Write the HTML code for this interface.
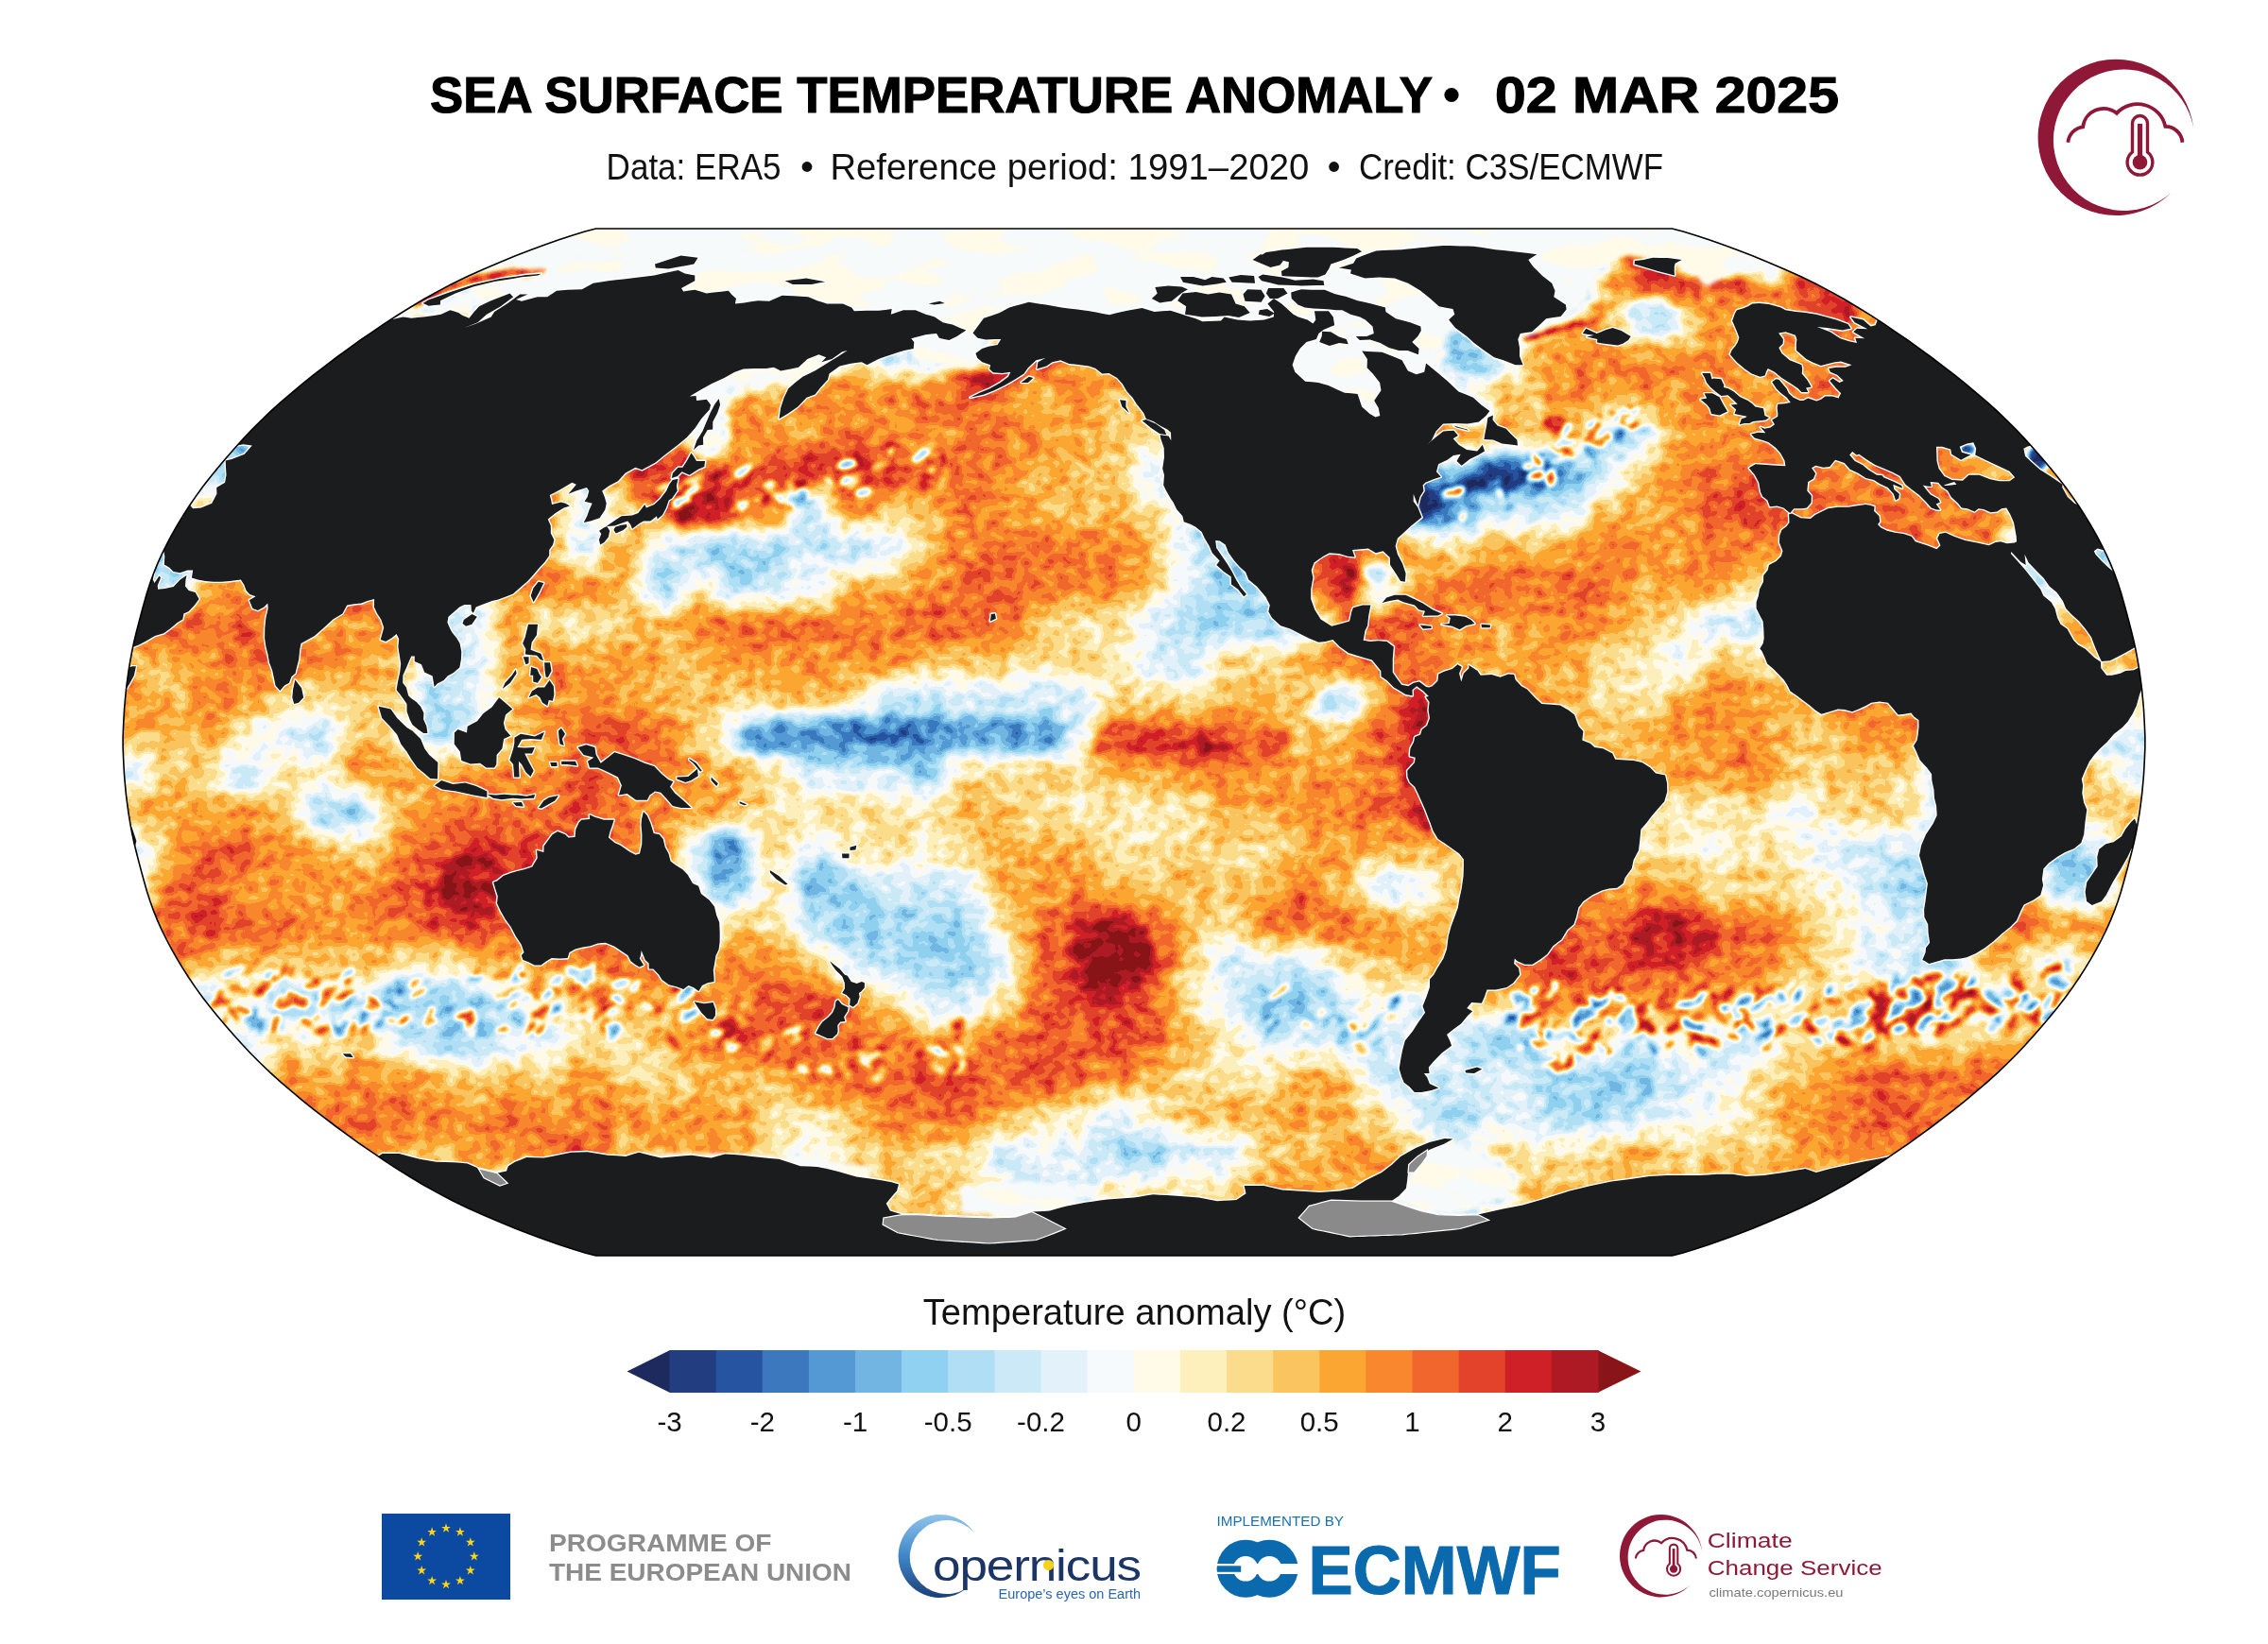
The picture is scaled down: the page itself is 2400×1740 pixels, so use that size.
<!DOCTYPE html>
<html><head><meta charset="utf-8"><title>SST anomaly</title>
<style>
html,body{margin:0;padding:0;background:#fff;}
body{width:2400px;height:1740px;overflow:hidden;position:relative;font-family:"Liberation Sans",sans-serif;}
svg{position:absolute;left:0;top:0;}

</style></head><body>
<svg width="2400" height="1740" viewBox="0 0 2400 1740">
<defs>
<clipPath id="mapclip"><path d="M1769.5,1329.0 L1781.1,1325.9 L1793.9,1322.1 L1807.8,1317.5 L1822.7,1312.3 L1838.3,1306.5 L1854.6,1300.2 L1871.4,1293.3 L1888.4,1286.0 L1905.3,1278.4 L1921.7,1270.5 L1937.1,1262.4 L1951.7,1254.2 L1965.8,1245.8 L1979.5,1237.3 L1992.9,1228.6 L2006.0,1219.7 L2019.0,1210.8 L2031.7,1201.7 L2044.2,1192.5 L2056.5,1183.2 L2068.6,1173.8 L2080.4,1164.3 L2091.9,1154.7 L2103.1,1145.1 L2113.9,1135.3 L2124.2,1125.5 L2134.0,1115.7 L2143.4,1105.8 L2152.4,1095.8 L2161.1,1085.8 L2169.6,1075.7 L2177.9,1065.6 L2185.7,1055.5 L2193.0,1045.4 L2199.9,1035.2 L2206.4,1025.1 L2212.6,1014.9 L2218.4,1004.7 L2223.8,994.5 L2228.8,984.3 L2233.4,974.1 L2237.5,963.9 L2241.2,953.7 L2244.5,943.5 L2247.4,933.3 L2250.2,923.1 L2252.9,912.9 L2255.5,902.7 L2258.0,892.5 L2260.2,882.3 L2262.1,872.1 L2263.8,862.0 L2265.2,851.8 L2266.5,841.6 L2267.5,831.4 L2268.4,821.2 L2269.0,811.0 L2269.5,800.8 L2269.9,790.6 L2269.9,780.4 L2269.5,770.2 L2269.0,760.0 L2268.4,749.8 L2267.5,739.6 L2266.5,729.4 L2265.2,719.2 L2263.8,709.0 L2262.1,698.9 L2260.2,688.7 L2258.0,678.5 L2255.5,668.3 L2252.9,658.1 L2250.2,647.9 L2247.4,637.7 L2244.5,627.5 L2241.2,617.3 L2237.5,607.1 L2233.4,596.9 L2228.8,586.7 L2223.8,576.5 L2218.4,566.3 L2212.6,556.1 L2206.4,545.9 L2199.9,535.8 L2193.0,525.6 L2185.7,515.5 L2177.9,505.4 L2169.6,495.3 L2161.1,485.2 L2152.4,475.2 L2143.4,465.2 L2134.0,455.3 L2124.2,445.5 L2113.9,435.7 L2103.1,425.9 L2091.9,416.3 L2080.4,406.7 L2068.6,397.2 L2056.5,387.8 L2044.2,378.5 L2031.7,369.3 L2019.0,360.2 L2006.0,351.3 L1992.9,342.4 L1979.5,333.7 L1965.8,325.2 L1951.7,316.8 L1937.1,308.6 L1921.7,300.5 L1905.3,292.6 L1888.4,285.0 L1871.4,277.7 L1854.6,270.8 L1838.3,264.5 L1822.7,258.7 L1807.8,253.5 L1793.9,248.9 L1781.1,245.1 L1769.5,242.0 L630.5,242.0 L618.9,245.1 L606.1,248.9 L592.2,253.5 L577.3,258.7 L561.7,264.5 L545.4,270.8 L528.6,277.7 L511.6,285.0 L494.7,292.6 L478.3,300.5 L462.9,308.6 L448.3,316.8 L434.2,325.2 L420.5,333.7 L407.1,342.4 L394.0,351.3 L381.0,360.2 L368.3,369.3 L355.8,378.5 L343.5,387.8 L331.4,397.2 L319.6,406.7 L308.1,416.3 L296.9,425.9 L286.1,435.7 L275.8,445.5 L266.0,455.3 L256.6,465.2 L247.6,475.2 L238.9,485.2 L230.4,495.3 L222.1,505.4 L214.3,515.5 L207.0,525.6 L200.1,535.8 L193.6,545.9 L187.4,556.1 L181.6,566.3 L176.2,576.5 L171.2,586.7 L166.6,596.9 L162.5,607.1 L158.8,617.3 L155.5,627.5 L152.6,637.7 L149.8,647.9 L147.1,658.1 L144.5,668.3 L142.0,678.5 L139.8,688.7 L137.9,698.9 L136.2,709.0 L134.8,719.2 L133.5,729.4 L132.5,739.6 L131.6,749.8 L131.0,760.0 L130.5,770.2 L130.1,780.4 L130.1,790.6 L130.5,800.8 L131.0,811.0 L131.6,821.2 L132.5,831.4 L133.5,841.6 L134.8,851.8 L136.2,862.0 L137.9,872.1 L139.8,882.3 L142.0,892.5 L144.5,902.7 L147.1,912.9 L149.8,923.1 L152.6,933.3 L155.5,943.5 L158.8,953.7 L162.5,963.9 L166.6,974.1 L171.2,984.3 L176.2,994.5 L181.6,1004.7 L187.4,1014.9 L193.6,1025.1 L200.1,1035.2 L207.0,1045.4 L214.3,1055.5 L222.1,1065.6 L230.4,1075.7 L238.9,1085.8 L247.6,1095.8 L256.6,1105.8 L266.0,1115.7 L275.8,1125.5 L286.1,1135.3 L296.9,1145.1 L308.1,1154.7 L319.6,1164.3 L331.4,1173.8 L343.5,1183.2 L355.8,1192.5 L368.3,1201.7 L381.0,1210.8 L394.0,1219.7 L407.1,1228.6 L420.5,1237.3 L434.2,1245.8 L448.3,1254.2 L462.9,1262.4 L478.3,1270.5 L494.7,1278.4 L511.6,1286.0 L528.6,1293.3 L545.4,1300.2 L561.7,1306.5 L577.3,1312.3 L592.2,1317.5 L606.1,1322.1 L618.9,1325.9 L630.5,1329.0Z"/></clipPath>
<filter id="sst" filterUnits="userSpaceOnUse" x="0" y="120" width="2400" height="1340" color-interpolation-filters="sRGB">
<feTurbulence type="fractalNoise" baseFrequency="0.06 0.075" numOctaves="2" seed="7" result="t"/>
<feColorMatrix in="t" type="matrix" values="0 0 0 1 0  0 0 0 1 0  0 0 0 1 0  0 0 0 0 1" result="n"/>
<feTurbulence type="fractalNoise" baseFrequency="0.012 0.016" numOctaves="2" seed="3" result="t2"/>
<feColorMatrix in="t2" type="matrix" values="0 0 0 1 0  0 0 0 1 0  0 0 0 1 0  0 0 0 0 1" result="n2"/>
<feComposite in="SourceGraphic" in2="n" operator="arithmetic" k1="0" k2="1" k3="0.27" k4="-0.1350" result="m1"/>
<feComposite in="m1" in2="n2" operator="arithmetic" k1="0" k2="1" k3="0.1215" k4="-0.0608" result="m"/>
<feComponentTransfer in="m"><feFuncR type="discrete" tableValues="0.110 0.133 0.149 0.231 0.329 0.447 0.565 0.690 0.796 0.890 0.965 1.000 0.996 0.984 0.980 0.984 0.973 0.945 0.886 0.816 0.678 0.541"/><feFuncG type="discrete" tableValues="0.165 0.239 0.329 0.471 0.600 0.710 0.816 0.871 0.914 0.949 0.980 0.984 0.941 0.863 0.769 0.651 0.529 0.400 0.263 0.125 0.102 0.082"/><feFuncB type="discrete" tableValues="0.369 0.502 0.627 0.745 0.831 0.890 0.941 0.961 0.969 0.980 0.988 0.910 0.741 0.549 0.369 0.196 0.180 0.176 0.165 0.153 0.141 0.098"/></feComponentTransfer>
</filter>
<filter id="blurC" filterUnits="userSpaceOnUse" x="0" y="120" width="2400" height="1340" color-interpolation-filters="sRGB"><feGaussianBlur stdDeviation="13"/></filter>
<filter id="blurM" filterUnits="userSpaceOnUse" x="0" y="120" width="2400" height="1340" color-interpolation-filters="sRGB"><feGaussianBlur stdDeviation="6"/></filter>
<filter id="blurS" filterUnits="userSpaceOnUse" x="0" y="120" width="2400" height="1340" color-interpolation-filters="sRGB"><feGaussianBlur stdDeviation="2.6"/></filter>
<filter id="iceblur" filterUnits="userSpaceOnUse" x="0" y="120" width="2400" height="1340" color-interpolation-filters="sRGB"><feGaussianBlur stdDeviation="2.5" result="b"/>
<feTurbulence type="fractalNoise" baseFrequency="0.012 0.035" numOctaves="2" seed="5" result="t"/>
<feColorMatrix in="t" type="matrix" values="0 0 0 0 1  0 0 0 0 0.984  0 0 0 0 0.91  0 0 0 16 -8.3" result="cream"/>
<feComposite in="cream" in2="b" operator="in" result="c2"/>
<feMerge><feMergeNode in="b"/><feMergeNode in="c2"/></feMerge></filter>
</defs>
<g clip-path="url(#mapclip)">
<rect x="100" y="230" width="2200" height="1110" fill="#f6903c"/>
<g filter="url(#sst)">
<g filter="url(#blurC)" shape-rendering="crispEdges">
<rect x="0" y="120" width="241" height="41" fill="rgb(78,78,78)"/>
<rect x="240" y="120" width="161" height="41" fill="rgb(221,221,221)"/>
<rect x="400" y="120" width="161" height="41" fill="rgb(201,201,201)"/>
<rect x="560" y="120" width="1121" height="41" fill="rgb(128,128,128)"/>
<rect x="1680" y="120" width="41" height="41" fill="rgb(170,170,170)"/>
<rect x="1720" y="120" width="41" height="41" fill="rgb(187,187,187)"/>
<rect x="1760" y="120" width="161" height="41" fill="rgb(128,128,128)"/>
<rect x="1920" y="120" width="241" height="41" fill="rgb(221,221,221)"/>
<rect x="2160" y="120" width="241" height="41" fill="rgb(23,23,23)"/>
<rect x="0" y="160" width="241" height="41" fill="rgb(78,78,78)"/>
<rect x="240" y="160" width="161" height="41" fill="rgb(221,221,221)"/>
<rect x="400" y="160" width="161" height="41" fill="rgb(201,201,201)"/>
<rect x="560" y="160" width="1121" height="41" fill="rgb(128,128,128)"/>
<rect x="1680" y="160" width="41" height="41" fill="rgb(170,170,170)"/>
<rect x="1720" y="160" width="41" height="41" fill="rgb(187,187,187)"/>
<rect x="1760" y="160" width="161" height="41" fill="rgb(128,128,128)"/>
<rect x="1920" y="160" width="241" height="41" fill="rgb(221,221,221)"/>
<rect x="2160" y="160" width="241" height="41" fill="rgb(23,23,23)"/>
<rect x="0" y="200" width="241" height="41" fill="rgb(78,78,78)"/>
<rect x="240" y="200" width="161" height="41" fill="rgb(221,221,221)"/>
<rect x="400" y="200" width="161" height="41" fill="rgb(201,201,201)"/>
<rect x="560" y="200" width="1121" height="41" fill="rgb(128,128,128)"/>
<rect x="1680" y="200" width="41" height="41" fill="rgb(170,170,170)"/>
<rect x="1720" y="200" width="41" height="41" fill="rgb(187,187,187)"/>
<rect x="1760" y="200" width="161" height="41" fill="rgb(128,128,128)"/>
<rect x="1920" y="200" width="241" height="41" fill="rgb(221,221,221)"/>
<rect x="2160" y="200" width="241" height="41" fill="rgb(23,23,23)"/>
<rect x="0" y="240" width="241" height="41" fill="rgb(78,78,78)"/>
<rect x="240" y="240" width="161" height="41" fill="rgb(221,221,221)"/>
<rect x="400" y="240" width="161" height="41" fill="rgb(201,201,201)"/>
<rect x="560" y="240" width="1121" height="41" fill="rgb(128,128,128)"/>
<rect x="1680" y="240" width="41" height="41" fill="rgb(170,170,170)"/>
<rect x="1720" y="240" width="41" height="41" fill="rgb(187,187,187)"/>
<rect x="1760" y="240" width="161" height="41" fill="rgb(128,128,128)"/>
<rect x="1920" y="240" width="241" height="41" fill="rgb(221,221,221)"/>
<rect x="2160" y="240" width="241" height="41" fill="rgb(23,23,23)"/>
<rect x="0" y="280" width="281" height="41" fill="rgb(78,78,78)"/>
<rect x="280" y="280" width="161" height="41" fill="rgb(221,221,221)"/>
<rect x="440" y="280" width="41" height="41" fill="rgb(201,201,201)"/>
<rect x="480" y="280" width="41" height="41" fill="rgb(128,128,128)"/>
<rect x="520" y="280" width="41" height="41" fill="rgb(201,201,201)"/>
<rect x="560" y="280" width="1121" height="41" fill="rgb(128,128,128)"/>
<rect x="1680" y="280" width="41" height="41" fill="rgb(170,170,170)"/>
<rect x="1720" y="280" width="41" height="41" fill="rgb(221,221,221)"/>
<rect x="1760" y="280" width="81" height="41" fill="rgb(201,201,201)"/>
<rect x="1840" y="280" width="41" height="41" fill="rgb(187,187,187)"/>
<rect x="1880" y="280" width="41" height="41" fill="rgb(201,201,201)"/>
<rect x="1920" y="280" width="241" height="41" fill="rgb(221,221,221)"/>
<rect x="2160" y="280" width="241" height="41" fill="rgb(23,23,23)"/>
<rect x="0" y="320" width="281" height="41" fill="rgb(78,78,78)"/>
<rect x="280" y="320" width="161" height="41" fill="rgb(221,221,221)"/>
<rect x="440" y="320" width="41" height="41" fill="rgb(201,201,201)"/>
<rect x="480" y="320" width="1161" height="41" fill="rgb(128,128,128)"/>
<rect x="1640" y="320" width="81" height="41" fill="rgb(187,187,187)"/>
<rect x="1720" y="320" width="41" height="41" fill="rgb(104,104,104)"/>
<rect x="1760" y="320" width="41" height="41" fill="rgb(150,150,150)"/>
<rect x="1800" y="320" width="81" height="41" fill="rgb(187,187,187)"/>
<rect x="1880" y="320" width="41" height="41" fill="rgb(201,201,201)"/>
<rect x="1920" y="320" width="41" height="41" fill="rgb(221,221,221)"/>
<rect x="1960" y="320" width="161" height="41" fill="rgb(170,170,170)"/>
<rect x="2120" y="320" width="281" height="41" fill="rgb(23,23,23)"/>
<rect x="0" y="360" width="321" height="41" fill="rgb(78,78,78)"/>
<rect x="320" y="360" width="121" height="41" fill="rgb(221,221,221)"/>
<rect x="440" y="360" width="41" height="41" fill="rgb(201,201,201)"/>
<rect x="480" y="360" width="281" height="41" fill="rgb(128,128,128)"/>
<rect x="760" y="360" width="41" height="41" fill="rgb(187,187,187)"/>
<rect x="800" y="360" width="41" height="41" fill="rgb(170,170,170)"/>
<rect x="840" y="360" width="41" height="41" fill="rgb(128,128,128)"/>
<rect x="880" y="360" width="41" height="41" fill="rgb(170,170,170)"/>
<rect x="920" y="360" width="81" height="41" fill="rgb(104,104,104)"/>
<rect x="1000" y="360" width="41" height="41" fill="rgb(150,150,150)"/>
<rect x="1040" y="360" width="81" height="41" fill="rgb(221,221,221)"/>
<rect x="1120" y="360" width="41" height="41" fill="rgb(187,187,187)"/>
<rect x="1160" y="360" width="81" height="41" fill="rgb(170,170,170)"/>
<rect x="1240" y="360" width="281" height="41" fill="rgb(128,128,128)"/>
<rect x="1520" y="360" width="81" height="41" fill="rgb(78,78,78)"/>
<rect x="1600" y="360" width="41" height="41" fill="rgb(170,170,170)"/>
<rect x="1640" y="360" width="241" height="41" fill="rgb(187,187,187)"/>
<rect x="1880" y="360" width="41" height="41" fill="rgb(170,170,170)"/>
<rect x="1920" y="360" width="81" height="41" fill="rgb(201,201,201)"/>
<rect x="2000" y="360" width="81" height="41" fill="rgb(170,170,170)"/>
<rect x="2080" y="360" width="321" height="41" fill="rgb(23,23,23)"/>
<rect x="0" y="400" width="361" height="41" fill="rgb(78,78,78)"/>
<rect x="360" y="400" width="81" height="41" fill="rgb(221,221,221)"/>
<rect x="440" y="400" width="41" height="41" fill="rgb(201,201,201)"/>
<rect x="480" y="400" width="121" height="41" fill="rgb(128,128,128)"/>
<rect x="600" y="400" width="81" height="41" fill="rgb(201,201,201)"/>
<rect x="680" y="400" width="81" height="41" fill="rgb(128,128,128)"/>
<rect x="760" y="400" width="41" height="41" fill="rgb(187,187,187)"/>
<rect x="800" y="400" width="41" height="41" fill="rgb(170,170,170)"/>
<rect x="840" y="400" width="121" height="41" fill="rgb(187,187,187)"/>
<rect x="960" y="400" width="81" height="41" fill="rgb(201,201,201)"/>
<rect x="1040" y="400" width="41" height="41" fill="rgb(187,187,187)"/>
<rect x="1080" y="400" width="41" height="41" fill="rgb(170,170,170)"/>
<rect x="1120" y="400" width="41" height="41" fill="rgb(187,187,187)"/>
<rect x="1160" y="400" width="81" height="41" fill="rgb(170,170,170)"/>
<rect x="1240" y="400" width="41" height="41" fill="rgb(150,150,150)"/>
<rect x="1280" y="400" width="281" height="41" fill="rgb(128,128,128)"/>
<rect x="1560" y="400" width="41" height="41" fill="rgb(170,170,170)"/>
<rect x="1600" y="400" width="41" height="41" fill="rgb(150,150,150)"/>
<rect x="1640" y="400" width="201" height="41" fill="rgb(187,187,187)"/>
<rect x="1840" y="400" width="41" height="41" fill="rgb(170,170,170)"/>
<rect x="1880" y="400" width="161" height="41" fill="rgb(201,201,201)"/>
<rect x="2040" y="400" width="81" height="41" fill="rgb(187,187,187)"/>
<rect x="2120" y="400" width="281" height="41" fill="rgb(23,23,23)"/>
<rect x="0" y="440" width="401" height="41" fill="rgb(78,78,78)"/>
<rect x="400" y="440" width="41" height="41" fill="rgb(221,221,221)"/>
<rect x="440" y="440" width="41" height="41" fill="rgb(201,201,201)"/>
<rect x="480" y="440" width="121" height="41" fill="rgb(187,187,187)"/>
<rect x="600" y="440" width="81" height="41" fill="rgb(201,201,201)"/>
<rect x="680" y="440" width="41" height="41" fill="rgb(221,221,221)"/>
<rect x="720" y="440" width="41" height="41" fill="rgb(128,128,128)"/>
<rect x="760" y="440" width="121" height="41" fill="rgb(187,187,187)"/>
<rect x="880" y="440" width="41" height="41" fill="rgb(201,201,201)"/>
<rect x="920" y="440" width="81" height="41" fill="rgb(187,187,187)"/>
<rect x="1000" y="440" width="41" height="41" fill="rgb(201,201,201)"/>
<rect x="1040" y="440" width="81" height="41" fill="rgb(187,187,187)"/>
<rect x="1120" y="440" width="81" height="41" fill="rgb(170,170,170)"/>
<rect x="1200" y="440" width="121" height="41" fill="rgb(150,150,150)"/>
<rect x="1320" y="440" width="161" height="41" fill="rgb(128,128,128)"/>
<rect x="1480" y="440" width="121" height="41" fill="rgb(187,187,187)"/>
<rect x="1600" y="440" width="81" height="41" fill="rgb(170,170,170)"/>
<rect x="1680" y="440" width="81" height="41" fill="rgb(104,104,104)"/>
<rect x="1760" y="440" width="161" height="41" fill="rgb(187,187,187)"/>
<rect x="1920" y="440" width="121" height="41" fill="rgb(201,201,201)"/>
<rect x="2040" y="440" width="81" height="41" fill="rgb(187,187,187)"/>
<rect x="2120" y="440" width="41" height="41" fill="rgb(170,170,170)"/>
<rect x="2160" y="440" width="241" height="41" fill="rgb(23,23,23)"/>
<rect x="0" y="480" width="441" height="41" fill="rgb(78,78,78)"/>
<rect x="440" y="480" width="161" height="41" fill="rgb(187,187,187)"/>
<rect x="600" y="480" width="41" height="41" fill="rgb(104,104,104)"/>
<rect x="640" y="480" width="41" height="41" fill="rgb(201,201,201)"/>
<rect x="680" y="480" width="81" height="41" fill="rgb(221,221,221)"/>
<rect x="760" y="480" width="41" height="41" fill="rgb(201,201,201)"/>
<rect x="800" y="480" width="161" height="41" fill="rgb(221,221,221)"/>
<rect x="960" y="480" width="81" height="41" fill="rgb(201,201,201)"/>
<rect x="1040" y="480" width="41" height="41" fill="rgb(187,187,187)"/>
<rect x="1080" y="480" width="121" height="41" fill="rgb(170,170,170)"/>
<rect x="1200" y="480" width="161" height="41" fill="rgb(104,104,104)"/>
<rect x="1360" y="480" width="81" height="41" fill="rgb(128,128,128)"/>
<rect x="1440" y="480" width="81" height="41" fill="rgb(23,23,23)"/>
<rect x="1520" y="480" width="41" height="41" fill="rgb(104,104,104)"/>
<rect x="1560" y="480" width="81" height="41" fill="rgb(23,23,23)"/>
<rect x="1640" y="480" width="41" height="41" fill="rgb(54,54,54)"/>
<rect x="1680" y="480" width="41" height="41" fill="rgb(104,104,104)"/>
<rect x="1720" y="480" width="41" height="41" fill="rgb(170,170,170)"/>
<rect x="1760" y="480" width="41" height="41" fill="rgb(187,187,187)"/>
<rect x="1800" y="480" width="121" height="41" fill="rgb(201,201,201)"/>
<rect x="1920" y="480" width="41" height="41" fill="rgb(187,187,187)"/>
<rect x="1960" y="480" width="81" height="41" fill="rgb(201,201,201)"/>
<rect x="2040" y="480" width="81" height="41" fill="rgb(187,187,187)"/>
<rect x="2120" y="480" width="281" height="41" fill="rgb(170,170,170)"/>
<rect x="0" y="520" width="201" height="41" fill="rgb(78,78,78)"/>
<rect x="200" y="520" width="81" height="41" fill="rgb(170,170,170)"/>
<rect x="280" y="520" width="81" height="41" fill="rgb(78,78,78)"/>
<rect x="360" y="520" width="241" height="41" fill="rgb(187,187,187)"/>
<rect x="600" y="520" width="41" height="41" fill="rgb(104,104,104)"/>
<rect x="640" y="520" width="41" height="41" fill="rgb(150,150,150)"/>
<rect x="680" y="520" width="41" height="41" fill="rgb(201,201,201)"/>
<rect x="720" y="520" width="41" height="41" fill="rgb(242,242,242)"/>
<rect x="760" y="520" width="41" height="41" fill="rgb(221,221,221)"/>
<rect x="800" y="520" width="41" height="41" fill="rgb(201,201,201)"/>
<rect x="840" y="520" width="41" height="41" fill="rgb(78,78,78)"/>
<rect x="880" y="520" width="41" height="41" fill="rgb(201,201,201)"/>
<rect x="920" y="520" width="81" height="41" fill="rgb(170,170,170)"/>
<rect x="1000" y="520" width="81" height="41" fill="rgb(187,187,187)"/>
<rect x="1080" y="520" width="121" height="41" fill="rgb(170,170,170)"/>
<rect x="1200" y="520" width="41" height="41" fill="rgb(150,150,150)"/>
<rect x="1240" y="520" width="121" height="41" fill="rgb(104,104,104)"/>
<rect x="1360" y="520" width="41" height="41" fill="rgb(201,201,201)"/>
<rect x="1400" y="520" width="81" height="41" fill="rgb(187,187,187)"/>
<rect x="1480" y="520" width="41" height="41" fill="rgb(23,23,23)"/>
<rect x="1520" y="520" width="41" height="41" fill="rgb(54,54,54)"/>
<rect x="1560" y="520" width="121" height="41" fill="rgb(104,104,104)"/>
<rect x="1680" y="520" width="81" height="41" fill="rgb(170,170,170)"/>
<rect x="1760" y="520" width="41" height="41" fill="rgb(187,187,187)"/>
<rect x="1800" y="520" width="241" height="41" fill="rgb(201,201,201)"/>
<rect x="2040" y="520" width="161" height="41" fill="rgb(187,187,187)"/>
<rect x="2200" y="520" width="201" height="41" fill="rgb(78,78,78)"/>
<rect x="0" y="560" width="241" height="41" fill="rgb(78,78,78)"/>
<rect x="240" y="560" width="201" height="41" fill="rgb(187,187,187)"/>
<rect x="440" y="560" width="81" height="41" fill="rgb(104,104,104)"/>
<rect x="520" y="560" width="81" height="41" fill="rgb(170,170,170)"/>
<rect x="600" y="560" width="41" height="41" fill="rgb(104,104,104)"/>
<rect x="640" y="560" width="41" height="41" fill="rgb(187,187,187)"/>
<rect x="680" y="560" width="41" height="41" fill="rgb(104,104,104)"/>
<rect x="720" y="560" width="121" height="41" fill="rgb(78,78,78)"/>
<rect x="840" y="560" width="41" height="41" fill="rgb(104,104,104)"/>
<rect x="880" y="560" width="41" height="41" fill="rgb(78,78,78)"/>
<rect x="920" y="560" width="41" height="41" fill="rgb(104,104,104)"/>
<rect x="960" y="560" width="41" height="41" fill="rgb(170,170,170)"/>
<rect x="1000" y="560" width="41" height="41" fill="rgb(187,187,187)"/>
<rect x="1040" y="560" width="121" height="41" fill="rgb(201,201,201)"/>
<rect x="1160" y="560" width="41" height="41" fill="rgb(187,187,187)"/>
<rect x="1200" y="560" width="41" height="41" fill="rgb(170,170,170)"/>
<rect x="1240" y="560" width="121" height="41" fill="rgb(104,104,104)"/>
<rect x="1360" y="560" width="41" height="41" fill="rgb(201,201,201)"/>
<rect x="1400" y="560" width="41" height="41" fill="rgb(221,221,221)"/>
<rect x="1440" y="560" width="41" height="41" fill="rgb(187,187,187)"/>
<rect x="1480" y="560" width="41" height="41" fill="rgb(170,170,170)"/>
<rect x="1520" y="560" width="41" height="41" fill="rgb(150,150,150)"/>
<rect x="1560" y="560" width="81" height="41" fill="rgb(170,170,170)"/>
<rect x="1640" y="560" width="161" height="41" fill="rgb(187,187,187)"/>
<rect x="1800" y="560" width="41" height="41" fill="rgb(201,201,201)"/>
<rect x="1840" y="560" width="81" height="41" fill="rgb(187,187,187)"/>
<rect x="1920" y="560" width="201" height="41" fill="rgb(201,201,201)"/>
<rect x="2120" y="560" width="81" height="41" fill="rgb(104,104,104)"/>
<rect x="2200" y="560" width="201" height="41" fill="rgb(78,78,78)"/>
<rect x="0" y="600" width="201" height="41" fill="rgb(78,78,78)"/>
<rect x="200" y="600" width="41" height="41" fill="rgb(170,170,170)"/>
<rect x="240" y="600" width="201" height="41" fill="rgb(187,187,187)"/>
<rect x="440" y="600" width="81" height="41" fill="rgb(104,104,104)"/>
<rect x="520" y="600" width="41" height="41" fill="rgb(187,187,187)"/>
<rect x="560" y="600" width="41" height="41" fill="rgb(201,201,201)"/>
<rect x="600" y="600" width="41" height="41" fill="rgb(187,187,187)"/>
<rect x="640" y="600" width="41" height="41" fill="rgb(170,170,170)"/>
<rect x="680" y="600" width="41" height="41" fill="rgb(78,78,78)"/>
<rect x="720" y="600" width="41" height="41" fill="rgb(150,150,150)"/>
<rect x="760" y="600" width="41" height="41" fill="rgb(78,78,78)"/>
<rect x="800" y="600" width="81" height="41" fill="rgb(104,104,104)"/>
<rect x="880" y="600" width="81" height="41" fill="rgb(170,170,170)"/>
<rect x="960" y="600" width="41" height="41" fill="rgb(187,187,187)"/>
<rect x="1000" y="600" width="161" height="41" fill="rgb(201,201,201)"/>
<rect x="1160" y="600" width="41" height="41" fill="rgb(187,187,187)"/>
<rect x="1200" y="600" width="41" height="41" fill="rgb(170,170,170)"/>
<rect x="1240" y="600" width="41" height="41" fill="rgb(104,104,104)"/>
<rect x="1280" y="600" width="41" height="41" fill="rgb(78,78,78)"/>
<rect x="1320" y="600" width="41" height="41" fill="rgb(104,104,104)"/>
<rect x="1360" y="600" width="41" height="41" fill="rgb(201,201,201)"/>
<rect x="1400" y="600" width="41" height="41" fill="rgb(221,221,221)"/>
<rect x="1440" y="600" width="41" height="41" fill="rgb(104,104,104)"/>
<rect x="1480" y="600" width="81" height="41" fill="rgb(187,187,187)"/>
<rect x="1560" y="600" width="161" height="41" fill="rgb(201,201,201)"/>
<rect x="1720" y="600" width="41" height="41" fill="rgb(170,170,170)"/>
<rect x="1760" y="600" width="81" height="41" fill="rgb(187,187,187)"/>
<rect x="1840" y="600" width="121" height="41" fill="rgb(150,150,150)"/>
<rect x="1960" y="600" width="161" height="41" fill="rgb(201,201,201)"/>
<rect x="2120" y="600" width="121" height="41" fill="rgb(104,104,104)"/>
<rect x="2240" y="600" width="161" height="41" fill="rgb(78,78,78)"/>
<rect x="0" y="640" width="161" height="41" fill="rgb(170,170,170)"/>
<rect x="160" y="640" width="161" height="41" fill="rgb(201,201,201)"/>
<rect x="320" y="640" width="121" height="41" fill="rgb(187,187,187)"/>
<rect x="440" y="640" width="81" height="41" fill="rgb(104,104,104)"/>
<rect x="520" y="640" width="41" height="41" fill="rgb(187,187,187)"/>
<rect x="560" y="640" width="81" height="41" fill="rgb(150,150,150)"/>
<rect x="640" y="640" width="81" height="41" fill="rgb(170,170,170)"/>
<rect x="720" y="640" width="41" height="41" fill="rgb(187,187,187)"/>
<rect x="760" y="640" width="321" height="41" fill="rgb(201,201,201)"/>
<rect x="1080" y="640" width="41" height="41" fill="rgb(170,170,170)"/>
<rect x="1120" y="640" width="81" height="41" fill="rgb(150,150,150)"/>
<rect x="1200" y="640" width="41" height="41" fill="rgb(104,104,104)"/>
<rect x="1240" y="640" width="161" height="41" fill="rgb(78,78,78)"/>
<rect x="1400" y="640" width="41" height="41" fill="rgb(187,187,187)"/>
<rect x="1440" y="640" width="81" height="41" fill="rgb(201,201,201)"/>
<rect x="1520" y="640" width="201" height="41" fill="rgb(187,187,187)"/>
<rect x="1720" y="640" width="41" height="41" fill="rgb(170,170,170)"/>
<rect x="1760" y="640" width="41" height="41" fill="rgb(150,150,150)"/>
<rect x="1800" y="640" width="161" height="41" fill="rgb(104,104,104)"/>
<rect x="1960" y="640" width="41" height="41" fill="rgb(187,187,187)"/>
<rect x="2000" y="640" width="81" height="41" fill="rgb(201,201,201)"/>
<rect x="2080" y="640" width="81" height="41" fill="rgb(104,104,104)"/>
<rect x="2160" y="640" width="241" height="41" fill="rgb(187,187,187)"/>
<rect x="0" y="680" width="161" height="41" fill="rgb(170,170,170)"/>
<rect x="160" y="680" width="81" height="41" fill="rgb(187,187,187)"/>
<rect x="240" y="680" width="81" height="41" fill="rgb(201,201,201)"/>
<rect x="320" y="680" width="81" height="41" fill="rgb(187,187,187)"/>
<rect x="400" y="680" width="41" height="41" fill="rgb(170,170,170)"/>
<rect x="440" y="680" width="81" height="41" fill="rgb(104,104,104)"/>
<rect x="520" y="680" width="41" height="41" fill="rgb(170,170,170)"/>
<rect x="560" y="680" width="121" height="41" fill="rgb(187,187,187)"/>
<rect x="680" y="680" width="81" height="41" fill="rgb(170,170,170)"/>
<rect x="760" y="680" width="201" height="41" fill="rgb(187,187,187)"/>
<rect x="960" y="680" width="121" height="41" fill="rgb(170,170,170)"/>
<rect x="1080" y="680" width="41" height="41" fill="rgb(150,150,150)"/>
<rect x="1120" y="680" width="41" height="41" fill="rgb(170,170,170)"/>
<rect x="1160" y="680" width="41" height="41" fill="rgb(150,150,150)"/>
<rect x="1200" y="680" width="81" height="41" fill="rgb(104,104,104)"/>
<rect x="1280" y="680" width="41" height="41" fill="rgb(170,170,170)"/>
<rect x="1320" y="680" width="41" height="41" fill="rgb(150,150,150)"/>
<rect x="1360" y="680" width="41" height="41" fill="rgb(187,187,187)"/>
<rect x="1400" y="680" width="121" height="41" fill="rgb(201,201,201)"/>
<rect x="1520" y="680" width="41" height="41" fill="rgb(187,187,187)"/>
<rect x="1560" y="680" width="41" height="41" fill="rgb(170,170,170)"/>
<rect x="1600" y="680" width="81" height="41" fill="rgb(187,187,187)"/>
<rect x="1680" y="680" width="81" height="41" fill="rgb(150,150,150)"/>
<rect x="1760" y="680" width="41" height="41" fill="rgb(104,104,104)"/>
<rect x="1800" y="680" width="41" height="41" fill="rgb(170,170,170)"/>
<rect x="1840" y="680" width="81" height="41" fill="rgb(150,150,150)"/>
<rect x="1920" y="680" width="161" height="41" fill="rgb(187,187,187)"/>
<rect x="2080" y="680" width="41" height="41" fill="rgb(104,104,104)"/>
<rect x="2120" y="680" width="81" height="41" fill="rgb(187,187,187)"/>
<rect x="2200" y="680" width="201" height="41" fill="rgb(170,170,170)"/>
<rect x="0" y="720" width="161" height="41" fill="rgb(187,187,187)"/>
<rect x="160" y="720" width="41" height="41" fill="rgb(170,170,170)"/>
<rect x="200" y="720" width="81" height="41" fill="rgb(187,187,187)"/>
<rect x="280" y="720" width="41" height="41" fill="rgb(170,170,170)"/>
<rect x="320" y="720" width="81" height="41" fill="rgb(150,150,150)"/>
<rect x="400" y="720" width="41" height="41" fill="rgb(170,170,170)"/>
<rect x="440" y="720" width="41" height="41" fill="rgb(78,78,78)"/>
<rect x="480" y="720" width="41" height="41" fill="rgb(104,104,104)"/>
<rect x="520" y="720" width="41" height="41" fill="rgb(170,170,170)"/>
<rect x="560" y="720" width="121" height="41" fill="rgb(187,187,187)"/>
<rect x="680" y="720" width="81" height="41" fill="rgb(170,170,170)"/>
<rect x="760" y="720" width="41" height="41" fill="rgb(150,150,150)"/>
<rect x="800" y="720" width="81" height="41" fill="rgb(170,170,170)"/>
<rect x="880" y="720" width="41" height="41" fill="rgb(150,150,150)"/>
<rect x="920" y="720" width="241" height="41" fill="rgb(104,104,104)"/>
<rect x="1160" y="720" width="121" height="41" fill="rgb(150,150,150)"/>
<rect x="1280" y="720" width="121" height="41" fill="rgb(170,170,170)"/>
<rect x="1400" y="720" width="41" height="41" fill="rgb(104,104,104)"/>
<rect x="1440" y="720" width="41" height="41" fill="rgb(170,170,170)"/>
<rect x="1480" y="720" width="81" height="41" fill="rgb(221,221,221)"/>
<rect x="1560" y="720" width="41" height="41" fill="rgb(170,170,170)"/>
<rect x="1600" y="720" width="41" height="41" fill="rgb(187,187,187)"/>
<rect x="1640" y="720" width="41" height="41" fill="rgb(170,170,170)"/>
<rect x="1680" y="720" width="81" height="41" fill="rgb(150,150,150)"/>
<rect x="1760" y="720" width="41" height="41" fill="rgb(170,170,170)"/>
<rect x="1800" y="720" width="81" height="41" fill="rgb(187,187,187)"/>
<rect x="1880" y="720" width="41" height="41" fill="rgb(170,170,170)"/>
<rect x="1920" y="720" width="241" height="41" fill="rgb(187,187,187)"/>
<rect x="2160" y="720" width="81" height="41" fill="rgb(170,170,170)"/>
<rect x="2240" y="720" width="161" height="41" fill="rgb(150,150,150)"/>
<rect x="0" y="760" width="201" height="41" fill="rgb(170,170,170)"/>
<rect x="200" y="760" width="41" height="41" fill="rgb(187,187,187)"/>
<rect x="240" y="760" width="41" height="41" fill="rgb(150,150,150)"/>
<rect x="280" y="760" width="41" height="41" fill="rgb(104,104,104)"/>
<rect x="320" y="760" width="41" height="41" fill="rgb(78,78,78)"/>
<rect x="360" y="760" width="41" height="41" fill="rgb(170,170,170)"/>
<rect x="400" y="760" width="41" height="41" fill="rgb(150,150,150)"/>
<rect x="440" y="760" width="81" height="41" fill="rgb(104,104,104)"/>
<rect x="520" y="760" width="41" height="41" fill="rgb(170,170,170)"/>
<rect x="560" y="760" width="41" height="41" fill="rgb(187,187,187)"/>
<rect x="600" y="760" width="121" height="41" fill="rgb(201,201,201)"/>
<rect x="720" y="760" width="41" height="41" fill="rgb(170,170,170)"/>
<rect x="760" y="760" width="41" height="41" fill="rgb(104,104,104)"/>
<rect x="800" y="760" width="41" height="41" fill="rgb(78,78,78)"/>
<rect x="840" y="760" width="161" height="41" fill="rgb(54,54,54)"/>
<rect x="1000" y="760" width="121" height="41" fill="rgb(78,78,78)"/>
<rect x="1120" y="760" width="41" height="41" fill="rgb(104,104,104)"/>
<rect x="1160" y="760" width="81" height="41" fill="rgb(201,201,201)"/>
<rect x="1240" y="760" width="81" height="41" fill="rgb(221,221,221)"/>
<rect x="1320" y="760" width="41" height="41" fill="rgb(201,201,201)"/>
<rect x="1360" y="760" width="81" height="41" fill="rgb(170,170,170)"/>
<rect x="1440" y="760" width="41" height="41" fill="rgb(201,201,201)"/>
<rect x="1480" y="760" width="121" height="41" fill="rgb(221,221,221)"/>
<rect x="1600" y="760" width="161" height="41" fill="rgb(170,170,170)"/>
<rect x="1760" y="760" width="121" height="41" fill="rgb(187,187,187)"/>
<rect x="1880" y="760" width="81" height="41" fill="rgb(170,170,170)"/>
<rect x="1960" y="760" width="121" height="41" fill="rgb(187,187,187)"/>
<rect x="2080" y="760" width="41" height="41" fill="rgb(78,78,78)"/>
<rect x="2120" y="760" width="281" height="41" fill="rgb(104,104,104)"/>
<rect x="0" y="800" width="161" height="41" fill="rgb(104,104,104)"/>
<rect x="160" y="800" width="41" height="41" fill="rgb(170,170,170)"/>
<rect x="200" y="800" width="41" height="41" fill="rgb(150,150,150)"/>
<rect x="240" y="800" width="41" height="41" fill="rgb(78,78,78)"/>
<rect x="280" y="800" width="81" height="41" fill="rgb(150,150,150)"/>
<rect x="360" y="800" width="241" height="41" fill="rgb(187,187,187)"/>
<rect x="600" y="800" width="121" height="41" fill="rgb(201,201,201)"/>
<rect x="720" y="800" width="41" height="41" fill="rgb(187,187,187)"/>
<rect x="760" y="800" width="41" height="41" fill="rgb(170,170,170)"/>
<rect x="800" y="800" width="41" height="41" fill="rgb(150,150,150)"/>
<rect x="840" y="800" width="121" height="41" fill="rgb(104,104,104)"/>
<rect x="960" y="800" width="41" height="41" fill="rgb(78,78,78)"/>
<rect x="1000" y="800" width="81" height="41" fill="rgb(150,150,150)"/>
<rect x="1080" y="800" width="121" height="41" fill="rgb(170,170,170)"/>
<rect x="1200" y="800" width="161" height="41" fill="rgb(187,187,187)"/>
<rect x="1360" y="800" width="41" height="41" fill="rgb(170,170,170)"/>
<rect x="1400" y="800" width="41" height="41" fill="rgb(187,187,187)"/>
<rect x="1440" y="800" width="41" height="41" fill="rgb(201,201,201)"/>
<rect x="1480" y="800" width="121" height="41" fill="rgb(221,221,221)"/>
<rect x="1600" y="800" width="161" height="41" fill="rgb(170,170,170)"/>
<rect x="1760" y="800" width="121" height="41" fill="rgb(187,187,187)"/>
<rect x="1880" y="800" width="41" height="41" fill="rgb(150,150,150)"/>
<rect x="1920" y="800" width="81" height="41" fill="rgb(170,170,170)"/>
<rect x="2000" y="800" width="41" height="41" fill="rgb(150,150,150)"/>
<rect x="2040" y="800" width="121" height="41" fill="rgb(78,78,78)"/>
<rect x="2160" y="800" width="81" height="41" fill="rgb(170,170,170)"/>
<rect x="2240" y="800" width="161" height="41" fill="rgb(104,104,104)"/>
<rect x="0" y="840" width="161" height="41" fill="rgb(187,187,187)"/>
<rect x="160" y="840" width="81" height="41" fill="rgb(170,170,170)"/>
<rect x="240" y="840" width="41" height="41" fill="rgb(187,187,187)"/>
<rect x="280" y="840" width="41" height="41" fill="rgb(170,170,170)"/>
<rect x="320" y="840" width="81" height="41" fill="rgb(78,78,78)"/>
<rect x="400" y="840" width="41" height="41" fill="rgb(170,170,170)"/>
<rect x="440" y="840" width="41" height="41" fill="rgb(187,187,187)"/>
<rect x="480" y="840" width="121" height="41" fill="rgb(201,201,201)"/>
<rect x="600" y="840" width="41" height="41" fill="rgb(221,221,221)"/>
<rect x="640" y="840" width="41" height="41" fill="rgb(201,201,201)"/>
<rect x="680" y="840" width="41" height="41" fill="rgb(187,187,187)"/>
<rect x="720" y="840" width="81" height="41" fill="rgb(170,170,170)"/>
<rect x="800" y="840" width="201" height="41" fill="rgb(150,150,150)"/>
<rect x="1000" y="840" width="81" height="41" fill="rgb(170,170,170)"/>
<rect x="1080" y="840" width="201" height="41" fill="rgb(150,150,150)"/>
<rect x="1280" y="840" width="81" height="41" fill="rgb(170,170,170)"/>
<rect x="1360" y="840" width="81" height="41" fill="rgb(187,187,187)"/>
<rect x="1440" y="840" width="121" height="41" fill="rgb(201,201,201)"/>
<rect x="1560" y="840" width="121" height="41" fill="rgb(170,170,170)"/>
<rect x="1680" y="840" width="201" height="41" fill="rgb(150,150,150)"/>
<rect x="1880" y="840" width="41" height="41" fill="rgb(104,104,104)"/>
<rect x="1920" y="840" width="41" height="41" fill="rgb(150,150,150)"/>
<rect x="1960" y="840" width="41" height="41" fill="rgb(170,170,170)"/>
<rect x="2000" y="840" width="41" height="41" fill="rgb(150,150,150)"/>
<rect x="2040" y="840" width="121" height="41" fill="rgb(78,78,78)"/>
<rect x="2160" y="840" width="81" height="41" fill="rgb(150,150,150)"/>
<rect x="2240" y="840" width="161" height="41" fill="rgb(170,170,170)"/>
<rect x="0" y="880" width="161" height="41" fill="rgb(104,104,104)"/>
<rect x="160" y="880" width="41" height="41" fill="rgb(170,170,170)"/>
<rect x="200" y="880" width="81" height="41" fill="rgb(201,201,201)"/>
<rect x="280" y="880" width="41" height="41" fill="rgb(187,187,187)"/>
<rect x="320" y="880" width="41" height="41" fill="rgb(170,170,170)"/>
<rect x="360" y="880" width="41" height="41" fill="rgb(150,150,150)"/>
<rect x="400" y="880" width="41" height="41" fill="rgb(187,187,187)"/>
<rect x="440" y="880" width="41" height="41" fill="rgb(201,201,201)"/>
<rect x="480" y="880" width="81" height="41" fill="rgb(221,221,221)"/>
<rect x="560" y="880" width="161" height="41" fill="rgb(201,201,201)"/>
<rect x="720" y="880" width="41" height="41" fill="rgb(104,104,104)"/>
<rect x="760" y="880" width="41" height="41" fill="rgb(78,78,78)"/>
<rect x="800" y="880" width="41" height="41" fill="rgb(170,170,170)"/>
<rect x="840" y="880" width="41" height="41" fill="rgb(104,104,104)"/>
<rect x="880" y="880" width="41" height="41" fill="rgb(150,150,150)"/>
<rect x="920" y="880" width="41" height="41" fill="rgb(170,170,170)"/>
<rect x="960" y="880" width="81" height="41" fill="rgb(150,150,150)"/>
<rect x="1040" y="880" width="121" height="41" fill="rgb(170,170,170)"/>
<rect x="1160" y="880" width="201" height="41" fill="rgb(150,150,150)"/>
<rect x="1360" y="880" width="41" height="41" fill="rgb(170,170,170)"/>
<rect x="1400" y="880" width="41" height="41" fill="rgb(187,187,187)"/>
<rect x="1440" y="880" width="41" height="41" fill="rgb(170,170,170)"/>
<rect x="1480" y="880" width="41" height="41" fill="rgb(187,187,187)"/>
<rect x="1520" y="880" width="201" height="41" fill="rgb(170,170,170)"/>
<rect x="1720" y="880" width="81" height="41" fill="rgb(150,150,150)"/>
<rect x="1800" y="880" width="41" height="41" fill="rgb(128,128,128)"/>
<rect x="1840" y="880" width="81" height="41" fill="rgb(150,150,150)"/>
<rect x="1920" y="880" width="161" height="41" fill="rgb(104,104,104)"/>
<rect x="2080" y="880" width="121" height="41" fill="rgb(78,78,78)"/>
<rect x="2200" y="880" width="41" height="41" fill="rgb(104,104,104)"/>
<rect x="2240" y="880" width="161" height="41" fill="rgb(201,201,201)"/>
<rect x="0" y="920" width="161" height="41" fill="rgb(104,104,104)"/>
<rect x="160" y="920" width="81" height="41" fill="rgb(201,201,201)"/>
<rect x="240" y="920" width="161" height="41" fill="rgb(187,187,187)"/>
<rect x="400" y="920" width="41" height="41" fill="rgb(201,201,201)"/>
<rect x="440" y="920" width="41" height="41" fill="rgb(221,221,221)"/>
<rect x="480" y="920" width="41" height="41" fill="rgb(242,242,242)"/>
<rect x="520" y="920" width="81" height="41" fill="rgb(221,221,221)"/>
<rect x="600" y="920" width="81" height="41" fill="rgb(201,201,201)"/>
<rect x="680" y="920" width="81" height="41" fill="rgb(104,104,104)"/>
<rect x="760" y="920" width="41" height="41" fill="rgb(78,78,78)"/>
<rect x="800" y="920" width="41" height="41" fill="rgb(150,150,150)"/>
<rect x="840" y="920" width="81" height="41" fill="rgb(78,78,78)"/>
<rect x="920" y="920" width="121" height="41" fill="rgb(104,104,104)"/>
<rect x="1040" y="920" width="41" height="41" fill="rgb(170,170,170)"/>
<rect x="1080" y="920" width="81" height="41" fill="rgb(187,187,187)"/>
<rect x="1160" y="920" width="201" height="41" fill="rgb(170,170,170)"/>
<rect x="1360" y="920" width="41" height="41" fill="rgb(187,187,187)"/>
<rect x="1400" y="920" width="41" height="41" fill="rgb(170,170,170)"/>
<rect x="1440" y="920" width="81" height="41" fill="rgb(104,104,104)"/>
<rect x="1520" y="920" width="81" height="41" fill="rgb(170,170,170)"/>
<rect x="1600" y="920" width="81" height="41" fill="rgb(201,201,201)"/>
<rect x="1680" y="920" width="41" height="41" fill="rgb(170,170,170)"/>
<rect x="1720" y="920" width="41" height="41" fill="rgb(187,187,187)"/>
<rect x="1760" y="920" width="41" height="41" fill="rgb(170,170,170)"/>
<rect x="1800" y="920" width="41" height="41" fill="rgb(150,150,150)"/>
<rect x="1840" y="920" width="41" height="41" fill="rgb(170,170,170)"/>
<rect x="1880" y="920" width="41" height="41" fill="rgb(150,150,150)"/>
<rect x="1920" y="920" width="41" height="41" fill="rgb(128,128,128)"/>
<rect x="1960" y="920" width="41" height="41" fill="rgb(104,104,104)"/>
<rect x="2000" y="920" width="81" height="41" fill="rgb(78,78,78)"/>
<rect x="2080" y="920" width="81" height="41" fill="rgb(201,201,201)"/>
<rect x="2160" y="920" width="81" height="41" fill="rgb(78,78,78)"/>
<rect x="2240" y="920" width="161" height="41" fill="rgb(201,201,201)"/>
<rect x="0" y="960" width="201" height="41" fill="rgb(201,201,201)"/>
<rect x="200" y="960" width="41" height="41" fill="rgb(221,221,221)"/>
<rect x="240" y="960" width="81" height="41" fill="rgb(201,201,201)"/>
<rect x="320" y="960" width="81" height="41" fill="rgb(187,187,187)"/>
<rect x="400" y="960" width="81" height="41" fill="rgb(201,201,201)"/>
<rect x="480" y="960" width="41" height="41" fill="rgb(221,221,221)"/>
<rect x="520" y="960" width="201" height="41" fill="rgb(201,201,201)"/>
<rect x="720" y="960" width="41" height="41" fill="rgb(104,104,104)"/>
<rect x="760" y="960" width="41" height="41" fill="rgb(170,170,170)"/>
<rect x="800" y="960" width="41" height="41" fill="rgb(150,150,150)"/>
<rect x="840" y="960" width="41" height="41" fill="rgb(104,104,104)"/>
<rect x="880" y="960" width="161" height="41" fill="rgb(78,78,78)"/>
<rect x="1040" y="960" width="41" height="41" fill="rgb(150,150,150)"/>
<rect x="1080" y="960" width="41" height="41" fill="rgb(201,201,201)"/>
<rect x="1120" y="960" width="81" height="41" fill="rgb(221,221,221)"/>
<rect x="1200" y="960" width="41" height="41" fill="rgb(201,201,201)"/>
<rect x="1240" y="960" width="41" height="41" fill="rgb(170,170,170)"/>
<rect x="1280" y="960" width="41" height="41" fill="rgb(150,150,150)"/>
<rect x="1320" y="960" width="121" height="41" fill="rgb(201,201,201)"/>
<rect x="1440" y="960" width="41" height="41" fill="rgb(187,187,187)"/>
<rect x="1480" y="960" width="121" height="41" fill="rgb(170,170,170)"/>
<rect x="1600" y="960" width="161" height="41" fill="rgb(201,201,201)"/>
<rect x="1760" y="960" width="41" height="41" fill="rgb(221,221,221)"/>
<rect x="1800" y="960" width="81" height="41" fill="rgb(201,201,201)"/>
<rect x="1880" y="960" width="41" height="41" fill="rgb(187,187,187)"/>
<rect x="1920" y="960" width="41" height="41" fill="rgb(150,150,150)"/>
<rect x="1960" y="960" width="41" height="41" fill="rgb(128,128,128)"/>
<rect x="2000" y="960" width="81" height="41" fill="rgb(104,104,104)"/>
<rect x="2080" y="960" width="41" height="41" fill="rgb(170,170,170)"/>
<rect x="2120" y="960" width="41" height="41" fill="rgb(201,201,201)"/>
<rect x="2160" y="960" width="81" height="41" fill="rgb(187,187,187)"/>
<rect x="2240" y="960" width="161" height="41" fill="rgb(201,201,201)"/>
<rect x="0" y="1000" width="201" height="41" fill="rgb(201,201,201)"/>
<rect x="200" y="1000" width="81" height="41" fill="rgb(170,170,170)"/>
<rect x="280" y="1000" width="41" height="41" fill="rgb(150,150,150)"/>
<rect x="320" y="1000" width="81" height="41" fill="rgb(170,170,170)"/>
<rect x="400" y="1000" width="81" height="41" fill="rgb(150,150,150)"/>
<rect x="480" y="1000" width="41" height="41" fill="rgb(170,170,170)"/>
<rect x="520" y="1000" width="81" height="41" fill="rgb(187,187,187)"/>
<rect x="600" y="1000" width="121" height="41" fill="rgb(201,201,201)"/>
<rect x="720" y="1000" width="41" height="41" fill="rgb(170,170,170)"/>
<rect x="760" y="1000" width="81" height="41" fill="rgb(187,187,187)"/>
<rect x="840" y="1000" width="41" height="41" fill="rgb(170,170,170)"/>
<rect x="880" y="1000" width="41" height="41" fill="rgb(104,104,104)"/>
<rect x="920" y="1000" width="121" height="41" fill="rgb(78,78,78)"/>
<rect x="1040" y="1000" width="41" height="41" fill="rgb(104,104,104)"/>
<rect x="1080" y="1000" width="41" height="41" fill="rgb(201,201,201)"/>
<rect x="1120" y="1000" width="41" height="41" fill="rgb(221,221,221)"/>
<rect x="1160" y="1000" width="41" height="41" fill="rgb(242,242,242)"/>
<rect x="1200" y="1000" width="41" height="41" fill="rgb(221,221,221)"/>
<rect x="1240" y="1000" width="41" height="41" fill="rgb(170,170,170)"/>
<rect x="1280" y="1000" width="121" height="41" fill="rgb(104,104,104)"/>
<rect x="1400" y="1000" width="41" height="41" fill="rgb(150,150,150)"/>
<rect x="1440" y="1000" width="41" height="41" fill="rgb(170,170,170)"/>
<rect x="1480" y="1000" width="121" height="41" fill="rgb(187,187,187)"/>
<rect x="1600" y="1000" width="41" height="41" fill="rgb(201,201,201)"/>
<rect x="1640" y="1000" width="41" height="41" fill="rgb(221,221,221)"/>
<rect x="1680" y="1000" width="41" height="41" fill="rgb(201,201,201)"/>
<rect x="1720" y="1000" width="81" height="41" fill="rgb(221,221,221)"/>
<rect x="1800" y="1000" width="81" height="41" fill="rgb(201,201,201)"/>
<rect x="1880" y="1000" width="41" height="41" fill="rgb(170,170,170)"/>
<rect x="1920" y="1000" width="41" height="41" fill="rgb(150,150,150)"/>
<rect x="1960" y="1000" width="81" height="41" fill="rgb(104,104,104)"/>
<rect x="2040" y="1000" width="41" height="41" fill="rgb(78,78,78)"/>
<rect x="2080" y="1000" width="41" height="41" fill="rgb(170,170,170)"/>
<rect x="2120" y="1000" width="41" height="41" fill="rgb(150,150,150)"/>
<rect x="2160" y="1000" width="41" height="41" fill="rgb(104,104,104)"/>
<rect x="2200" y="1000" width="201" height="41" fill="rgb(170,170,170)"/>
<rect x="0" y="1040" width="241" height="41" fill="rgb(104,104,104)"/>
<rect x="240" y="1040" width="41" height="41" fill="rgb(150,150,150)"/>
<rect x="280" y="1040" width="81" height="41" fill="rgb(78,78,78)"/>
<rect x="360" y="1040" width="41" height="41" fill="rgb(104,104,104)"/>
<rect x="400" y="1040" width="121" height="41" fill="rgb(78,78,78)"/>
<rect x="520" y="1040" width="41" height="41" fill="rgb(104,104,104)"/>
<rect x="560" y="1040" width="81" height="41" fill="rgb(150,150,150)"/>
<rect x="640" y="1040" width="121" height="41" fill="rgb(170,170,170)"/>
<rect x="760" y="1040" width="41" height="41" fill="rgb(187,187,187)"/>
<rect x="800" y="1040" width="41" height="41" fill="rgb(201,201,201)"/>
<rect x="840" y="1040" width="41" height="41" fill="rgb(221,221,221)"/>
<rect x="880" y="1040" width="41" height="41" fill="rgb(201,201,201)"/>
<rect x="920" y="1040" width="41" height="41" fill="rgb(150,150,150)"/>
<rect x="960" y="1040" width="81" height="41" fill="rgb(104,104,104)"/>
<rect x="1040" y="1040" width="41" height="41" fill="rgb(150,150,150)"/>
<rect x="1080" y="1040" width="41" height="41" fill="rgb(201,201,201)"/>
<rect x="1120" y="1040" width="81" height="41" fill="rgb(221,221,221)"/>
<rect x="1200" y="1040" width="41" height="41" fill="rgb(201,201,201)"/>
<rect x="1240" y="1040" width="41" height="41" fill="rgb(150,150,150)"/>
<rect x="1280" y="1040" width="41" height="41" fill="rgb(104,104,104)"/>
<rect x="1320" y="1040" width="81" height="41" fill="rgb(78,78,78)"/>
<rect x="1400" y="1040" width="41" height="41" fill="rgb(104,104,104)"/>
<rect x="1440" y="1040" width="41" height="41" fill="rgb(150,150,150)"/>
<rect x="1480" y="1040" width="81" height="41" fill="rgb(104,104,104)"/>
<rect x="1560" y="1040" width="41" height="41" fill="rgb(170,170,170)"/>
<rect x="1600" y="1040" width="41" height="41" fill="rgb(201,201,201)"/>
<rect x="1640" y="1040" width="81" height="41" fill="rgb(187,187,187)"/>
<rect x="1720" y="1040" width="41" height="41" fill="rgb(170,170,170)"/>
<rect x="1760" y="1040" width="41" height="41" fill="rgb(187,187,187)"/>
<rect x="1800" y="1040" width="81" height="41" fill="rgb(170,170,170)"/>
<rect x="1880" y="1040" width="81" height="41" fill="rgb(150,150,150)"/>
<rect x="1960" y="1040" width="41" height="41" fill="rgb(201,201,201)"/>
<rect x="2000" y="1040" width="41" height="41" fill="rgb(221,221,221)"/>
<rect x="2040" y="1040" width="41" height="41" fill="rgb(150,150,150)"/>
<rect x="2080" y="1040" width="41" height="41" fill="rgb(104,104,104)"/>
<rect x="2120" y="1040" width="41" height="41" fill="rgb(150,150,150)"/>
<rect x="2160" y="1040" width="81" height="41" fill="rgb(201,201,201)"/>
<rect x="2240" y="1040" width="161" height="41" fill="rgb(170,170,170)"/>
<rect x="0" y="1080" width="281" height="41" fill="rgb(104,104,104)"/>
<rect x="280" y="1080" width="81" height="41" fill="rgb(150,150,150)"/>
<rect x="360" y="1080" width="41" height="41" fill="rgb(170,170,170)"/>
<rect x="400" y="1080" width="41" height="41" fill="rgb(104,104,104)"/>
<rect x="440" y="1080" width="81" height="41" fill="rgb(78,78,78)"/>
<rect x="520" y="1080" width="81" height="41" fill="rgb(104,104,104)"/>
<rect x="600" y="1080" width="81" height="41" fill="rgb(150,150,150)"/>
<rect x="680" y="1080" width="41" height="41" fill="rgb(170,170,170)"/>
<rect x="720" y="1080" width="41" height="41" fill="rgb(187,187,187)"/>
<rect x="760" y="1080" width="161" height="41" fill="rgb(201,201,201)"/>
<rect x="920" y="1080" width="41" height="41" fill="rgb(187,187,187)"/>
<rect x="960" y="1080" width="41" height="41" fill="rgb(170,170,170)"/>
<rect x="1000" y="1080" width="41" height="41" fill="rgb(187,187,187)"/>
<rect x="1040" y="1080" width="121" height="41" fill="rgb(201,201,201)"/>
<rect x="1160" y="1080" width="41" height="41" fill="rgb(221,221,221)"/>
<rect x="1200" y="1080" width="41" height="41" fill="rgb(201,201,201)"/>
<rect x="1240" y="1080" width="41" height="41" fill="rgb(170,170,170)"/>
<rect x="1280" y="1080" width="41" height="41" fill="rgb(150,150,150)"/>
<rect x="1320" y="1080" width="241" height="41" fill="rgb(104,104,104)"/>
<rect x="1560" y="1080" width="81" height="41" fill="rgb(78,78,78)"/>
<rect x="1640" y="1080" width="41" height="41" fill="rgb(170,170,170)"/>
<rect x="1680" y="1080" width="41" height="41" fill="rgb(150,150,150)"/>
<rect x="1720" y="1080" width="41" height="41" fill="rgb(104,104,104)"/>
<rect x="1760" y="1080" width="41" height="41" fill="rgb(150,150,150)"/>
<rect x="1800" y="1080" width="81" height="41" fill="rgb(104,104,104)"/>
<rect x="1880" y="1080" width="81" height="41" fill="rgb(150,150,150)"/>
<rect x="1960" y="1080" width="41" height="41" fill="rgb(170,170,170)"/>
<rect x="2000" y="1080" width="81" height="41" fill="rgb(150,150,150)"/>
<rect x="2080" y="1080" width="121" height="41" fill="rgb(170,170,170)"/>
<rect x="2200" y="1080" width="201" height="41" fill="rgb(201,201,201)"/>
<rect x="0" y="1120" width="281" height="41" fill="rgb(104,104,104)"/>
<rect x="280" y="1120" width="41" height="41" fill="rgb(187,187,187)"/>
<rect x="320" y="1120" width="41" height="41" fill="rgb(170,170,170)"/>
<rect x="360" y="1120" width="81" height="41" fill="rgb(187,187,187)"/>
<rect x="440" y="1120" width="41" height="41" fill="rgb(170,170,170)"/>
<rect x="480" y="1120" width="41" height="41" fill="rgb(150,150,150)"/>
<rect x="520" y="1120" width="81" height="41" fill="rgb(170,170,170)"/>
<rect x="600" y="1120" width="41" height="41" fill="rgb(187,187,187)"/>
<rect x="640" y="1120" width="81" height="41" fill="rgb(150,150,150)"/>
<rect x="720" y="1120" width="121" height="41" fill="rgb(170,170,170)"/>
<rect x="840" y="1120" width="161" height="41" fill="rgb(201,201,201)"/>
<rect x="1000" y="1120" width="41" height="41" fill="rgb(221,221,221)"/>
<rect x="1040" y="1120" width="41" height="41" fill="rgb(201,201,201)"/>
<rect x="1080" y="1120" width="41" height="41" fill="rgb(221,221,221)"/>
<rect x="1120" y="1120" width="41" height="41" fill="rgb(201,201,201)"/>
<rect x="1160" y="1120" width="41" height="41" fill="rgb(187,187,187)"/>
<rect x="1200" y="1120" width="41" height="41" fill="rgb(170,170,170)"/>
<rect x="1240" y="1120" width="121" height="41" fill="rgb(150,150,150)"/>
<rect x="1360" y="1120" width="81" height="41" fill="rgb(170,170,170)"/>
<rect x="1440" y="1120" width="201" height="41" fill="rgb(104,104,104)"/>
<rect x="1640" y="1120" width="121" height="41" fill="rgb(78,78,78)"/>
<rect x="1760" y="1120" width="81" height="41" fill="rgb(104,104,104)"/>
<rect x="1840" y="1120" width="41" height="41" fill="rgb(150,150,150)"/>
<rect x="1880" y="1120" width="41" height="41" fill="rgb(170,170,170)"/>
<rect x="1920" y="1120" width="41" height="41" fill="rgb(187,187,187)"/>
<rect x="1960" y="1120" width="201" height="41" fill="rgb(201,201,201)"/>
<rect x="2160" y="1120" width="81" height="41" fill="rgb(170,170,170)"/>
<rect x="2240" y="1120" width="161" height="41" fill="rgb(201,201,201)"/>
<rect x="0" y="1160" width="241" height="41" fill="rgb(104,104,104)"/>
<rect x="240" y="1160" width="81" height="41" fill="rgb(187,187,187)"/>
<rect x="320" y="1160" width="161" height="41" fill="rgb(201,201,201)"/>
<rect x="480" y="1160" width="41" height="41" fill="rgb(187,187,187)"/>
<rect x="520" y="1160" width="41" height="41" fill="rgb(201,201,201)"/>
<rect x="560" y="1160" width="241" height="41" fill="rgb(187,187,187)"/>
<rect x="800" y="1160" width="81" height="41" fill="rgb(150,150,150)"/>
<rect x="880" y="1160" width="41" height="41" fill="rgb(170,170,170)"/>
<rect x="920" y="1160" width="41" height="41" fill="rgb(187,187,187)"/>
<rect x="960" y="1160" width="81" height="41" fill="rgb(201,201,201)"/>
<rect x="1040" y="1160" width="41" height="41" fill="rgb(187,187,187)"/>
<rect x="1080" y="1160" width="81" height="41" fill="rgb(150,150,150)"/>
<rect x="1160" y="1160" width="41" height="41" fill="rgb(104,104,104)"/>
<rect x="1200" y="1160" width="41" height="41" fill="rgb(150,150,150)"/>
<rect x="1240" y="1160" width="121" height="41" fill="rgb(170,170,170)"/>
<rect x="1360" y="1160" width="41" height="41" fill="rgb(187,187,187)"/>
<rect x="1400" y="1160" width="41" height="41" fill="rgb(170,170,170)"/>
<rect x="1440" y="1160" width="41" height="41" fill="rgb(150,150,150)"/>
<rect x="1480" y="1160" width="41" height="41" fill="rgb(104,104,104)"/>
<rect x="1520" y="1160" width="41" height="41" fill="rgb(78,78,78)"/>
<rect x="1560" y="1160" width="81" height="41" fill="rgb(104,104,104)"/>
<rect x="1640" y="1160" width="81" height="41" fill="rgb(78,78,78)"/>
<rect x="1720" y="1160" width="41" height="41" fill="rgb(104,104,104)"/>
<rect x="1760" y="1160" width="81" height="41" fill="rgb(128,128,128)"/>
<rect x="1840" y="1160" width="41" height="41" fill="rgb(150,150,150)"/>
<rect x="1880" y="1160" width="81" height="41" fill="rgb(187,187,187)"/>
<rect x="1960" y="1160" width="241" height="41" fill="rgb(201,201,201)"/>
<rect x="2200" y="1160" width="201" height="41" fill="rgb(170,170,170)"/>
<rect x="0" y="1200" width="201" height="41" fill="rgb(104,104,104)"/>
<rect x="200" y="1200" width="81" height="41" fill="rgb(187,187,187)"/>
<rect x="280" y="1200" width="121" height="41" fill="rgb(201,201,201)"/>
<rect x="400" y="1200" width="41" height="41" fill="rgb(187,187,187)"/>
<rect x="440" y="1200" width="41" height="41" fill="rgb(170,170,170)"/>
<rect x="480" y="1200" width="81" height="41" fill="rgb(187,187,187)"/>
<rect x="560" y="1200" width="81" height="41" fill="rgb(201,201,201)"/>
<rect x="640" y="1200" width="41" height="41" fill="rgb(170,170,170)"/>
<rect x="680" y="1200" width="81" height="41" fill="rgb(187,187,187)"/>
<rect x="760" y="1200" width="41" height="41" fill="rgb(170,170,170)"/>
<rect x="800" y="1200" width="41" height="41" fill="rgb(150,150,150)"/>
<rect x="840" y="1200" width="41" height="41" fill="rgb(128,128,128)"/>
<rect x="880" y="1200" width="41" height="41" fill="rgb(150,150,150)"/>
<rect x="920" y="1200" width="81" height="41" fill="rgb(170,170,170)"/>
<rect x="1000" y="1200" width="41" height="41" fill="rgb(150,150,150)"/>
<rect x="1040" y="1200" width="121" height="41" fill="rgb(104,104,104)"/>
<rect x="1160" y="1200" width="81" height="41" fill="rgb(78,78,78)"/>
<rect x="1240" y="1200" width="81" height="41" fill="rgb(104,104,104)"/>
<rect x="1320" y="1200" width="81" height="41" fill="rgb(170,170,170)"/>
<rect x="1400" y="1200" width="81" height="41" fill="rgb(187,187,187)"/>
<rect x="1480" y="1200" width="41" height="41" fill="rgb(170,170,170)"/>
<rect x="1520" y="1200" width="41" height="41" fill="rgb(128,128,128)"/>
<rect x="1560" y="1200" width="41" height="41" fill="rgb(170,170,170)"/>
<rect x="1600" y="1200" width="121" height="41" fill="rgb(150,150,150)"/>
<rect x="1720" y="1200" width="41" height="41" fill="rgb(170,170,170)"/>
<rect x="1760" y="1200" width="41" height="41" fill="rgb(150,150,150)"/>
<rect x="1800" y="1200" width="81" height="41" fill="rgb(170,170,170)"/>
<rect x="1880" y="1200" width="81" height="41" fill="rgb(187,187,187)"/>
<rect x="1960" y="1200" width="281" height="41" fill="rgb(201,201,201)"/>
<rect x="2240" y="1200" width="161" height="41" fill="rgb(170,170,170)"/>
<rect x="0" y="1240" width="161" height="41" fill="rgb(104,104,104)"/>
<rect x="160" y="1240" width="81" height="41" fill="rgb(187,187,187)"/>
<rect x="240" y="1240" width="161" height="41" fill="rgb(201,201,201)"/>
<rect x="400" y="1240" width="41" height="41" fill="rgb(187,187,187)"/>
<rect x="440" y="1240" width="41" height="41" fill="rgb(170,170,170)"/>
<rect x="480" y="1240" width="41" height="41" fill="rgb(187,187,187)"/>
<rect x="520" y="1240" width="81" height="41" fill="rgb(104,104,104)"/>
<rect x="600" y="1240" width="41" height="41" fill="rgb(201,201,201)"/>
<rect x="640" y="1240" width="41" height="41" fill="rgb(170,170,170)"/>
<rect x="680" y="1240" width="81" height="41" fill="rgb(187,187,187)"/>
<rect x="760" y="1240" width="41" height="41" fill="rgb(170,170,170)"/>
<rect x="800" y="1240" width="41" height="41" fill="rgb(150,150,150)"/>
<rect x="840" y="1240" width="41" height="41" fill="rgb(128,128,128)"/>
<rect x="880" y="1240" width="41" height="41" fill="rgb(150,150,150)"/>
<rect x="920" y="1240" width="81" height="41" fill="rgb(170,170,170)"/>
<rect x="1000" y="1240" width="41" height="41" fill="rgb(150,150,150)"/>
<rect x="1040" y="1240" width="41" height="41" fill="rgb(128,128,128)"/>
<rect x="1080" y="1240" width="81" height="41" fill="rgb(104,104,104)"/>
<rect x="1160" y="1240" width="161" height="41" fill="rgb(150,150,150)"/>
<rect x="1320" y="1240" width="81" height="41" fill="rgb(187,187,187)"/>
<rect x="1400" y="1240" width="81" height="41" fill="rgb(170,170,170)"/>
<rect x="1480" y="1240" width="121" height="41" fill="rgb(128,128,128)"/>
<rect x="1600" y="1240" width="281" height="41" fill="rgb(170,170,170)"/>
<rect x="1880" y="1240" width="81" height="41" fill="rgb(187,187,187)"/>
<rect x="1960" y="1240" width="441" height="41" fill="rgb(201,201,201)"/>
<rect x="0" y="1280" width="201" height="41" fill="rgb(187,187,187)"/>
<rect x="200" y="1280" width="201" height="41" fill="rgb(201,201,201)"/>
<rect x="400" y="1280" width="41" height="41" fill="rgb(187,187,187)"/>
<rect x="440" y="1280" width="41" height="41" fill="rgb(170,170,170)"/>
<rect x="480" y="1280" width="121" height="41" fill="rgb(104,104,104)"/>
<rect x="600" y="1280" width="41" height="41" fill="rgb(201,201,201)"/>
<rect x="640" y="1280" width="41" height="41" fill="rgb(170,170,170)"/>
<rect x="680" y="1280" width="81" height="41" fill="rgb(187,187,187)"/>
<rect x="760" y="1280" width="41" height="41" fill="rgb(170,170,170)"/>
<rect x="800" y="1280" width="41" height="41" fill="rgb(150,150,150)"/>
<rect x="840" y="1280" width="41" height="41" fill="rgb(128,128,128)"/>
<rect x="880" y="1280" width="81" height="41" fill="rgb(150,150,150)"/>
<rect x="960" y="1280" width="41" height="41" fill="rgb(170,170,170)"/>
<rect x="1000" y="1280" width="81" height="41" fill="rgb(150,150,150)"/>
<rect x="1080" y="1280" width="81" height="41" fill="rgb(128,128,128)"/>
<rect x="1160" y="1280" width="161" height="41" fill="rgb(150,150,150)"/>
<rect x="1320" y="1280" width="81" height="41" fill="rgb(187,187,187)"/>
<rect x="1400" y="1280" width="41" height="41" fill="rgb(170,170,170)"/>
<rect x="1440" y="1280" width="81" height="41" fill="rgb(128,128,128)"/>
<rect x="1520" y="1280" width="361" height="41" fill="rgb(170,170,170)"/>
<rect x="1880" y="1280" width="81" height="41" fill="rgb(187,187,187)"/>
<rect x="1960" y="1280" width="441" height="41" fill="rgb(201,201,201)"/>
<rect x="0" y="1320" width="161" height="41" fill="rgb(187,187,187)"/>
<rect x="160" y="1320" width="241" height="41" fill="rgb(201,201,201)"/>
<rect x="400" y="1320" width="41" height="41" fill="rgb(187,187,187)"/>
<rect x="440" y="1320" width="201" height="41" fill="rgb(104,104,104)"/>
<rect x="640" y="1320" width="41" height="41" fill="rgb(170,170,170)"/>
<rect x="680" y="1320" width="81" height="41" fill="rgb(187,187,187)"/>
<rect x="760" y="1320" width="41" height="41" fill="rgb(170,170,170)"/>
<rect x="800" y="1320" width="161" height="41" fill="rgb(150,150,150)"/>
<rect x="960" y="1320" width="41" height="41" fill="rgb(170,170,170)"/>
<rect x="1000" y="1320" width="81" height="41" fill="rgb(150,150,150)"/>
<rect x="1080" y="1320" width="81" height="41" fill="rgb(128,128,128)"/>
<rect x="1160" y="1320" width="161" height="41" fill="rgb(150,150,150)"/>
<rect x="1320" y="1320" width="81" height="41" fill="rgb(187,187,187)"/>
<rect x="1400" y="1320" width="41" height="41" fill="rgb(170,170,170)"/>
<rect x="1440" y="1320" width="81" height="41" fill="rgb(128,128,128)"/>
<rect x="1520" y="1320" width="361" height="41" fill="rgb(170,170,170)"/>
<rect x="1880" y="1320" width="81" height="41" fill="rgb(187,187,187)"/>
<rect x="1960" y="1320" width="441" height="41" fill="rgb(201,201,201)"/>
<rect x="0" y="1360" width="161" height="41" fill="rgb(187,187,187)"/>
<rect x="160" y="1360" width="241" height="41" fill="rgb(201,201,201)"/>
<rect x="400" y="1360" width="41" height="41" fill="rgb(187,187,187)"/>
<rect x="440" y="1360" width="201" height="41" fill="rgb(104,104,104)"/>
<rect x="640" y="1360" width="41" height="41" fill="rgb(170,170,170)"/>
<rect x="680" y="1360" width="81" height="41" fill="rgb(187,187,187)"/>
<rect x="760" y="1360" width="41" height="41" fill="rgb(170,170,170)"/>
<rect x="800" y="1360" width="161" height="41" fill="rgb(150,150,150)"/>
<rect x="960" y="1360" width="41" height="41" fill="rgb(170,170,170)"/>
<rect x="1000" y="1360" width="81" height="41" fill="rgb(150,150,150)"/>
<rect x="1080" y="1360" width="81" height="41" fill="rgb(128,128,128)"/>
<rect x="1160" y="1360" width="161" height="41" fill="rgb(150,150,150)"/>
<rect x="1320" y="1360" width="81" height="41" fill="rgb(187,187,187)"/>
<rect x="1400" y="1360" width="41" height="41" fill="rgb(170,170,170)"/>
<rect x="1440" y="1360" width="81" height="41" fill="rgb(128,128,128)"/>
<rect x="1520" y="1360" width="361" height="41" fill="rgb(170,170,170)"/>
<rect x="1880" y="1360" width="81" height="41" fill="rgb(187,187,187)"/>
<rect x="1960" y="1360" width="441" height="41" fill="rgb(201,201,201)"/>
<rect x="0" y="1400" width="161" height="41" fill="rgb(187,187,187)"/>
<rect x="160" y="1400" width="241" height="41" fill="rgb(201,201,201)"/>
<rect x="400" y="1400" width="41" height="41" fill="rgb(187,187,187)"/>
<rect x="440" y="1400" width="201" height="41" fill="rgb(104,104,104)"/>
<rect x="640" y="1400" width="41" height="41" fill="rgb(170,170,170)"/>
<rect x="680" y="1400" width="81" height="41" fill="rgb(187,187,187)"/>
<rect x="760" y="1400" width="41" height="41" fill="rgb(170,170,170)"/>
<rect x="800" y="1400" width="161" height="41" fill="rgb(150,150,150)"/>
<rect x="960" y="1400" width="41" height="41" fill="rgb(170,170,170)"/>
<rect x="1000" y="1400" width="81" height="41" fill="rgb(150,150,150)"/>
<rect x="1080" y="1400" width="81" height="41" fill="rgb(128,128,128)"/>
<rect x="1160" y="1400" width="161" height="41" fill="rgb(150,150,150)"/>
<rect x="1320" y="1400" width="81" height="41" fill="rgb(187,187,187)"/>
<rect x="1400" y="1400" width="41" height="41" fill="rgb(170,170,170)"/>
<rect x="1440" y="1400" width="81" height="41" fill="rgb(128,128,128)"/>
<rect x="1520" y="1400" width="361" height="41" fill="rgb(170,170,170)"/>
<rect x="1880" y="1400" width="81" height="41" fill="rgb(187,187,187)"/>
<rect x="1960" y="1400" width="441" height="41" fill="rgb(201,201,201)"/>
<rect x="0" y="1440" width="161" height="41" fill="rgb(187,187,187)"/>
<rect x="160" y="1440" width="241" height="41" fill="rgb(201,201,201)"/>
<rect x="400" y="1440" width="41" height="41" fill="rgb(187,187,187)"/>
<rect x="440" y="1440" width="201" height="41" fill="rgb(104,104,104)"/>
<rect x="640" y="1440" width="41" height="41" fill="rgb(170,170,170)"/>
<rect x="680" y="1440" width="81" height="41" fill="rgb(187,187,187)"/>
<rect x="760" y="1440" width="41" height="41" fill="rgb(170,170,170)"/>
<rect x="800" y="1440" width="161" height="41" fill="rgb(150,150,150)"/>
<rect x="960" y="1440" width="41" height="41" fill="rgb(170,170,170)"/>
<rect x="1000" y="1440" width="81" height="41" fill="rgb(150,150,150)"/>
<rect x="1080" y="1440" width="81" height="41" fill="rgb(128,128,128)"/>
<rect x="1160" y="1440" width="161" height="41" fill="rgb(150,150,150)"/>
<rect x="1320" y="1440" width="81" height="41" fill="rgb(187,187,187)"/>
<rect x="1400" y="1440" width="41" height="41" fill="rgb(170,170,170)"/>
<rect x="1440" y="1440" width="81" height="41" fill="rgb(128,128,128)"/>
<rect x="1520" y="1440" width="361" height="41" fill="rgb(170,170,170)"/>
<rect x="1880" y="1440" width="81" height="41" fill="rgb(187,187,187)"/>
<rect x="1960" y="1440" width="441" height="41" fill="rgb(201,201,201)"/>
</g>
<g filter="url(#blurM)">
<polygon points="400,336 455,324 500,308 540,298 572,293 584,286 540,283 500,289 470,299 436,315 425,300 600,232 1800,236 1880,290 1866,286 1845,283 1822,293 1806,302 1794,290 1768,273 1722,268 1700,275 1686,291 1678,316 1662,333 1636,347 1614,357 1600,352 1600,330 1566,336 1545,345 1528,356 1519,372 1522,388 1535,403 1556,418 1572,432 1576,440 1560,442 1530,420 1500,400 1480,395 1300,345 1100,345 1045,352 1040,358 1037,384 1027,389 1000,385 969,378 962,362 930,350 900,340 800,330 700,322 600,314 520,318" fill="none" stroke="rgb(114,114,114)" stroke-width="16" stroke-linejoin="round"/>
<polygon points="1355,350 1480,345 1485,400 1472,448 1432,448 1398,412 1360,398" fill="none" stroke="rgb(114,114,114)" stroke-width="16" stroke-linejoin="round"/>
<polygon points="729,421 745,405 766,395 824,384 860,376 900,368 900,380 838,397 824,400 790,409 768,412 764,422 762,440 764,470 746,480 738,445" fill="none" stroke="rgb(114,114,114)" stroke-width="16" stroke-linejoin="round"/>
<polygon points="1534,1207 1563,1220 1588,1235 1601,1247 1596,1264 1563,1275 1534,1284 1515,1282 1478,1270 1490,1249 1505,1225 1515,1213" fill="none" stroke="rgb(114,114,114)" stroke-width="16" stroke-linejoin="round"/>
<ellipse cx="1750" cy="336" rx="30" ry="17" transform="rotate(10 1750 336)" fill="rgb(99,99,99)"/>
<ellipse cx="1548" cy="372" rx="14" ry="24" transform="rotate(-35 1548 372)" fill="rgb(75,75,75)"/>
<path d="M1505,534 L1527,523 L1551,513 L1576,504 L1600,506 L1624,503 L1637,496" fill="none" stroke="rgb(15,15,15)" stroke-width="19" stroke-linecap="round" stroke-linejoin="round"/>
<ellipse cx="1700" cy="475" rx="30" ry="14" transform="rotate(-20 1700 475)" fill="rgb(93,93,93)"/>
<path d="M800,780 L880,775 L960,778 L1040,776 L1110,780" fill="none" stroke="rgb(57,57,57)" stroke-width="34" stroke-linecap="round" stroke-linejoin="round"/>
<path d="M880,778 L960,780 L1020,778" fill="none" stroke="rgb(43,43,43)" stroke-width="14" stroke-linecap="round" stroke-linejoin="round"/>
<path d="M1170,784 L1240,786 L1300,788 L1350,784" fill="none" stroke="rgb(210,210,210)" stroke-width="26" stroke-linecap="round" stroke-linejoin="round"/>
<path d="M1240,788 L1310,790" fill="none" stroke="rgb(228,228,228)" stroke-width="9" stroke-linecap="round" stroke-linejoin="round"/>
<path d="M1497,728 L1506,745 L1498,770 L1490,800 L1493,830 L1506,868" fill="none" stroke="rgb(226,226,226)" stroke-width="14" stroke-linecap="round" stroke-linejoin="round"/>
<ellipse cx="1037" cy="400" rx="30" ry="10" transform="rotate(8 1037 400)" fill="rgb(238,238,238)"/>
<ellipse cx="1427" cy="612" rx="12" ry="18" transform="rotate(0 1427 612)" fill="rgb(232,232,232)"/>
<ellipse cx="1455" cy="606" rx="12" ry="10" transform="rotate(0 1455 606)" fill="rgb(93,93,93)"/>
<path d="M2018,1082 L2042,1052" fill="none" stroke="rgb(243,243,243)" stroke-width="14" stroke-linecap="round" stroke-linejoin="round"/>
<path d="M1985,1062 L2003,1050" fill="none" stroke="rgb(232,232,232)" stroke-width="10" stroke-linecap="round" stroke-linejoin="round"/>
<path d="M2148,1072 L2182,1056" fill="none" stroke="rgb(232,232,232)" stroke-width="12" stroke-linecap="round" stroke-linejoin="round"/>
<ellipse cx="1942" cy="322" rx="24" ry="12" transform="rotate(20 1942 322)" fill="rgb(228,228,228)"/>
<path d="M1722,272 L1745,290 L1790,300 L1850,300" fill="none" stroke="rgb(224,224,224)" stroke-width="12" stroke-linecap="round" stroke-linejoin="round"/>
<ellipse cx="736" cy="538" rx="26" ry="16" transform="rotate(-10 736 538)" fill="rgb(238,238,238)"/>
<ellipse cx="690" cy="505" rx="22" ry="10" transform="rotate(-35 690 505)" fill="rgb(221,221,221)"/>
<ellipse cx="905" cy="498" rx="16" ry="10" transform="rotate(-10 905 498)" fill="rgb(232,232,232)"/>
<ellipse cx="1178" cy="1012" rx="44" ry="40" transform="rotate(0 1178 1012)" fill="rgb(245,245,245)"/>
<ellipse cx="497" cy="930" rx="28" ry="34" transform="rotate(20 497 930)" fill="rgb(238,238,238)"/>
<ellipse cx="1770" cy="992" rx="50" ry="26" transform="rotate(0 1770 992)" fill="rgb(231,231,231)"/>
<ellipse cx="1415" cy="747" rx="26" ry="14" transform="rotate(0 1415 747)" fill="rgb(99,99,99)"/>
<ellipse cx="1310" cy="625" rx="22" ry="14" transform="rotate(40 1310 625)" fill="rgb(75,75,75)"/>
<ellipse cx="875" cy="1075" rx="16" ry="10" transform="rotate(0 875 1075)" fill="rgb(226,226,226)"/>
<ellipse cx="775" cy="1095" rx="16" ry="10" transform="rotate(0 775 1095)" fill="rgb(224,224,224)"/>
<ellipse cx="770" cy="910" rx="18" ry="34" transform="rotate(0 770 910)" fill="rgb(64,64,64)"/>
<ellipse cx="870" cy="930" rx="22" ry="20" transform="rotate(0 870 930)" fill="rgb(75,75,75)"/>

</g>
<g filter="url(#blurS)">
<ellipse cx="2156" cy="486" rx="10" ry="13" transform="rotate(-25 2156 486)" fill="rgb(23,23,23)"/>
<ellipse cx="2082" cy="476" rx="9" ry="7" transform="rotate(0 2082 476)" fill="rgb(31,31,31)"/>
<ellipse cx="2172" cy="507" rx="12" ry="8" transform="rotate(-30 2172 507)" fill="rgb(156,156,156)"/>
<path d="M1616,358 L1640,351 L1665,344 L1690,341" fill="none" stroke="rgb(228,228,228)" stroke-width="8" stroke-linecap="round" stroke-linejoin="round"/>
<path d="M450,316 L470,305 L500,296 L540,289 L574,286" fill="none" stroke="rgb(212,212,212)" stroke-width="11" stroke-linecap="round" stroke-linejoin="round"/>
<path d="M440,322 L462,310" fill="none" stroke="rgb(226,226,226)" stroke-width="9" stroke-linecap="round" stroke-linejoin="round"/>
<ellipse cx="1646" cy="449" rx="13" ry="9" transform="rotate(0 1646 449)" fill="rgb(232,232,232)"/>
<path d="M1240,789 L1308,791" fill="none" stroke="rgb(231,231,231)" stroke-width="8" stroke-linecap="round" stroke-linejoin="round"/>
<path d="M1500,735 L1507,748 L1500,768" fill="none" stroke="rgb(233,233,233)" stroke-width="8" stroke-linecap="round" stroke-linejoin="round"/>
<path d="M1489,800 L1491,822" fill="none" stroke="rgb(235,235,235)" stroke-width="7" stroke-linecap="round" stroke-linejoin="round"/>
<path d="M1503,858 L1509,875" fill="none" stroke="rgb(233,233,233)" stroke-width="6" stroke-linecap="round" stroke-linejoin="round"/>
<ellipse cx="848" cy="528" rx="13" ry="11" transform="rotate(0 848 528)" fill="rgb(70,70,70)"/>
<ellipse cx="1772.0" cy="1086.1" rx="12.4" ry="4.7" transform="rotate(-37 1772.0 1086.1)" fill="rgb(232,232,232)"/>
<ellipse cx="1670.1" cy="1080.7" rx="10.0" ry="4.6" transform="rotate(-55 1670.1 1080.7)" fill="rgb(46,46,46)"/>
<ellipse cx="1633.0" cy="1098.4" rx="10.5" ry="3.1" transform="rotate(58 1633.0 1098.4)" fill="rgb(220,220,220)"/>
<ellipse cx="1849.1" cy="1086.9" rx="6.3" ry="1.8" transform="rotate(-71 1849.1 1086.9)" fill="rgb(64,64,64)"/>
<ellipse cx="1673.5" cy="1062.6" rx="5.2" ry="2.0" transform="rotate(-20 1673.5 1062.6)" fill="rgb(226,226,226)"/>
<ellipse cx="1797.4" cy="1091.5" rx="9.0" ry="3.8" transform="rotate(-57 1797.4 1091.5)" fill="rgb(35,35,35)"/>
<ellipse cx="1981.6" cy="1103.7" rx="11.7" ry="5.1" transform="rotate(-60 1981.6 1103.7)" fill="rgb(214,214,214)"/>
<ellipse cx="1709.8" cy="1052.8" rx="11.1" ry="4.1" transform="rotate(29 1709.8 1052.8)" fill="rgb(75,75,75)"/>
<ellipse cx="1965.8" cy="1094.7" rx="5.0" ry="1.6" transform="rotate(33 1965.8 1094.7)" fill="rgb(232,232,232)"/>
<ellipse cx="1972.0" cy="1063.6" rx="5.6" ry="2.3" transform="rotate(23 1972.0 1063.6)" fill="rgb(46,46,46)"/>
<ellipse cx="1633.9" cy="1066.0" rx="12.7" ry="5.7" transform="rotate(-59 1633.9 1066.0)" fill="rgb(220,220,220)"/>
<ellipse cx="1640.5" cy="1047.8" rx="11.4" ry="3.6" transform="rotate(-46 1640.5 1047.8)" fill="rgb(64,64,64)"/>
<ellipse cx="1671.3" cy="1095.8" rx="6.0" ry="2.5" transform="rotate(-48 1671.3 1095.8)" fill="rgb(226,226,226)"/>
<ellipse cx="1681.9" cy="1065.0" rx="12.8" ry="5.8" transform="rotate(-17 1681.9 1065.0)" fill="rgb(35,35,35)"/>
<ellipse cx="1680.5" cy="1073.4" rx="11.8" ry="5.0" transform="rotate(-11 1680.5 1073.4)" fill="rgb(214,214,214)"/>
<ellipse cx="1682.1" cy="1064.3" rx="11.2" ry="3.9" transform="rotate(-70 1682.1 1064.3)" fill="rgb(75,75,75)"/>
<ellipse cx="1633.8" cy="1083.0" rx="6.9" ry="2.9" transform="rotate(-46 1633.8 1083.0)" fill="rgb(232,232,232)"/>
<ellipse cx="1964.4" cy="1070.1" rx="9.6" ry="4.5" transform="rotate(-65 1964.4 1070.1)" fill="rgb(46,46,46)"/>
<ellipse cx="1946.9" cy="1094.2" rx="7.0" ry="2.3" transform="rotate(-14 1946.9 1094.2)" fill="rgb(220,220,220)"/>
<ellipse cx="1672.5" cy="1110.8" rx="12.1" ry="5.0" transform="rotate(-68 1672.5 1110.8)" fill="rgb(64,64,64)"/>
<ellipse cx="1612.5" cy="1107.4" rx="6.9" ry="3.0" transform="rotate(-21 1612.5 1107.4)" fill="rgb(226,226,226)"/>
<ellipse cx="1825.9" cy="1066.4" rx="6.4" ry="2.8" transform="rotate(-60 1825.9 1066.4)" fill="rgb(35,35,35)"/>
<ellipse cx="1814.1" cy="1105.2" rx="9.9" ry="3.4" transform="rotate(20 1814.1 1105.2)" fill="rgb(214,214,214)"/>
<ellipse cx="1607.4" cy="1059.8" rx="8.6" ry="2.5" transform="rotate(-51 1607.4 1059.8)" fill="rgb(75,75,75)"/>
<ellipse cx="1816.0" cy="1055.9" rx="7.9" ry="3.8" transform="rotate(43 1816.0 1055.9)" fill="rgb(232,232,232)"/>
<ellipse cx="1863.1" cy="1084.0" rx="6.1" ry="1.8" transform="rotate(-16 1863.1 1084.0)" fill="rgb(46,46,46)"/>
<ellipse cx="1868.3" cy="1109.4" rx="5.2" ry="2.2" transform="rotate(-28 1868.3 1109.4)" fill="rgb(220,220,220)"/>
<ellipse cx="1721.1" cy="1116.0" rx="5.6" ry="2.2" transform="rotate(-16 1721.1 1116.0)" fill="rgb(64,64,64)"/>
<ellipse cx="1881.0" cy="1091.0" rx="11.3" ry="5.5" transform="rotate(-30 1881.0 1091.0)" fill="rgb(226,226,226)"/>
<ellipse cx="1944.2" cy="1098.0" rx="8.3" ry="3.8" transform="rotate(39 1944.2 1098.0)" fill="rgb(35,35,35)"/>
<ellipse cx="1837.1" cy="1071.8" rx="9.7" ry="4.0" transform="rotate(-33 1837.1 1071.8)" fill="rgb(214,214,214)"/>
<ellipse cx="1979.4" cy="1095.9" rx="10.8" ry="4.0" transform="rotate(-37 1979.4 1095.9)" fill="rgb(75,75,75)"/>
<ellipse cx="1767.4" cy="1105.0" rx="5.7" ry="2.5" transform="rotate(-36 1767.4 1105.0)" fill="rgb(232,232,232)"/>
<ellipse cx="1782.8" cy="1063.7" rx="10.6" ry="4.1" transform="rotate(-15 1782.8 1063.7)" fill="rgb(46,46,46)"/>
<ellipse cx="1699.5" cy="1048.7" rx="7.4" ry="3.2" transform="rotate(-64 1699.5 1048.7)" fill="rgb(220,220,220)"/>
<ellipse cx="1945.0" cy="1083.5" rx="8.5" ry="4.1" transform="rotate(-32 1945.0 1083.5)" fill="rgb(64,64,64)"/>
<ellipse cx="1675.7" cy="1075.6" rx="11.4" ry="5.5" transform="rotate(29 1675.7 1075.6)" fill="rgb(226,226,226)"/>
<ellipse cx="1820.9" cy="1068.2" rx="6.1" ry="2.4" transform="rotate(52 1820.9 1068.2)" fill="rgb(35,35,35)"/>
<ellipse cx="1872.2" cy="1108.3" rx="7.2" ry="2.3" transform="rotate(-57 1872.2 1108.3)" fill="rgb(214,214,214)"/>
<ellipse cx="1681.7" cy="1074.9" rx="10.0" ry="3.9" transform="rotate(-20 1681.7 1074.9)" fill="rgb(75,75,75)"/>
<ellipse cx="1972.9" cy="1067.3" rx="5.6" ry="1.6" transform="rotate(12 1972.9 1067.3)" fill="rgb(232,232,232)"/>
<ellipse cx="1869.7" cy="1082.6" rx="7.5" ry="3.4" transform="rotate(-66 1869.7 1082.6)" fill="rgb(46,46,46)"/>
<ellipse cx="1772.9" cy="1049.7" rx="11.6" ry="3.9" transform="rotate(-72 1772.9 1049.7)" fill="rgb(220,220,220)"/>
<ellipse cx="1839.0" cy="1076.0" rx="10.0" ry="4.3" transform="rotate(58 1839.0 1076.0)" fill="rgb(64,64,64)"/>
<ellipse cx="1859.0" cy="1058.0" rx="8.8" ry="2.8" transform="rotate(-44 1859.0 1058.0)" fill="rgb(226,226,226)"/>
<ellipse cx="1870.2" cy="1055.9" rx="7.2" ry="2.6" transform="rotate(-41 1870.2 1055.9)" fill="rgb(35,35,35)"/>
<ellipse cx="1834.6" cy="1097.4" rx="8.1" ry="3.7" transform="rotate(14 1834.6 1097.4)" fill="rgb(214,214,214)"/>
<ellipse cx="1955.5" cy="1087.0" rx="6.0" ry="2.3" transform="rotate(-16 1955.5 1087.0)" fill="rgb(75,75,75)"/>
<ellipse cx="1743.2" cy="1086.7" rx="12.0" ry="5.5" transform="rotate(33 1743.2 1086.7)" fill="rgb(232,232,232)"/>
<ellipse cx="1846.4" cy="1059.1" rx="10.8" ry="5.0" transform="rotate(-28 1846.4 1059.1)" fill="rgb(46,46,46)"/>
<ellipse cx="1679.1" cy="1107.8" rx="12.8" ry="6.4" transform="rotate(-24 1679.1 1107.8)" fill="rgb(220,220,220)"/>
<ellipse cx="1721.7" cy="1109.9" rx="11.8" ry="4.2" transform="rotate(-46 1721.7 1109.9)" fill="rgb(64,64,64)"/>
<ellipse cx="1810.3" cy="1099.7" rx="8.9" ry="2.5" transform="rotate(13 1810.3 1099.7)" fill="rgb(226,226,226)"/>
<ellipse cx="1902.4" cy="1053.5" rx="7.7" ry="3.5" transform="rotate(-65 1902.4 1053.5)" fill="rgb(35,35,35)"/>
<ellipse cx="1796.4" cy="1097.2" rx="11.7" ry="5.1" transform="rotate(35 1796.4 1097.2)" fill="rgb(214,214,214)"/>
<ellipse cx="1958.6" cy="1043.4" rx="6.8" ry="2.7" transform="rotate(-28 1958.6 1043.4)" fill="rgb(75,75,75)"/>
<ellipse cx="1843.0" cy="1081.0" rx="11.7" ry="4.7" transform="rotate(-50 1843.0 1081.0)" fill="rgb(232,232,232)"/>
<ellipse cx="1923.3" cy="1101.6" rx="6.7" ry="3.1" transform="rotate(36 1923.3 1101.6)" fill="rgb(46,46,46)"/>
<ellipse cx="1816.6" cy="1060.6" rx="9.3" ry="3.6" transform="rotate(-73 1816.6 1060.6)" fill="rgb(220,220,220)"/>
<ellipse cx="1968.5" cy="1072.0" rx="8.2" ry="3.7" transform="rotate(-43 1968.5 1072.0)" fill="rgb(64,64,64)"/>
<ellipse cx="1860.9" cy="1048.8" rx="9.3" ry="3.5" transform="rotate(56 1860.9 1048.8)" fill="rgb(226,226,226)"/>
<ellipse cx="1702.2" cy="1080.2" rx="6.0" ry="2.3" transform="rotate(55 1702.2 1080.2)" fill="rgb(35,35,35)"/>
<ellipse cx="1781.1" cy="1069.6" rx="6.5" ry="2.7" transform="rotate(16 1781.1 1069.6)" fill="rgb(214,214,214)"/>
<ellipse cx="1894.3" cy="1043.8" rx="6.6" ry="2.2" transform="rotate(-54 1894.3 1043.8)" fill="rgb(75,75,75)"/>
<ellipse cx="1735.0" cy="1090.1" rx="5.8" ry="2.6" transform="rotate(-42 1735.0 1090.1)" fill="rgb(232,232,232)"/>
<ellipse cx="1696.6" cy="1061.2" rx="9.2" ry="3.5" transform="rotate(-48 1696.6 1061.2)" fill="rgb(46,46,46)"/>
<ellipse cx="1799.9" cy="1058.8" rx="6.6" ry="2.8" transform="rotate(-41 1799.9 1058.8)" fill="rgb(220,220,220)"/>
<ellipse cx="1924.1" cy="1081.8" rx="11.9" ry="3.9" transform="rotate(-22 1924.1 1081.8)" fill="rgb(64,64,64)"/>
<ellipse cx="1942.1" cy="1060.3" rx="7.5" ry="3.6" transform="rotate(-10 1942.1 1060.3)" fill="rgb(226,226,226)"/>
<ellipse cx="1935.5" cy="1048.4" rx="6.9" ry="3.0" transform="rotate(-69 1935.5 1048.4)" fill="rgb(35,35,35)"/>
<ellipse cx="1915.9" cy="1069.5" rx="11.3" ry="3.5" transform="rotate(-30 1915.9 1069.5)" fill="rgb(214,214,214)"/>
<ellipse cx="1608.2" cy="1055.2" rx="10.5" ry="5.0" transform="rotate(16 1608.2 1055.2)" fill="rgb(75,75,75)"/>
<ellipse cx="1792.2" cy="1099.6" rx="9.0" ry="3.9" transform="rotate(-70 1792.2 1099.6)" fill="rgb(232,232,232)"/>
<ellipse cx="1642.5" cy="1046.4" rx="9.4" ry="3.7" transform="rotate(-65 1642.5 1046.4)" fill="rgb(46,46,46)"/>
<ellipse cx="1671.5" cy="1059.8" rx="11.7" ry="5.8" transform="rotate(15 1671.5 1059.8)" fill="rgb(220,220,220)"/>
<ellipse cx="1621.4" cy="1107.3" rx="8.7" ry="3.9" transform="rotate(-45 1621.4 1107.3)" fill="rgb(64,64,64)"/>
<ellipse cx="1795.9" cy="1077.2" rx="9.8" ry="2.8" transform="rotate(-20 1795.9 1077.2)" fill="rgb(226,226,226)"/>
<ellipse cx="1669.1" cy="1076.7" rx="10.9" ry="4.0" transform="rotate(-64 1669.1 1076.7)" fill="rgb(35,35,35)"/>
<ellipse cx="1794.9" cy="1049.0" rx="12.1" ry="5.5" transform="rotate(-19 1794.9 1049.0)" fill="rgb(214,214,214)"/>
<ellipse cx="1838.9" cy="1073.2" rx="9.8" ry="3.8" transform="rotate(50 1838.9 1073.2)" fill="rgb(75,75,75)"/>
<ellipse cx="1696.1" cy="1109.8" rx="11.0" ry="4.9" transform="rotate(30 1696.1 1109.8)" fill="rgb(232,232,232)"/>
<ellipse cx="1942.7" cy="1098.7" rx="10.6" ry="4.7" transform="rotate(30 1942.7 1098.7)" fill="rgb(46,46,46)"/>
<ellipse cx="1872.9" cy="1048.4" rx="7.7" ry="3.0" transform="rotate(-52 1872.9 1048.4)" fill="rgb(220,220,220)"/>
<ellipse cx="1843.3" cy="1087.9" rx="6.9" ry="3.3" transform="rotate(-53 1843.3 1087.9)" fill="rgb(64,64,64)"/>
<ellipse cx="1851.1" cy="1083.7" rx="9.3" ry="3.4" transform="rotate(42 1851.1 1083.7)" fill="rgb(226,226,226)"/>
<ellipse cx="1867.6" cy="1095.8" rx="12.8" ry="3.7" transform="rotate(-27 1867.6 1095.8)" fill="rgb(35,35,35)"/>
<ellipse cx="1697.9" cy="1075.1" rx="5.4" ry="1.7" transform="rotate(-69 1697.9 1075.1)" fill="rgb(214,214,214)"/>
<ellipse cx="1693.3" cy="1109.2" rx="9.4" ry="3.7" transform="rotate(38 1693.3 1109.2)" fill="rgb(75,75,75)"/>
<ellipse cx="1978.8" cy="1079.5" rx="11.5" ry="3.4" transform="rotate(-26 1978.8 1079.5)" fill="rgb(232,232,232)"/>
<ellipse cx="1615.1" cy="1105.4" rx="6.3" ry="2.4" transform="rotate(-43 1615.1 1105.4)" fill="rgb(46,46,46)"/>
<ellipse cx="1830.5" cy="1050.1" rx="12.6" ry="4.7" transform="rotate(-36 1830.5 1050.1)" fill="rgb(220,220,220)"/>
<ellipse cx="1738.9" cy="1067.4" rx="10.2" ry="4.1" transform="rotate(-28 1738.9 1067.4)" fill="rgb(64,64,64)"/>
<ellipse cx="1712.4" cy="1049.0" rx="7.0" ry="2.0" transform="rotate(-26 1712.4 1049.0)" fill="rgb(226,226,226)"/>
<ellipse cx="1748.2" cy="1109.0" rx="11.0" ry="3.2" transform="rotate(57 1748.2 1109.0)" fill="rgb(35,35,35)"/>
<ellipse cx="1626.0" cy="1104.5" rx="8.4" ry="3.2" transform="rotate(22 1626.0 1104.5)" fill="rgb(214,214,214)"/>
<ellipse cx="1799.0" cy="1111.7" rx="10.8" ry="4.1" transform="rotate(51 1799.0 1111.7)" fill="rgb(75,75,75)"/>
<ellipse cx="1827.9" cy="1054.1" rx="10.0" ry="3.8" transform="rotate(-72 1827.9 1054.1)" fill="rgb(232,232,232)"/>
<ellipse cx="1799.2" cy="1056.5" rx="8.5" ry="3.6" transform="rotate(-58 1799.2 1056.5)" fill="rgb(46,46,46)"/>
<ellipse cx="1821.0" cy="1075.3" rx="11.2" ry="4.5" transform="rotate(58 1821.0 1075.3)" fill="rgb(220,220,220)"/>
<ellipse cx="1878.1" cy="1059.5" rx="5.9" ry="2.8" transform="rotate(41 1878.1 1059.5)" fill="rgb(64,64,64)"/>
<ellipse cx="1736.5" cy="1066.5" rx="10.5" ry="4.2" transform="rotate(-34 1736.5 1066.5)" fill="rgb(226,226,226)"/>
<ellipse cx="1885.1" cy="1055.8" rx="7.0" ry="3.5" transform="rotate(54 1885.1 1055.8)" fill="rgb(35,35,35)"/>
<ellipse cx="1617.1" cy="1046.3" rx="7.2" ry="2.7" transform="rotate(-68 1617.1 1046.3)" fill="rgb(214,214,214)"/>
<ellipse cx="1804.2" cy="1052.6" rx="5.7" ry="2.4" transform="rotate(-34 1804.2 1052.6)" fill="rgb(75,75,75)"/>
<ellipse cx="1741.8" cy="1080.5" rx="6.7" ry="2.4" transform="rotate(-20 1741.8 1080.5)" fill="rgb(232,232,232)"/>
<ellipse cx="1630.0" cy="1051.2" rx="11.5" ry="4.8" transform="rotate(21 1630.0 1051.2)" fill="rgb(46,46,46)"/>
<ellipse cx="1761.3" cy="1065.5" rx="11.5" ry="4.1" transform="rotate(-11 1761.3 1065.5)" fill="rgb(220,220,220)"/>
<ellipse cx="1723.6" cy="1085.3" rx="11.0" ry="5.3" transform="rotate(-51 1723.6 1085.3)" fill="rgb(64,64,64)"/>
<ellipse cx="1635.1" cy="1103.0" rx="5.6" ry="1.7" transform="rotate(-43 1635.1 1103.0)" fill="rgb(226,226,226)"/>
<ellipse cx="1859.7" cy="1064.7" rx="11.2" ry="3.3" transform="rotate(-32 1859.7 1064.7)" fill="rgb(35,35,35)"/>
<ellipse cx="1632.0" cy="1063.9" rx="10.8" ry="4.7" transform="rotate(-66 1632.0 1063.9)" fill="rgb(214,214,214)"/>
<ellipse cx="1736.0" cy="1097.4" rx="7.9" ry="2.4" transform="rotate(-38 1736.0 1097.4)" fill="rgb(75,75,75)"/>
<ellipse cx="1951.3" cy="1102.2" rx="12.3" ry="4.6" transform="rotate(25 1951.3 1102.2)" fill="rgb(232,232,232)"/>
<ellipse cx="1720.7" cy="1075.2" rx="12.5" ry="5.9" transform="rotate(-51 1720.7 1075.2)" fill="rgb(46,46,46)"/>
<ellipse cx="1738.9" cy="1072.7" rx="8.2" ry="3.0" transform="rotate(-38 1738.9 1072.7)" fill="rgb(220,220,220)"/>
<ellipse cx="1903.2" cy="1078.5" rx="11.7" ry="4.7" transform="rotate(-26 1903.2 1078.5)" fill="rgb(64,64,64)"/>
<ellipse cx="1933.7" cy="1058.6" rx="5.2" ry="2.0" transform="rotate(-38 1933.7 1058.6)" fill="rgb(226,226,226)"/>
<ellipse cx="1968.0" cy="1081.2" rx="11.4" ry="3.4" transform="rotate(-24 1968.0 1081.2)" fill="rgb(35,35,35)"/>
<ellipse cx="1633.9" cy="1048.9" rx="10.9" ry="5.2" transform="rotate(-34 1633.9 1048.9)" fill="rgb(214,214,214)"/>
<ellipse cx="1653.5" cy="1095.5" rx="10.2" ry="3.4" transform="rotate(-25 1653.5 1095.5)" fill="rgb(75,75,75)"/>
<ellipse cx="1798.3" cy="1100.0" rx="8.2" ry="2.9" transform="rotate(44 1798.3 1100.0)" fill="rgb(232,232,232)"/>
<ellipse cx="1787.7" cy="1084.5" rx="10.8" ry="4.7" transform="rotate(31 1787.7 1084.5)" fill="rgb(46,46,46)"/>
<ellipse cx="1914.9" cy="1086.3" rx="11.8" ry="5.4" transform="rotate(54 1914.9 1086.3)" fill="rgb(220,220,220)"/>
<ellipse cx="1964.7" cy="1080.7" rx="9.2" ry="4.0" transform="rotate(31 1964.7 1080.7)" fill="rgb(64,64,64)"/>
<ellipse cx="1759.8" cy="1057.9" rx="10.9" ry="5.4" transform="rotate(-64 1759.8 1057.9)" fill="rgb(226,226,226)"/>
<ellipse cx="1678.0" cy="1075.3" rx="7.3" ry="3.6" transform="rotate(-55 1678.0 1075.3)" fill="rgb(35,35,35)"/>
<ellipse cx="1642.9" cy="1088.1" rx="11.2" ry="3.6" transform="rotate(-45 1642.9 1088.1)" fill="rgb(214,214,214)"/>
<ellipse cx="1823.7" cy="1108.5" rx="5.3" ry="1.6" transform="rotate(-61 1823.7 1108.5)" fill="rgb(75,75,75)"/>
<ellipse cx="1688.4" cy="1096.0" rx="9.8" ry="3.2" transform="rotate(-57 1688.4 1096.0)" fill="rgb(232,232,232)"/>
<ellipse cx="1664.3" cy="1097.1" rx="7.5" ry="3.0" transform="rotate(34 1664.3 1097.1)" fill="rgb(46,46,46)"/>
<ellipse cx="2084.9" cy="1070.2" rx="10.3" ry="3.2" transform="rotate(-51 2084.9 1070.2)" fill="rgb(235,235,235)"/>
<ellipse cx="2042.1" cy="1082.5" rx="10.5" ry="4.3" transform="rotate(-32 2042.1 1082.5)" fill="rgb(41,41,41)"/>
<ellipse cx="2011.6" cy="1063.2" rx="6.3" ry="3.0" transform="rotate(-22 2011.6 1063.2)" fill="rgb(226,226,226)"/>
<ellipse cx="1997.5" cy="1079.5" rx="7.7" ry="2.8" transform="rotate(11 1997.5 1079.5)" fill="rgb(58,58,58)"/>
<ellipse cx="1995.8" cy="1093.4" rx="9.1" ry="2.7" transform="rotate(57 1995.8 1093.4)" fill="rgb(241,241,241)"/>
<ellipse cx="2004.3" cy="1062.9" rx="6.1" ry="2.1" transform="rotate(-64 2004.3 1062.9)" fill="rgb(35,35,35)"/>
<ellipse cx="2132.2" cy="1031.4" rx="6.4" ry="2.9" transform="rotate(-48 2132.2 1031.4)" fill="rgb(220,220,220)"/>
<ellipse cx="2111.2" cy="1058.0" rx="8.1" ry="2.3" transform="rotate(-12 2111.2 1058.0)" fill="rgb(70,70,70)"/>
<ellipse cx="2196.1" cy="1060.4" rx="7.9" ry="2.8" transform="rotate(-31 2196.1 1060.4)" fill="rgb(235,235,235)"/>
<ellipse cx="2003.5" cy="1051.7" rx="7.9" ry="3.1" transform="rotate(35 2003.5 1051.7)" fill="rgb(41,41,41)"/>
<ellipse cx="1988.1" cy="1088.6" rx="8.4" ry="3.3" transform="rotate(-47 1988.1 1088.6)" fill="rgb(226,226,226)"/>
<ellipse cx="2066.2" cy="1078.0" rx="5.8" ry="2.3" transform="rotate(-30 2066.2 1078.0)" fill="rgb(58,58,58)"/>
<ellipse cx="1986.8" cy="1055.8" rx="7.8" ry="3.3" transform="rotate(-45 1986.8 1055.8)" fill="rgb(241,241,241)"/>
<ellipse cx="2024.6" cy="1052.4" rx="8.8" ry="4.3" transform="rotate(-13 2024.6 1052.4)" fill="rgb(35,35,35)"/>
<ellipse cx="2019.4" cy="1091.6" rx="7.9" ry="2.5" transform="rotate(-16 2019.4 1091.6)" fill="rgb(220,220,220)"/>
<ellipse cx="1980.1" cy="1056.0" rx="11.2" ry="4.0" transform="rotate(-74 1980.1 1056.0)" fill="rgb(70,70,70)"/>
<ellipse cx="1989.5" cy="1076.2" rx="12.9" ry="6.4" transform="rotate(-73 1989.5 1076.2)" fill="rgb(235,235,235)"/>
<ellipse cx="2052.6" cy="1080.1" rx="11.7" ry="4.9" transform="rotate(-41 2052.6 1080.1)" fill="rgb(41,41,41)"/>
<ellipse cx="2085.5" cy="1068.4" rx="7.1" ry="3.5" transform="rotate(18 2085.5 1068.4)" fill="rgb(226,226,226)"/>
<ellipse cx="2046.3" cy="1085.9" rx="7.2" ry="3.5" transform="rotate(-30 2046.3 1085.9)" fill="rgb(58,58,58)"/>
<ellipse cx="2134.4" cy="1041.1" rx="7.3" ry="2.4" transform="rotate(-30 2134.4 1041.1)" fill="rgb(241,241,241)"/>
<ellipse cx="2011.3" cy="1090.2" rx="8.4" ry="2.8" transform="rotate(-11 2011.3 1090.2)" fill="rgb(35,35,35)"/>
<ellipse cx="2103.7" cy="1067.3" rx="12.4" ry="6.1" transform="rotate(31 2103.7 1067.3)" fill="rgb(220,220,220)"/>
<ellipse cx="2110.8" cy="1083.5" rx="11.3" ry="4.6" transform="rotate(-51 2110.8 1083.5)" fill="rgb(70,70,70)"/>
<ellipse cx="2142.6" cy="1061.5" rx="5.1" ry="2.2" transform="rotate(50 2142.6 1061.5)" fill="rgb(235,235,235)"/>
<ellipse cx="2180.8" cy="1077.4" rx="9.3" ry="4.2" transform="rotate(-69 2180.8 1077.4)" fill="rgb(41,41,41)"/>
<ellipse cx="2056.6" cy="1051.0" rx="12.5" ry="5.4" transform="rotate(-35 2056.6 1051.0)" fill="rgb(226,226,226)"/>
<ellipse cx="2007.6" cy="1069.3" rx="10.6" ry="3.9" transform="rotate(-49 2007.6 1069.3)" fill="rgb(58,58,58)"/>
<ellipse cx="2052.3" cy="1073.9" rx="6.1" ry="1.8" transform="rotate(-30 2052.3 1073.9)" fill="rgb(241,241,241)"/>
<ellipse cx="2148.6" cy="1066.5" rx="12.5" ry="4.5" transform="rotate(-43 2148.6 1066.5)" fill="rgb(35,35,35)"/>
<ellipse cx="2076.7" cy="1041.9" rx="10.3" ry="3.7" transform="rotate(-54 2076.7 1041.9)" fill="rgb(220,220,220)"/>
<ellipse cx="2183.8" cy="1022.4" rx="7.9" ry="2.7" transform="rotate(-47 2183.8 1022.4)" fill="rgb(70,70,70)"/>
<ellipse cx="2031.0" cy="1090.2" rx="9.0" ry="3.9" transform="rotate(-45 2031.0 1090.2)" fill="rgb(235,235,235)"/>
<ellipse cx="2114.6" cy="1079.9" rx="7.0" ry="2.7" transform="rotate(52 2114.6 1079.9)" fill="rgb(41,41,41)"/>
<ellipse cx="2030.3" cy="1067.3" rx="11.1" ry="4.1" transform="rotate(-32 2030.3 1067.3)" fill="rgb(226,226,226)"/>
<ellipse cx="2194.4" cy="1054.0" rx="10.4" ry="3.7" transform="rotate(-54 2194.4 1054.0)" fill="rgb(58,58,58)"/>
<ellipse cx="2089.6" cy="1052.2" rx="7.5" ry="2.3" transform="rotate(-40 2089.6 1052.2)" fill="rgb(241,241,241)"/>
<ellipse cx="2032.7" cy="1037.4" rx="11.4" ry="3.9" transform="rotate(40 2032.7 1037.4)" fill="rgb(35,35,35)"/>
<ellipse cx="2066.7" cy="1084.1" rx="12.2" ry="4.3" transform="rotate(-33 2066.7 1084.1)" fill="rgb(220,220,220)"/>
<ellipse cx="2166.4" cy="1061.0" rx="11.3" ry="4.2" transform="rotate(-58 2166.4 1061.0)" fill="rgb(70,70,70)"/>
<ellipse cx="2069.2" cy="1054.3" rx="8.1" ry="3.0" transform="rotate(18 2069.2 1054.3)" fill="rgb(235,235,235)"/>
<ellipse cx="2023.6" cy="1050.8" rx="12.8" ry="5.0" transform="rotate(-21 2023.6 1050.8)" fill="rgb(41,41,41)"/>
<ellipse cx="2174.8" cy="1072.8" rx="7.9" ry="3.5" transform="rotate(-66 2174.8 1072.8)" fill="rgb(226,226,226)"/>
<ellipse cx="2173.1" cy="1073.7" rx="6.7" ry="3.2" transform="rotate(-55 2173.1 1073.7)" fill="rgb(58,58,58)"/>
<ellipse cx="1980.9" cy="1050.1" rx="6.3" ry="2.8" transform="rotate(-63 1980.9 1050.1)" fill="rgb(241,241,241)"/>
<ellipse cx="2019.4" cy="1054.7" rx="11.9" ry="4.9" transform="rotate(-30 2019.4 1054.7)" fill="rgb(35,35,35)"/>
<ellipse cx="2097.9" cy="1057.0" rx="9.2" ry="3.9" transform="rotate(35 2097.9 1057.0)" fill="rgb(220,220,220)"/>
<ellipse cx="2119.9" cy="1057.0" rx="10.1" ry="3.7" transform="rotate(-41 2119.9 1057.0)" fill="rgb(70,70,70)"/>
<ellipse cx="2136.9" cy="1044.8" rx="12.4" ry="4.8" transform="rotate(45 2136.9 1044.8)" fill="rgb(235,235,235)"/>
<ellipse cx="2191.9" cy="1062.1" rx="8.4" ry="3.1" transform="rotate(-26 2191.9 1062.1)" fill="rgb(41,41,41)"/>
<ellipse cx="2161.8" cy="1032.7" rx="5.5" ry="1.7" transform="rotate(-71 2161.8 1032.7)" fill="rgb(226,226,226)"/>
<ellipse cx="1980.4" cy="1054.9" rx="5.9" ry="2.5" transform="rotate(-12 1980.4 1054.9)" fill="rgb(58,58,58)"/>
<ellipse cx="2193.3" cy="1065.8" rx="12.6" ry="3.6" transform="rotate(-15 2193.3 1065.8)" fill="rgb(241,241,241)"/>
<ellipse cx="2083.8" cy="1043.2" rx="11.1" ry="4.1" transform="rotate(-54 2083.8 1043.2)" fill="rgb(35,35,35)"/>
<ellipse cx="2030.7" cy="1040.0" rx="9.9" ry="4.8" transform="rotate(48 2030.7 1040.0)" fill="rgb(220,220,220)"/>
<ellipse cx="2184.3" cy="1043.8" rx="7.4" ry="3.6" transform="rotate(-32 2184.3 1043.8)" fill="rgb(70,70,70)"/>
<ellipse cx="1981.1" cy="1053.5" rx="8.9" ry="3.9" transform="rotate(48 1981.1 1053.5)" fill="rgb(235,235,235)"/>
<ellipse cx="2054.0" cy="1055.5" rx="11.9" ry="5.9" transform="rotate(-62 2054.0 1055.5)" fill="rgb(41,41,41)"/>
<ellipse cx="2117.7" cy="1061.3" rx="7.9" ry="2.6" transform="rotate(-35 2117.7 1061.3)" fill="rgb(226,226,226)"/>
<ellipse cx="2008.1" cy="1069.7" rx="12.6" ry="5.6" transform="rotate(-48 2008.1 1069.7)" fill="rgb(58,58,58)"/>
<ellipse cx="2003.9" cy="1081.9" rx="10.1" ry="3.2" transform="rotate(-36 2003.9 1081.9)" fill="rgb(241,241,241)"/>
<ellipse cx="2106.8" cy="1052.4" rx="7.5" ry="2.7" transform="rotate(27 2106.8 1052.4)" fill="rgb(35,35,35)"/>
<ellipse cx="2090.5" cy="1058.1" rx="6.4" ry="2.3" transform="rotate(-54 2090.5 1058.1)" fill="rgb(220,220,220)"/>
<ellipse cx="2060.3" cy="1053.0" rx="12.5" ry="4.3" transform="rotate(-32 2060.3 1053.0)" fill="rgb(70,70,70)"/>
<ellipse cx="2067.4" cy="1062.6" rx="10.2" ry="3.0" transform="rotate(-68 2067.4 1062.6)" fill="rgb(235,235,235)"/>
<ellipse cx="2036.9" cy="1083.0" rx="12.9" ry="5.5" transform="rotate(-47 2036.9 1083.0)" fill="rgb(41,41,41)"/>
<ellipse cx="2044.2" cy="1084.2" rx="6.9" ry="2.2" transform="rotate(-34 2044.2 1084.2)" fill="rgb(226,226,226)"/>
<ellipse cx="2109.8" cy="1058.2" rx="12.7" ry="4.8" transform="rotate(30 2109.8 1058.2)" fill="rgb(58,58,58)"/>
<ellipse cx="2082.0" cy="1052.5" rx="10.7" ry="4.8" transform="rotate(-41 2082.0 1052.5)" fill="rgb(241,241,241)"/>
<ellipse cx="2140.1" cy="1058.1" rx="10.3" ry="4.3" transform="rotate(-52 2140.1 1058.1)" fill="rgb(35,35,35)"/>
<ellipse cx="2044.6" cy="1034.9" rx="12.1" ry="5.5" transform="rotate(-12 2044.6 1034.9)" fill="rgb(220,220,220)"/>
<ellipse cx="2175.9" cy="1032.1" rx="11.7" ry="4.4" transform="rotate(-58 2175.9 1032.1)" fill="rgb(70,70,70)"/>
<ellipse cx="2069.7" cy="1034.6" rx="5.4" ry="1.7" transform="rotate(-65 2069.7 1034.6)" fill="rgb(235,235,235)"/>
<ellipse cx="2008.8" cy="1087.1" rx="8.0" ry="3.1" transform="rotate(-14 2008.8 1087.1)" fill="rgb(41,41,41)"/>
<ellipse cx="2010.5" cy="1050.6" rx="11.9" ry="5.7" transform="rotate(36 2010.5 1050.6)" fill="rgb(226,226,226)"/>
<ellipse cx="2059.8" cy="1043.3" rx="12.3" ry="5.5" transform="rotate(-24 2059.8 1043.3)" fill="rgb(58,58,58)"/>
<ellipse cx="2037.5" cy="1066.3" rx="12.3" ry="3.7" transform="rotate(-63 2037.5 1066.3)" fill="rgb(241,241,241)"/>
<ellipse cx="2167.1" cy="1074.9" rx="10.2" ry="3.8" transform="rotate(-43 2167.1 1074.9)" fill="rgb(35,35,35)"/>
<ellipse cx="2058.4" cy="1056.1" rx="5.6" ry="2.7" transform="rotate(-38 2058.4 1056.1)" fill="rgb(220,220,220)"/>
<ellipse cx="2168.6" cy="1078.2" rx="9.4" ry="3.8" transform="rotate(29 2168.6 1078.2)" fill="rgb(70,70,70)"/>
<ellipse cx="2174.4" cy="1024.6" rx="11.4" ry="4.5" transform="rotate(-11 2174.4 1024.6)" fill="rgb(235,235,235)"/>
<ellipse cx="2027.8" cy="1059.6" rx="11.4" ry="5.1" transform="rotate(-24 2027.8 1059.6)" fill="rgb(41,41,41)"/>
<ellipse cx="2130.3" cy="1080.7" rx="10.2" ry="3.7" transform="rotate(-70 2130.3 1080.7)" fill="rgb(226,226,226)"/>
<ellipse cx="2004.4" cy="1040.0" rx="12.8" ry="4.0" transform="rotate(-66 2004.4 1040.0)" fill="rgb(58,58,58)"/>
<ellipse cx="2192.9" cy="1052.9" rx="6.4" ry="3.0" transform="rotate(59 2192.9 1052.9)" fill="rgb(241,241,241)"/>
<ellipse cx="2028.5" cy="1059.3" rx="10.3" ry="3.5" transform="rotate(-29 2028.5 1059.3)" fill="rgb(35,35,35)"/>
<ellipse cx="2148.1" cy="1076.5" rx="11.0" ry="3.8" transform="rotate(32 2148.1 1076.5)" fill="rgb(220,220,220)"/>
<ellipse cx="2014.4" cy="1037.7" rx="10.0" ry="3.6" transform="rotate(-43 2014.4 1037.7)" fill="rgb(70,70,70)"/>
<ellipse cx="2070.8" cy="1051.0" rx="9.5" ry="3.8" transform="rotate(-11 2070.8 1051.0)" fill="rgb(235,235,235)"/>
<ellipse cx="2177.5" cy="1040.8" rx="12.0" ry="4.2" transform="rotate(13 2177.5 1040.8)" fill="rgb(41,41,41)"/>
<ellipse cx="2052.5" cy="1088.8" rx="10.3" ry="4.5" transform="rotate(-67 2052.5 1088.8)" fill="rgb(226,226,226)"/>
<ellipse cx="2187.7" cy="1025.4" rx="6.4" ry="2.4" transform="rotate(44 2187.7 1025.4)" fill="rgb(58,58,58)"/>
<ellipse cx="2201.9" cy="1066.7" rx="8.5" ry="4.1" transform="rotate(-72 2201.9 1066.7)" fill="rgb(241,241,241)"/>
<ellipse cx="2194.1" cy="1073.9" rx="10.3" ry="4.0" transform="rotate(-61 2194.1 1073.9)" fill="rgb(35,35,35)"/>
<ellipse cx="1992.4" cy="1044.3" rx="8.8" ry="4.2" transform="rotate(36 1992.4 1044.3)" fill="rgb(220,220,220)"/>
<ellipse cx="2128.3" cy="1056.7" rx="11.2" ry="4.9" transform="rotate(52 2128.3 1056.7)" fill="rgb(70,70,70)"/>
<ellipse cx="2129.6" cy="1063.9" rx="6.3" ry="2.4" transform="rotate(-65 2129.6 1063.9)" fill="rgb(235,235,235)"/>
<ellipse cx="2023.8" cy="1060.3" rx="6.4" ry="2.7" transform="rotate(-11 2023.8 1060.3)" fill="rgb(41,41,41)"/>
<ellipse cx="2130.8" cy="1059.5" rx="8.5" ry="3.1" transform="rotate(-12 2130.8 1059.5)" fill="rgb(226,226,226)"/>
<ellipse cx="2182.3" cy="1061.4" rx="10.2" ry="3.2" transform="rotate(-64 2182.3 1061.4)" fill="rgb(58,58,58)"/>
<ellipse cx="1612.8" cy="1081.2" rx="9.1" ry="4.3" transform="rotate(-60 1612.8 1081.2)" fill="rgb(232,232,232)"/>
<ellipse cx="1615.9" cy="1063.4" rx="9.4" ry="2.9" transform="rotate(-61 1615.9 1063.4)" fill="rgb(46,46,46)"/>
<ellipse cx="1620.8" cy="1077.8" rx="10.0" ry="4.1" transform="rotate(-57 1620.8 1077.8)" fill="rgb(220,220,220)"/>
<ellipse cx="1601.2" cy="1078.0" rx="9.9" ry="4.5" transform="rotate(47 1601.2 1078.0)" fill="rgb(64,64,64)"/>
<ellipse cx="1649.6" cy="1131.3" rx="6.5" ry="3.1" transform="rotate(-26 1649.6 1131.3)" fill="rgb(226,226,226)"/>
<ellipse cx="1638.5" cy="1095.4" rx="7.2" ry="2.7" transform="rotate(-67 1638.5 1095.4)" fill="rgb(35,35,35)"/>
<ellipse cx="1642.8" cy="1121.4" rx="10.9" ry="4.7" transform="rotate(-26 1642.8 1121.4)" fill="rgb(214,214,214)"/>
<ellipse cx="1604.8" cy="1072.8" rx="7.7" ry="2.4" transform="rotate(-41 1604.8 1072.8)" fill="rgb(75,75,75)"/>
<ellipse cx="1617.5" cy="1075.7" rx="8.6" ry="3.2" transform="rotate(-43 1617.5 1075.7)" fill="rgb(232,232,232)"/>
<ellipse cx="1621.4" cy="1069.4" rx="6.2" ry="2.2" transform="rotate(-33 1621.4 1069.4)" fill="rgb(46,46,46)"/>
<ellipse cx="1660.6" cy="1124.5" rx="9.3" ry="4.5" transform="rotate(-66 1660.6 1124.5)" fill="rgb(220,220,220)"/>
<ellipse cx="1641.0" cy="1121.1" rx="8.8" ry="2.8" transform="rotate(-19 1641.0 1121.1)" fill="rgb(64,64,64)"/>
<ellipse cx="1646.1" cy="1126.6" rx="6.2" ry="2.9" transform="rotate(-28 1646.1 1126.6)" fill="rgb(226,226,226)"/>
<ellipse cx="1598.3" cy="1079.6" rx="8.6" ry="3.8" transform="rotate(-35 1598.3 1079.6)" fill="rgb(35,35,35)"/>
<ellipse cx="733.2" cy="530.6" rx="9.6" ry="4.7" transform="rotate(-58 733.2 530.6)" fill="rgb(235,235,235)"/>
<ellipse cx="921.0" cy="505.0" rx="7.1" ry="3.1" transform="rotate(-24 921.0 505.0)" fill="rgb(224,224,224)"/>
<ellipse cx="733.8" cy="507.4" rx="11.3" ry="4.1" transform="rotate(-23 733.8 507.4)" fill="rgb(151,151,151)"/>
<ellipse cx="887.3" cy="484.6" rx="8.9" ry="3.8" transform="rotate(-33 887.3 484.6)" fill="rgb(230,230,230)"/>
<ellipse cx="735.9" cy="512.6" rx="5.6" ry="1.8" transform="rotate(30 735.9 512.6)" fill="rgb(162,162,162)"/>
<ellipse cx="996.9" cy="487.3" rx="9.3" ry="4.4" transform="rotate(-68 996.9 487.3)" fill="rgb(220,220,220)"/>
<ellipse cx="877.4" cy="509.3" rx="6.3" ry="1.9" transform="rotate(36 877.4 509.3)" fill="rgb(87,87,87)"/>
<ellipse cx="757.8" cy="515.5" rx="6.5" ry="3.0" transform="rotate(-68 757.8 515.5)" fill="rgb(240,240,240)"/>
<ellipse cx="943.6" cy="474.9" rx="7.0" ry="2.0" transform="rotate(-68 943.6 474.9)" fill="rgb(64,64,64)"/>
<ellipse cx="855.2" cy="485.9" rx="8.4" ry="3.6" transform="rotate(-45 855.2 485.9)" fill="rgb(235,235,235)"/>
<ellipse cx="845.0" cy="503.8" rx="9.2" ry="2.8" transform="rotate(-60 845.0 503.8)" fill="rgb(224,224,224)"/>
<ellipse cx="961.2" cy="514.4" rx="5.5" ry="1.7" transform="rotate(-38 961.2 514.4)" fill="rgb(151,151,151)"/>
<ellipse cx="706.9" cy="534.0" rx="11.6" ry="4.3" transform="rotate(-38 706.9 534.0)" fill="rgb(230,230,230)"/>
<ellipse cx="980.7" cy="480.2" rx="7.1" ry="2.3" transform="rotate(-44 980.7 480.2)" fill="rgb(162,162,162)"/>
<ellipse cx="776.1" cy="510.1" rx="5.2" ry="1.8" transform="rotate(39 776.1 510.1)" fill="rgb(220,220,220)"/>
<ellipse cx="787.3" cy="535.2" rx="7.5" ry="2.5" transform="rotate(-65 787.3 535.2)" fill="rgb(87,87,87)"/>
<ellipse cx="758.1" cy="504.7" rx="11.1" ry="3.8" transform="rotate(-36 758.1 504.7)" fill="rgb(240,240,240)"/>
<ellipse cx="974.2" cy="482.1" rx="10.3" ry="3.7" transform="rotate(-36 974.2 482.1)" fill="rgb(64,64,64)"/>
<ellipse cx="983.7" cy="503.8" rx="8.6" ry="4.0" transform="rotate(-50 983.7 503.8)" fill="rgb(235,235,235)"/>
<ellipse cx="988.1" cy="493.2" rx="10.4" ry="3.6" transform="rotate(41 988.1 493.2)" fill="rgb(224,224,224)"/>
<ellipse cx="776.7" cy="536.4" rx="8.3" ry="2.9" transform="rotate(-68 776.7 536.4)" fill="rgb(151,151,151)"/>
<ellipse cx="761.3" cy="526.6" rx="6.0" ry="2.0" transform="rotate(-40 761.3 526.6)" fill="rgb(230,230,230)"/>
<ellipse cx="815.8" cy="524.3" rx="6.8" ry="2.5" transform="rotate(-67 815.8 524.3)" fill="rgb(162,162,162)"/>
<ellipse cx="764.5" cy="499.8" rx="10.1" ry="3.1" transform="rotate(-61 764.5 499.8)" fill="rgb(220,220,220)"/>
<ellipse cx="894.9" cy="508.2" rx="7.5" ry="3.6" transform="rotate(-39 894.9 508.2)" fill="rgb(87,87,87)"/>
<ellipse cx="713.3" cy="518.8" rx="6.9" ry="2.6" transform="rotate(53 713.3 518.8)" fill="rgb(240,240,240)"/>
<ellipse cx="719.6" cy="531.3" rx="11.5" ry="4.6" transform="rotate(-19 719.6 531.3)" fill="rgb(64,64,64)"/>
<ellipse cx="830.7" cy="531.9" rx="11.1" ry="5.1" transform="rotate(13 830.7 531.9)" fill="rgb(235,235,235)"/>
<ellipse cx="936.8" cy="486.0" rx="5.9" ry="2.2" transform="rotate(-75 936.8 486.0)" fill="rgb(224,224,224)"/>
<ellipse cx="836.5" cy="521.7" rx="8.5" ry="3.4" transform="rotate(-12 836.5 521.7)" fill="rgb(151,151,151)"/>
<ellipse cx="775.5" cy="524.3" rx="9.5" ry="2.7" transform="rotate(22 775.5 524.3)" fill="rgb(230,230,230)"/>
<ellipse cx="998.3" cy="510.8" rx="11.3" ry="5.3" transform="rotate(-46 998.3 510.8)" fill="rgb(162,162,162)"/>
<ellipse cx="806.2" cy="532.8" rx="5.2" ry="1.6" transform="rotate(50 806.2 532.8)" fill="rgb(220,220,220)"/>
<ellipse cx="914.4" cy="520.8" rx="8.7" ry="4.0" transform="rotate(-16 914.4 520.8)" fill="rgb(87,87,87)"/>
<ellipse cx="720.5" cy="519.5" rx="9.0" ry="4.1" transform="rotate(-31 720.5 519.5)" fill="rgb(240,240,240)"/>
<ellipse cx="990.0" cy="486.9" rx="6.4" ry="1.8" transform="rotate(34 990.0 486.9)" fill="rgb(64,64,64)"/>
<ellipse cx="816.4" cy="511.4" rx="5.8" ry="1.9" transform="rotate(-58 816.4 511.4)" fill="rgb(235,235,235)"/>
<ellipse cx="956.7" cy="481.4" rx="5.6" ry="2.7" transform="rotate(-73 956.7 481.4)" fill="rgb(224,224,224)"/>
<ellipse cx="903.5" cy="508.6" rx="9.5" ry="4.3" transform="rotate(-60 903.5 508.6)" fill="rgb(151,151,151)"/>
<ellipse cx="923.8" cy="503.1" rx="9.9" ry="3.2" transform="rotate(-30 923.8 503.1)" fill="rgb(230,230,230)"/>
<ellipse cx="815.9" cy="515.5" rx="8.3" ry="3.7" transform="rotate(-43 815.9 515.5)" fill="rgb(162,162,162)"/>
<ellipse cx="947.6" cy="485.2" rx="6.2" ry="2.6" transform="rotate(-19 947.6 485.2)" fill="rgb(220,220,220)"/>
<ellipse cx="784.8" cy="533.9" rx="8.7" ry="2.7" transform="rotate(-31 784.8 533.9)" fill="rgb(87,87,87)"/>
<ellipse cx="846.5" cy="513.2" rx="7.6" ry="3.7" transform="rotate(-23 846.5 513.2)" fill="rgb(240,240,240)"/>
<ellipse cx="707.2" cy="524.5" rx="5.5" ry="1.7" transform="rotate(-16 707.2 524.5)" fill="rgb(64,64,64)"/>
<ellipse cx="792.1" cy="508.8" rx="8.3" ry="3.4" transform="rotate(-52 792.1 508.8)" fill="rgb(235,235,235)"/>
<ellipse cx="956.1" cy="496.3" rx="7.5" ry="3.4" transform="rotate(32 956.1 496.3)" fill="rgb(224,224,224)"/>
<ellipse cx="703.4" cy="515.2" rx="11.3" ry="3.6" transform="rotate(-23 703.4 515.2)" fill="rgb(151,151,151)"/>
<ellipse cx="736.3" cy="537.4" rx="6.6" ry="2.4" transform="rotate(-68 736.3 537.4)" fill="rgb(230,230,230)"/>
<ellipse cx="931.9" cy="493.0" rx="10.4" ry="4.7" transform="rotate(-22 931.9 493.0)" fill="rgb(162,162,162)"/>
<ellipse cx="945.0" cy="482.1" rx="9.1" ry="3.0" transform="rotate(-26 945.0 482.1)" fill="rgb(220,220,220)"/>
<ellipse cx="813.2" cy="512.5" rx="5.9" ry="2.8" transform="rotate(-21 813.2 512.5)" fill="rgb(87,87,87)"/>
<ellipse cx="725.7" cy="533.7" rx="5.6" ry="2.3" transform="rotate(-16 725.7 533.7)" fill="rgb(240,240,240)"/>
<ellipse cx="731.7" cy="519.7" rx="8.3" ry="3.0" transform="rotate(-32 731.7 519.7)" fill="rgb(64,64,64)"/>
<ellipse cx="991.0" cy="484.1" rx="11.3" ry="4.0" transform="rotate(-45 991.0 484.1)" fill="rgb(235,235,235)"/>
<ellipse cx="992.9" cy="504.0" rx="9.4" ry="2.7" transform="rotate(-74 992.9 504.0)" fill="rgb(224,224,224)"/>
<ellipse cx="717.9" cy="516.8" rx="6.7" ry="2.0" transform="rotate(-24 717.9 516.8)" fill="rgb(151,151,151)"/>
<ellipse cx="979.3" cy="511.8" rx="8.0" ry="2.5" transform="rotate(31 979.3 511.8)" fill="rgb(230,230,230)"/>
<ellipse cx="804.7" cy="527.6" rx="8.9" ry="4.4" transform="rotate(-14 804.7 527.6)" fill="rgb(162,162,162)"/>
<ellipse cx="748.5" cy="540.4" rx="8.8" ry="3.8" transform="rotate(-59 748.5 540.4)" fill="rgb(220,220,220)"/>
<ellipse cx="787.0" cy="498.2" rx="11.7" ry="3.6" transform="rotate(-34 787.0 498.2)" fill="rgb(87,87,87)"/>
<ellipse cx="759.6" cy="503.7" rx="6.8" ry="2.2" transform="rotate(-27 759.6 503.7)" fill="rgb(240,240,240)"/>
<ellipse cx="896.5" cy="491.3" rx="11.3" ry="4.6" transform="rotate(-12 896.5 491.3)" fill="rgb(64,64,64)"/>
<ellipse cx="770.7" cy="531.1" rx="10.7" ry="3.0" transform="rotate(31 770.7 531.1)" fill="rgb(235,235,235)"/>
<ellipse cx="853.2" cy="527.4" rx="8.2" ry="2.7" transform="rotate(-17 853.2 527.4)" fill="rgb(224,224,224)"/>
<ellipse cx="837.6" cy="518.0" rx="9.5" ry="4.7" transform="rotate(57 837.6 518.0)" fill="rgb(151,151,151)"/>
<ellipse cx="853.7" cy="525.6" rx="7.1" ry="2.2" transform="rotate(-73 853.7 525.6)" fill="rgb(230,230,230)"/>
<ellipse cx="991.0" cy="482.3" rx="8.0" ry="2.7" transform="rotate(-40 991.0 482.3)" fill="rgb(162,162,162)"/>
<ellipse cx="938.2" cy="471.8" rx="7.4" ry="2.5" transform="rotate(32 938.2 471.8)" fill="rgb(220,220,220)"/>
<ellipse cx="835.8" cy="529.2" rx="7.7" ry="2.8" transform="rotate(-60 835.8 529.2)" fill="rgb(87,87,87)"/>
<ellipse cx="909.7" cy="488.5" rx="8.6" ry="3.5" transform="rotate(47 909.7 488.5)" fill="rgb(240,240,240)"/>
<ellipse cx="846.9" cy="528.4" rx="11.6" ry="5.7" transform="rotate(-45 846.9 528.4)" fill="rgb(64,64,64)"/>
<ellipse cx="810.0" cy="528.7" rx="8.3" ry="3.7" transform="rotate(-51 810.0 528.7)" fill="rgb(235,235,235)"/>
<ellipse cx="706.8" cy="535.3" rx="7.0" ry="2.7" transform="rotate(-21 706.8 535.3)" fill="rgb(224,224,224)"/>
<ellipse cx="984.0" cy="499.2" rx="6.6" ry="3.2" transform="rotate(-48 984.0 499.2)" fill="rgb(151,151,151)"/>
<ellipse cx="978.8" cy="508.4" rx="9.2" ry="4.3" transform="rotate(-72 978.8 508.4)" fill="rgb(230,230,230)"/>
<ellipse cx="791.5" cy="534.4" rx="5.3" ry="1.9" transform="rotate(-62 791.5 534.4)" fill="rgb(162,162,162)"/>
<ellipse cx="959.7" cy="474.4" rx="5.6" ry="2.8" transform="rotate(-61 959.7 474.4)" fill="rgb(220,220,220)"/>
<ellipse cx="824.7" cy="527.8" rx="7.3" ry="3.0" transform="rotate(41 824.7 527.8)" fill="rgb(87,87,87)"/>
<ellipse cx="947.2" cy="471.1" rx="8.8" ry="2.5" transform="rotate(11 947.2 471.1)" fill="rgb(240,240,240)"/>
<ellipse cx="1729.7" cy="433.6" rx="8.4" ry="2.6" transform="rotate(11 1729.7 433.6)" fill="rgb(232,232,232)"/>
<ellipse cx="1712.8" cy="460.0" rx="9.1" ry="4.6" transform="rotate(-53 1712.8 460.0)" fill="rgb(35,35,35)"/>
<ellipse cx="1671.0" cy="457.4" rx="5.6" ry="1.8" transform="rotate(54 1671.0 457.4)" fill="rgb(220,220,220)"/>
<ellipse cx="1689.9" cy="448.1" rx="9.5" ry="3.7" transform="rotate(-45 1689.9 448.1)" fill="rgb(52,52,52)"/>
<ellipse cx="1618.2" cy="493.4" rx="7.4" ry="2.7" transform="rotate(-15 1618.2 493.4)" fill="rgb(226,226,226)"/>
<ellipse cx="1658.9" cy="466.8" rx="9.2" ry="4.6" transform="rotate(-14 1658.9 466.8)" fill="rgb(75,75,75)"/>
<ellipse cx="1531.8" cy="521.4" rx="5.0" ry="2.4" transform="rotate(-28 1531.8 521.4)" fill="rgb(232,232,232)"/>
<ellipse cx="1594.9" cy="518.9" rx="9.3" ry="2.8" transform="rotate(-72 1594.9 518.9)" fill="rgb(35,35,35)"/>
<ellipse cx="1642.4" cy="509.3" rx="7.3" ry="2.7" transform="rotate(-63 1642.4 509.3)" fill="rgb(220,220,220)"/>
<ellipse cx="1727.3" cy="446.3" rx="5.4" ry="1.9" transform="rotate(26 1727.3 446.3)" fill="rgb(52,52,52)"/>
<ellipse cx="1717.2" cy="446.9" rx="6.6" ry="2.0" transform="rotate(50 1717.2 446.9)" fill="rgb(226,226,226)"/>
<ellipse cx="1623.5" cy="491.3" rx="7.0" ry="2.5" transform="rotate(56 1623.5 491.3)" fill="rgb(75,75,75)"/>
<ellipse cx="1678.3" cy="454.9" rx="4.2" ry="2.0" transform="rotate(18 1678.3 454.9)" fill="rgb(232,232,232)"/>
<ellipse cx="1637.4" cy="495.3" rx="9.9" ry="2.9" transform="rotate(-20 1637.4 495.3)" fill="rgb(35,35,35)"/>
<ellipse cx="1647.5" cy="482.5" rx="8.7" ry="3.6" transform="rotate(-58 1647.5 482.5)" fill="rgb(220,220,220)"/>
<ellipse cx="1546.0" cy="513.8" rx="6.0" ry="2.5" transform="rotate(-52 1546.0 513.8)" fill="rgb(52,52,52)"/>
<ellipse cx="1661.6" cy="479.5" rx="7.6" ry="2.6" transform="rotate(50 1661.6 479.5)" fill="rgb(226,226,226)"/>
<ellipse cx="1717.0" cy="467.1" rx="4.1" ry="1.7" transform="rotate(-50 1717.0 467.1)" fill="rgb(75,75,75)"/>
<ellipse cx="1630.9" cy="484.2" rx="5.5" ry="2.7" transform="rotate(-16 1630.9 484.2)" fill="rgb(232,232,232)"/>
<ellipse cx="1666.3" cy="460.5" rx="5.9" ry="2.4" transform="rotate(-53 1666.3 460.5)" fill="rgb(35,35,35)"/>
<ellipse cx="1541.2" cy="520.7" rx="9.2" ry="4.0" transform="rotate(-21 1541.2 520.7)" fill="rgb(220,220,220)"/>
<ellipse cx="1644.9" cy="478.4" rx="9.4" ry="2.9" transform="rotate(-53 1644.9 478.4)" fill="rgb(52,52,52)"/>
<ellipse cx="1680.9" cy="464.0" rx="6.9" ry="3.3" transform="rotate(-24 1680.9 464.0)" fill="rgb(226,226,226)"/>
<ellipse cx="1533.0" cy="544.8" rx="4.9" ry="2.1" transform="rotate(43 1533.0 544.8)" fill="rgb(75,75,75)"/>
<ellipse cx="1651.3" cy="482.9" rx="8.5" ry="3.1" transform="rotate(-39 1651.3 482.9)" fill="rgb(232,232,232)"/>
<ellipse cx="1630.5" cy="483.2" rx="7.2" ry="2.7" transform="rotate(-29 1630.5 483.2)" fill="rgb(35,35,35)"/>
<ellipse cx="1687.2" cy="453.6" rx="9.2" ry="4.6" transform="rotate(-48 1687.2 453.6)" fill="rgb(220,220,220)"/>
<ellipse cx="1586.9" cy="507.9" rx="5.6" ry="2.8" transform="rotate(-15 1586.9 507.9)" fill="rgb(52,52,52)"/>
<ellipse cx="1675.0" cy="475.3" rx="4.6" ry="1.9" transform="rotate(-31 1675.0 475.3)" fill="rgb(226,226,226)"/>
<ellipse cx="1695.5" cy="465.2" rx="7.2" ry="3.4" transform="rotate(-65 1695.5 465.2)" fill="rgb(75,75,75)"/>
<ellipse cx="1706.8" cy="438.0" rx="6.5" ry="2.4" transform="rotate(29 1706.8 438.0)" fill="rgb(232,232,232)"/>
<ellipse cx="1648.5" cy="483.5" rx="6.9" ry="2.6" transform="rotate(-36 1648.5 483.5)" fill="rgb(35,35,35)"/>
<ellipse cx="1625.6" cy="503.8" rx="9.5" ry="4.7" transform="rotate(-13 1625.6 503.8)" fill="rgb(220,220,220)"/>
<ellipse cx="1534.3" cy="528.0" rx="9.4" ry="3.0" transform="rotate(-10 1534.3 528.0)" fill="rgb(52,52,52)"/>
<ellipse cx="1653.9" cy="474.9" rx="4.2" ry="1.6" transform="rotate(-24 1653.9 474.9)" fill="rgb(226,226,226)"/>
<ellipse cx="1621.5" cy="520.2" rx="6.4" ry="2.7" transform="rotate(18 1621.5 520.2)" fill="rgb(75,75,75)"/>
<ellipse cx="1729.0" cy="449.6" rx="6.9" ry="3.4" transform="rotate(-41 1729.0 449.6)" fill="rgb(232,232,232)"/>
<ellipse cx="1577.0" cy="515.3" rx="8.6" ry="3.4" transform="rotate(-30 1577.0 515.3)" fill="rgb(35,35,35)"/>
<ellipse cx="1665.9" cy="461.0" rx="9.2" ry="3.5" transform="rotate(-19 1665.9 461.0)" fill="rgb(220,220,220)"/>
<ellipse cx="1715.4" cy="439.3" rx="9.3" ry="4.0" transform="rotate(-38 1715.4 439.3)" fill="rgb(52,52,52)"/>
<ellipse cx="1720.3" cy="439.8" rx="8.0" ry="2.6" transform="rotate(-13 1720.3 439.8)" fill="rgb(226,226,226)"/>
<ellipse cx="1739.6" cy="455.7" rx="8.8" ry="3.2" transform="rotate(-35 1739.6 455.7)" fill="rgb(75,75,75)"/>
<ellipse cx="1699.5" cy="462.9" rx="6.8" ry="2.9" transform="rotate(-22 1699.5 462.9)" fill="rgb(232,232,232)"/>
<ellipse cx="1710.8" cy="463.6" rx="5.9" ry="2.2" transform="rotate(29 1710.8 463.6)" fill="rgb(35,35,35)"/>
<ellipse cx="1659.2" cy="454.8" rx="4.8" ry="1.6" transform="rotate(-60 1659.2 454.8)" fill="rgb(220,220,220)"/>
<ellipse cx="1657.2" cy="454.6" rx="8.1" ry="3.5" transform="rotate(-59 1657.2 454.6)" fill="rgb(52,52,52)"/>
<ellipse cx="1587.1" cy="521.9" rx="5.1" ry="1.7" transform="rotate(57 1587.1 521.9)" fill="rgb(226,226,226)"/>
<ellipse cx="1567.0" cy="528.3" rx="8.0" ry="3.9" transform="rotate(-40 1567.0 528.3)" fill="rgb(75,75,75)"/>
<ellipse cx="1691.4" cy="469.3" rx="8.3" ry="3.4" transform="rotate(12 1691.4 469.3)" fill="rgb(232,232,232)"/>
<ellipse cx="1683.3" cy="450.6" rx="6.1" ry="2.2" transform="rotate(-37 1683.3 450.6)" fill="rgb(35,35,35)"/>
<ellipse cx="1646.1" cy="476.1" rx="6.2" ry="2.6" transform="rotate(29 1646.1 476.1)" fill="rgb(220,220,220)"/>
<ellipse cx="1534.3" cy="547.1" rx="9.3" ry="4.3" transform="rotate(-48 1534.3 547.1)" fill="rgb(52,52,52)"/>
<ellipse cx="1548.0" cy="546.9" rx="6.6" ry="2.0" transform="rotate(-72 1548.0 546.9)" fill="rgb(226,226,226)"/>
<ellipse cx="1618.5" cy="513.6" rx="8.8" ry="3.2" transform="rotate(-53 1618.5 513.6)" fill="rgb(75,75,75)"/>
<ellipse cx="1693.2" cy="441.8" rx="4.8" ry="1.7" transform="rotate(54 1693.2 441.8)" fill="rgb(232,232,232)"/>
<ellipse cx="1730.4" cy="434.8" rx="7.0" ry="2.2" transform="rotate(-23 1730.4 434.8)" fill="rgb(35,35,35)"/>
<ellipse cx="1640.4" cy="503.4" rx="8.1" ry="3.2" transform="rotate(-59 1640.4 503.4)" fill="rgb(220,220,220)"/>
<ellipse cx="1682.6" cy="480.0" rx="9.8" ry="4.7" transform="rotate(43 1682.6 480.0)" fill="rgb(52,52,52)"/>
<ellipse cx="1626.9" cy="487.7" rx="8.8" ry="2.8" transform="rotate(53 1626.9 487.7)" fill="rgb(226,226,226)"/>
<ellipse cx="1599.6" cy="532.9" rx="8.5" ry="3.9" transform="rotate(-57 1599.6 532.9)" fill="rgb(75,75,75)"/>
<ellipse cx="414.6" cy="1064.1" rx="7.9" ry="3.0" transform="rotate(-32 414.6 1064.1)" fill="rgb(220,220,220)"/>
<ellipse cx="361.7" cy="1072.5" rx="5.1" ry="1.8" transform="rotate(-66 361.7 1072.5)" fill="rgb(58,58,58)"/>
<ellipse cx="609.6" cy="1046.2" rx="10.5" ry="5.2" transform="rotate(-17 609.6 1046.2)" fill="rgb(209,209,209)"/>
<ellipse cx="641.0" cy="1069.7" rx="5.2" ry="2.0" transform="rotate(-56 641.0 1069.7)" fill="rgb(70,70,70)"/>
<ellipse cx="344.9" cy="1049.7" rx="6.8" ry="3.1" transform="rotate(-47 344.9 1049.7)" fill="rgb(226,226,226)"/>
<ellipse cx="559.8" cy="1091.4" rx="7.1" ry="2.0" transform="rotate(52 559.8 1091.4)" fill="rgb(46,46,46)"/>
<ellipse cx="634.1" cy="1059.8" rx="6.6" ry="2.1" transform="rotate(-45 634.1 1059.8)" fill="rgb(203,203,203)"/>
<ellipse cx="262.2" cy="1068.8" rx="10.1" ry="2.9" transform="rotate(35 262.2 1068.8)" fill="rgb(87,87,87)"/>
<ellipse cx="699.3" cy="1066.4" rx="10.6" ry="4.0" transform="rotate(-43 699.3 1066.4)" fill="rgb(220,220,220)"/>
<ellipse cx="244.0" cy="1029.1" rx="6.6" ry="2.4" transform="rotate(-40 244.0 1029.1)" fill="rgb(58,58,58)"/>
<ellipse cx="566.8" cy="1053.9" rx="7.2" ry="2.8" transform="rotate(49 566.8 1053.9)" fill="rgb(209,209,209)"/>
<ellipse cx="565.8" cy="1082.3" rx="6.6" ry="2.0" transform="rotate(-67 565.8 1082.3)" fill="rgb(70,70,70)"/>
<ellipse cx="233.8" cy="1061.0" rx="11.4" ry="3.5" transform="rotate(-14 233.8 1061.0)" fill="rgb(226,226,226)"/>
<ellipse cx="620.4" cy="1035.1" rx="9.5" ry="3.2" transform="rotate(-74 620.4 1035.1)" fill="rgb(46,46,46)"/>
<ellipse cx="499.6" cy="1091.7" rx="5.7" ry="1.8" transform="rotate(-72 499.6 1091.7)" fill="rgb(203,203,203)"/>
<ellipse cx="467.9" cy="1080.2" rx="8.2" ry="2.4" transform="rotate(-62 467.9 1080.2)" fill="rgb(87,87,87)"/>
<ellipse cx="572.1" cy="1089.4" rx="8.5" ry="2.6" transform="rotate(-48 572.1 1089.4)" fill="rgb(220,220,220)"/>
<ellipse cx="287.8" cy="1031.5" rx="8.0" ry="3.7" transform="rotate(-18 287.8 1031.5)" fill="rgb(58,58,58)"/>
<ellipse cx="678.2" cy="1059.9" rx="6.6" ry="2.1" transform="rotate(-21 678.2 1059.9)" fill="rgb(209,209,209)"/>
<ellipse cx="672.9" cy="1043.5" rx="8.0" ry="2.3" transform="rotate(-56 672.9 1043.5)" fill="rgb(70,70,70)"/>
<ellipse cx="295.9" cy="1029.6" rx="12.0" ry="4.1" transform="rotate(-40 295.9 1029.6)" fill="rgb(226,226,226)"/>
<ellipse cx="471.5" cy="1070.4" rx="8.5" ry="3.3" transform="rotate(-34 471.5 1070.4)" fill="rgb(46,46,46)"/>
<ellipse cx="572.4" cy="1075.7" rx="7.2" ry="2.7" transform="rotate(46 572.4 1075.7)" fill="rgb(203,203,203)"/>
<ellipse cx="257.9" cy="1043.5" rx="6.2" ry="2.7" transform="rotate(-50 257.9 1043.5)" fill="rgb(87,87,87)"/>
<ellipse cx="343.8" cy="1059.4" rx="10.0" ry="4.2" transform="rotate(-49 343.8 1059.4)" fill="rgb(220,220,220)"/>
<ellipse cx="547.4" cy="1031.1" rx="11.3" ry="3.2" transform="rotate(-65 547.4 1031.1)" fill="rgb(58,58,58)"/>
<ellipse cx="715.8" cy="1084.1" rx="6.6" ry="2.6" transform="rotate(53 715.8 1084.1)" fill="rgb(209,209,209)"/>
<ellipse cx="569.1" cy="1070.0" rx="10.2" ry="4.9" transform="rotate(-35 569.1 1070.0)" fill="rgb(70,70,70)"/>
<ellipse cx="638.1" cy="1058.8" rx="6.5" ry="2.7" transform="rotate(-29 638.1 1058.8)" fill="rgb(226,226,226)"/>
<ellipse cx="613.4" cy="1086.6" rx="5.8" ry="1.6" transform="rotate(47 613.4 1086.6)" fill="rgb(46,46,46)"/>
<ellipse cx="735.1" cy="1095.8" rx="11.7" ry="3.7" transform="rotate(-35 735.1 1095.8)" fill="rgb(203,203,203)"/>
<ellipse cx="616.5" cy="1032.8" rx="11.6" ry="3.8" transform="rotate(-47 616.5 1032.8)" fill="rgb(87,87,87)"/>
<ellipse cx="325.6" cy="1033.5" rx="5.6" ry="1.6" transform="rotate(-31 325.6 1033.5)" fill="rgb(220,220,220)"/>
<ellipse cx="629.4" cy="1076.9" rx="7.9" ry="3.5" transform="rotate(-19 629.4 1076.9)" fill="rgb(58,58,58)"/>
<ellipse cx="438.4" cy="1040.0" rx="7.7" ry="2.5" transform="rotate(-51 438.4 1040.0)" fill="rgb(209,209,209)"/>
<ellipse cx="240.7" cy="1032.1" rx="5.6" ry="2.7" transform="rotate(-24 240.7 1032.1)" fill="rgb(70,70,70)"/>
<ellipse cx="533.1" cy="1055.9" rx="10.1" ry="4.1" transform="rotate(-10 533.1 1055.9)" fill="rgb(226,226,226)"/>
<ellipse cx="407.7" cy="1075.4" rx="7.9" ry="3.9" transform="rotate(-71 407.7 1075.4)" fill="rgb(46,46,46)"/>
<ellipse cx="252.4" cy="1047.4" rx="10.9" ry="4.1" transform="rotate(17 252.4 1047.4)" fill="rgb(203,203,203)"/>
<ellipse cx="726.7" cy="1049.8" rx="11.2" ry="3.6" transform="rotate(-35 726.7 1049.8)" fill="rgb(87,87,87)"/>
<ellipse cx="726.5" cy="1066.6" rx="10.9" ry="3.2" transform="rotate(36 726.5 1066.6)" fill="rgb(220,220,220)"/>
<ellipse cx="505.8" cy="1094.9" rx="7.2" ry="3.0" transform="rotate(-55 505.8 1094.9)" fill="rgb(58,58,58)"/>
<ellipse cx="305.2" cy="1054.7" rx="7.0" ry="2.9" transform="rotate(-70 305.2 1054.7)" fill="rgb(209,209,209)"/>
<ellipse cx="583.5" cy="1088.9" rx="9.3" ry="3.2" transform="rotate(-13 583.5 1088.9)" fill="rgb(70,70,70)"/>
<ellipse cx="457.5" cy="1080.2" rx="5.5" ry="2.5" transform="rotate(23 457.5 1080.2)" fill="rgb(226,226,226)"/>
<ellipse cx="386.3" cy="1074.5" rx="11.7" ry="5.3" transform="rotate(-68 386.3 1074.5)" fill="rgb(46,46,46)"/>
<ellipse cx="684.9" cy="1058.9" rx="11.7" ry="4.4" transform="rotate(21 684.9 1058.9)" fill="rgb(203,203,203)"/>
<ellipse cx="722.4" cy="1070.2" rx="5.0" ry="1.6" transform="rotate(-48 722.4 1070.2)" fill="rgb(87,87,87)"/>
<ellipse cx="713.1" cy="1102.9" rx="11.5" ry="4.3" transform="rotate(47 713.1 1102.9)" fill="rgb(220,220,220)"/>
<ellipse cx="649.7" cy="1092.0" rx="10.8" ry="4.9" transform="rotate(-64 649.7 1092.0)" fill="rgb(58,58,58)"/>
<ellipse cx="442.9" cy="1051.2" rx="10.3" ry="3.2" transform="rotate(-27 442.9 1051.2)" fill="rgb(209,209,209)"/>
<ellipse cx="252.9" cy="1025.8" rx="5.0" ry="1.4" transform="rotate(-27 252.9 1025.8)" fill="rgb(70,70,70)"/>
<ellipse cx="368.3" cy="1036.8" rx="8.5" ry="3.0" transform="rotate(-71 368.3 1036.8)" fill="rgb(226,226,226)"/>
<ellipse cx="359.7" cy="1057.7" rx="5.8" ry="2.2" transform="rotate(-15 359.7 1057.7)" fill="rgb(46,46,46)"/>
<ellipse cx="540.7" cy="1048.3" rx="6.6" ry="2.1" transform="rotate(-13 540.7 1048.3)" fill="rgb(203,203,203)"/>
<ellipse cx="728.1" cy="1048.7" rx="9.5" ry="4.3" transform="rotate(48 728.1 1048.7)" fill="rgb(87,87,87)"/>
<ellipse cx="552.7" cy="1033.3" rx="6.8" ry="3.3" transform="rotate(54 552.7 1033.3)" fill="rgb(220,220,220)"/>
<ellipse cx="401.2" cy="1084.0" rx="10.5" ry="3.9" transform="rotate(-45 401.2 1084.0)" fill="rgb(58,58,58)"/>
<ellipse cx="503.7" cy="1030.3" rx="5.2" ry="2.6" transform="rotate(-48 503.7 1030.3)" fill="rgb(209,209,209)"/>
<ellipse cx="531.4" cy="1063.9" rx="9.9" ry="3.9" transform="rotate(-72 531.4 1063.9)" fill="rgb(70,70,70)"/>
<ellipse cx="364.6" cy="1053.9" rx="11.9" ry="4.6" transform="rotate(-21 364.6 1053.9)" fill="rgb(226,226,226)"/>
<ellipse cx="390.9" cy="1059.1" rx="9.4" ry="4.1" transform="rotate(-48 390.9 1059.1)" fill="rgb(46,46,46)"/>
<ellipse cx="232.1" cy="1081.9" rx="11.1" ry="5.1" transform="rotate(-34 232.1 1081.9)" fill="rgb(203,203,203)"/>
<ellipse cx="449.6" cy="1041.5" rx="6.5" ry="3.1" transform="rotate(-36 449.6 1041.5)" fill="rgb(87,87,87)"/>
<ellipse cx="298.8" cy="1064.8" rx="11.3" ry="3.6" transform="rotate(-14 298.8 1064.8)" fill="rgb(220,220,220)"/>
<ellipse cx="369.8" cy="1060.9" rx="11.4" ry="5.0" transform="rotate(-53 369.8 1060.9)" fill="rgb(58,58,58)"/>
<ellipse cx="357.2" cy="1031.8" rx="8.7" ry="2.7" transform="rotate(-21 357.2 1031.8)" fill="rgb(209,209,209)"/>
<ellipse cx="294.2" cy="1029.8" rx="5.4" ry="2.2" transform="rotate(-58 294.2 1029.8)" fill="rgb(70,70,70)"/>
<ellipse cx="496.8" cy="1079.1" rx="11.8" ry="3.5" transform="rotate(-74 496.8 1079.1)" fill="rgb(226,226,226)"/>
<ellipse cx="409.7" cy="1076.5" rx="7.4" ry="2.8" transform="rotate(-11 409.7 1076.5)" fill="rgb(46,46,46)"/>
<ellipse cx="639.5" cy="1084.7" rx="9.3" ry="4.4" transform="rotate(-69 639.5 1084.7)" fill="rgb(203,203,203)"/>
<ellipse cx="294.3" cy="1089.2" rx="8.9" ry="3.9" transform="rotate(-17 294.3 1089.2)" fill="rgb(87,87,87)"/>
<ellipse cx="332.8" cy="1039.0" rx="6.5" ry="2.9" transform="rotate(-41 332.8 1039.0)" fill="rgb(220,220,220)"/>
<ellipse cx="334.3" cy="1057.0" rx="7.0" ry="2.1" transform="rotate(50 334.3 1057.0)" fill="rgb(58,58,58)"/>
<ellipse cx="635.1" cy="1049.6" rx="10.9" ry="5.0" transform="rotate(-13 635.1 1049.6)" fill="rgb(209,209,209)"/>
<ellipse cx="647.9" cy="1028.7" rx="5.7" ry="1.7" transform="rotate(-65 647.9 1028.7)" fill="rgb(70,70,70)"/>
<ellipse cx="308.5" cy="1028.0" rx="8.1" ry="2.8" transform="rotate(-63 308.5 1028.0)" fill="rgb(226,226,226)"/>
<ellipse cx="587.9" cy="1068.4" rx="7.8" ry="3.8" transform="rotate(-40 587.9 1068.4)" fill="rgb(46,46,46)"/>
<ellipse cx="351.6" cy="1049.4" rx="10.0" ry="3.6" transform="rotate(-48 351.6 1049.4)" fill="rgb(203,203,203)"/>
<ellipse cx="479.6" cy="1039.7" rx="6.7" ry="3.2" transform="rotate(32 479.6 1039.7)" fill="rgb(87,87,87)"/>
<ellipse cx="618.1" cy="1068.6" rx="6.4" ry="2.6" transform="rotate(-36 618.1 1068.6)" fill="rgb(220,220,220)"/>
<ellipse cx="503.0" cy="1036.1" rx="8.6" ry="2.9" transform="rotate(-11 503.0 1036.1)" fill="rgb(58,58,58)"/>
<ellipse cx="647.1" cy="1029.3" rx="9.2" ry="3.7" transform="rotate(24 647.1 1029.3)" fill="rgb(209,209,209)"/>
<ellipse cx="279.6" cy="1048.0" rx="7.4" ry="3.4" transform="rotate(40 279.6 1048.0)" fill="rgb(70,70,70)"/>
<ellipse cx="618.7" cy="1054.4" rx="6.9" ry="2.6" transform="rotate(-54 618.7 1054.4)" fill="rgb(226,226,226)"/>
<ellipse cx="653.9" cy="1057.3" rx="6.7" ry="2.6" transform="rotate(28 653.9 1057.3)" fill="rgb(46,46,46)"/>
<ellipse cx="391.2" cy="1065.3" rx="11.7" ry="5.3" transform="rotate(-59 391.2 1065.3)" fill="rgb(203,203,203)"/>
<ellipse cx="543.5" cy="1073.3" rx="7.1" ry="2.8" transform="rotate(-16 543.5 1073.3)" fill="rgb(87,87,87)"/>
<ellipse cx="572.3" cy="1070.6" rx="10.7" ry="4.8" transform="rotate(-35 572.3 1070.6)" fill="rgb(220,220,220)"/>
<ellipse cx="292.9" cy="1070.9" rx="7.6" ry="3.0" transform="rotate(25 292.9 1070.9)" fill="rgb(58,58,58)"/>
<ellipse cx="324.1" cy="1081.8" rx="7.0" ry="3.4" transform="rotate(18 324.1 1081.8)" fill="rgb(209,209,209)"/>
<ellipse cx="517.9" cy="1092.6" rx="9.6" ry="4.0" transform="rotate(-47 517.9 1092.6)" fill="rgb(70,70,70)"/>
<ellipse cx="648.6" cy="1025.0" rx="10.0" ry="3.5" transform="rotate(-21 648.6 1025.0)" fill="rgb(226,226,226)"/>
<ellipse cx="418.4" cy="1065.5" rx="12.0" ry="4.2" transform="rotate(26 418.4 1065.5)" fill="rgb(46,46,46)"/>
<ellipse cx="530.1" cy="1031.6" rx="11.8" ry="4.5" transform="rotate(-12 530.1 1031.6)" fill="rgb(203,203,203)"/>
<ellipse cx="442.0" cy="1033.1" rx="7.4" ry="2.1" transform="rotate(-18 442.0 1033.1)" fill="rgb(87,87,87)"/>
<ellipse cx="632.0" cy="1073.3" rx="9.5" ry="3.4" transform="rotate(-55 632.0 1073.3)" fill="rgb(220,220,220)"/>
<ellipse cx="551.7" cy="1080.3" rx="7.7" ry="2.6" transform="rotate(-61 551.7 1080.3)" fill="rgb(58,58,58)"/>
<ellipse cx="696.5" cy="1090.6" rx="7.2" ry="2.2" transform="rotate(-26 696.5 1090.6)" fill="rgb(209,209,209)"/>
<ellipse cx="377.2" cy="1081.5" rx="7.6" ry="2.5" transform="rotate(46 377.2 1081.5)" fill="rgb(70,70,70)"/>
<ellipse cx="427.6" cy="1079.8" rx="7.2" ry="3.2" transform="rotate(-38 427.6 1079.8)" fill="rgb(226,226,226)"/>
<ellipse cx="385.5" cy="1073.2" rx="6.7" ry="3.3" transform="rotate(-26 385.5 1073.2)" fill="rgb(46,46,46)"/>
<ellipse cx="262.4" cy="1029.1" rx="7.3" ry="2.4" transform="rotate(-36 262.4 1029.1)" fill="rgb(203,203,203)"/>
<ellipse cx="623.4" cy="1032.2" rx="9.7" ry="3.0" transform="rotate(53 623.4 1032.2)" fill="rgb(87,87,87)"/>
<ellipse cx="589.3" cy="1049.6" rx="7.4" ry="3.3" transform="rotate(16 589.3 1049.6)" fill="rgb(220,220,220)"/>
<ellipse cx="363.3" cy="1088.8" rx="10.4" ry="3.4" transform="rotate(-72 363.3 1088.8)" fill="rgb(58,58,58)"/>
<ellipse cx="374.2" cy="1087.5" rx="9.0" ry="2.9" transform="rotate(-68 374.2 1087.5)" fill="rgb(209,209,209)"/>
<ellipse cx="428.7" cy="1041.1" rx="5.7" ry="2.3" transform="rotate(-74 428.7 1041.1)" fill="rgb(70,70,70)"/>
<ellipse cx="247.1" cy="1072.8" rx="9.7" ry="2.7" transform="rotate(53 247.1 1072.8)" fill="rgb(226,226,226)"/>
<ellipse cx="232.5" cy="1078.7" rx="5.0" ry="1.6" transform="rotate(-39 232.5 1078.7)" fill="rgb(46,46,46)"/>
<ellipse cx="566.6" cy="1041.5" rx="9.1" ry="4.1" transform="rotate(-64 566.6 1041.5)" fill="rgb(203,203,203)"/>
<ellipse cx="627.1" cy="1024.8" rx="7.1" ry="2.4" transform="rotate(-74 627.1 1024.8)" fill="rgb(87,87,87)"/>
<ellipse cx="230.4" cy="1059.1" rx="10.0" ry="2.9" transform="rotate(-61 230.4 1059.1)" fill="rgb(220,220,220)"/>
<ellipse cx="644.2" cy="1069.8" rx="9.4" ry="3.1" transform="rotate(-11 644.2 1069.8)" fill="rgb(58,58,58)"/>
<ellipse cx="491.0" cy="1074.9" rx="10.3" ry="3.5" transform="rotate(-12 491.0 1074.9)" fill="rgb(209,209,209)"/>
<ellipse cx="589.1" cy="1037.8" rx="8.7" ry="3.1" transform="rotate(-31 589.1 1037.8)" fill="rgb(70,70,70)"/>
<ellipse cx="666.2" cy="1066.7" rx="5.9" ry="2.3" transform="rotate(-45 666.2 1066.7)" fill="rgb(226,226,226)"/>
<ellipse cx="443.2" cy="1056.2" rx="6.7" ry="2.1" transform="rotate(-32 443.2 1056.2)" fill="rgb(46,46,46)"/>
<ellipse cx="315.8" cy="1059.2" rx="11.7" ry="5.8" transform="rotate(36 315.8 1059.2)" fill="rgb(203,203,203)"/>
<ellipse cx="526.5" cy="1060.9" rx="11.2" ry="4.2" transform="rotate(-17 526.5 1060.9)" fill="rgb(87,87,87)"/>
<ellipse cx="342.1" cy="1090.5" rx="11.2" ry="3.8" transform="rotate(-19 342.1 1090.5)" fill="rgb(220,220,220)"/>
<ellipse cx="685.7" cy="1065.2" rx="5.7" ry="2.2" transform="rotate(28 685.7 1065.2)" fill="rgb(58,58,58)"/>
<ellipse cx="561.6" cy="1087.7" rx="8.8" ry="3.1" transform="rotate(-57 561.6 1087.7)" fill="rgb(209,209,209)"/>
<ellipse cx="656.6" cy="1041.2" rx="10.4" ry="4.1" transform="rotate(-16 656.6 1041.2)" fill="rgb(70,70,70)"/>
<ellipse cx="716.0" cy="1046.6" rx="7.4" ry="3.5" transform="rotate(-27 716.0 1046.6)" fill="rgb(226,226,226)"/>
<ellipse cx="382.4" cy="1061.9" rx="7.1" ry="2.1" transform="rotate(-15 382.4 1061.9)" fill="rgb(46,46,46)"/>
<ellipse cx="335.5" cy="1076.2" rx="5.8" ry="2.8" transform="rotate(-60 335.5 1076.2)" fill="rgb(203,203,203)"/>
<ellipse cx="355.5" cy="1072.0" rx="8.6" ry="3.7" transform="rotate(-19 355.5 1072.0)" fill="rgb(87,87,87)"/>
<ellipse cx="330.2" cy="1042.7" rx="8.9" ry="4.0" transform="rotate(-16 330.2 1042.7)" fill="rgb(220,220,220)"/>
<ellipse cx="355.6" cy="1089.0" rx="8.5" ry="3.8" transform="rotate(55 355.6 1089.0)" fill="rgb(58,58,58)"/>
<ellipse cx="637.5" cy="1070.6" rx="7.4" ry="3.3" transform="rotate(-38 637.5 1070.6)" fill="rgb(209,209,209)"/>
<ellipse cx="291.1" cy="1084.5" rx="10.7" ry="5.2" transform="rotate(-53 291.1 1084.5)" fill="rgb(70,70,70)"/>
<ellipse cx="531.8" cy="1089.2" rx="7.6" ry="2.7" transform="rotate(-10 531.8 1089.2)" fill="rgb(226,226,226)"/>
<ellipse cx="548.4" cy="1081.7" rx="8.1" ry="2.4" transform="rotate(34 548.4 1081.7)" fill="rgb(46,46,46)"/>
<ellipse cx="565.6" cy="1046.3" rx="10.7" ry="3.4" transform="rotate(-16 565.6 1046.3)" fill="rgb(203,203,203)"/>
<ellipse cx="608.5" cy="1029.5" rx="11.0" ry="5.4" transform="rotate(22 608.5 1029.5)" fill="rgb(87,87,87)"/>
<ellipse cx="231.9" cy="1055.3" rx="9.5" ry="3.0" transform="rotate(-72 231.9 1055.3)" fill="rgb(220,220,220)"/>
<ellipse cx="276.9" cy="1085.2" rx="9.3" ry="3.2" transform="rotate(-66 276.9 1085.2)" fill="rgb(58,58,58)"/>
<ellipse cx="412.6" cy="1078.9" rx="7.2" ry="2.1" transform="rotate(15 412.6 1078.9)" fill="rgb(209,209,209)"/>
<ellipse cx="542.1" cy="1056.0" rx="8.8" ry="3.9" transform="rotate(-46 542.1 1056.0)" fill="rgb(70,70,70)"/>
<ellipse cx="396.0" cy="1060.3" rx="9.4" ry="3.5" transform="rotate(44 396.0 1060.3)" fill="rgb(226,226,226)"/>
<ellipse cx="579.7" cy="1052.8" rx="7.1" ry="2.9" transform="rotate(-43 579.7 1052.8)" fill="rgb(46,46,46)"/>
<ellipse cx="739.6" cy="1053.4" rx="8.7" ry="4.3" transform="rotate(-27 739.6 1053.4)" fill="rgb(203,203,203)"/>
<ellipse cx="593.4" cy="1087.6" rx="7.7" ry="2.7" transform="rotate(-26 593.4 1087.6)" fill="rgb(87,87,87)"/>
<ellipse cx="542.8" cy="1062.9" rx="5.6" ry="2.2" transform="rotate(-26 542.8 1062.9)" fill="rgb(220,220,220)"/>
<ellipse cx="730.3" cy="1073.6" rx="10.8" ry="3.9" transform="rotate(-32 730.3 1073.6)" fill="rgb(58,58,58)"/>
<ellipse cx="323.8" cy="1059.0" rx="5.4" ry="1.9" transform="rotate(59 323.8 1059.0)" fill="rgb(209,209,209)"/>
<ellipse cx="356.4" cy="1067.7" rx="8.6" ry="2.5" transform="rotate(-32 356.4 1067.7)" fill="rgb(70,70,70)"/>
<ellipse cx="291.3" cy="1083.9" rx="11.4" ry="3.9" transform="rotate(-70 291.3 1083.9)" fill="rgb(226,226,226)"/>
<ellipse cx="270.5" cy="1082.9" rx="9.4" ry="4.7" transform="rotate(-24 270.5 1082.9)" fill="rgb(46,46,46)"/>
<ellipse cx="454.6" cy="1075.2" rx="11.6" ry="3.6" transform="rotate(-73 454.6 1075.2)" fill="rgb(203,203,203)"/>
<ellipse cx="424.2" cy="1051.8" rx="7.1" ry="2.6" transform="rotate(-45 424.2 1051.8)" fill="rgb(87,87,87)"/>
<ellipse cx="385.2" cy="1089.9" rx="6.3" ry="2.8" transform="rotate(-73 385.2 1089.9)" fill="rgb(220,220,220)"/>
<ellipse cx="428.3" cy="1094.2" rx="8.5" ry="2.5" transform="rotate(18 428.3 1094.2)" fill="rgb(58,58,58)"/>
<ellipse cx="501.3" cy="1080.1" rx="5.0" ry="2.5" transform="rotate(-74 501.3 1080.1)" fill="rgb(209,209,209)"/>
<ellipse cx="367.3" cy="1031.2" rx="9.6" ry="3.6" transform="rotate(-37 367.3 1031.2)" fill="rgb(70,70,70)"/>
<ellipse cx="277.2" cy="1046.9" rx="11.6" ry="5.5" transform="rotate(-43 277.2 1046.9)" fill="rgb(226,226,226)"/>
<ellipse cx="644.2" cy="1087.2" rx="5.2" ry="1.9" transform="rotate(48 644.2 1087.2)" fill="rgb(46,46,46)"/>
<ellipse cx="564.2" cy="1073.3" rx="5.4" ry="2.4" transform="rotate(-71 564.2 1073.3)" fill="rgb(203,203,203)"/>
<ellipse cx="300.4" cy="1038.9" rx="7.5" ry="2.5" transform="rotate(-29 300.4 1038.9)" fill="rgb(87,87,87)"/>
<ellipse cx="643.6" cy="1065.2" rx="9.2" ry="3.6" transform="rotate(-28 643.6 1065.2)" fill="rgb(220,220,220)"/>
<ellipse cx="266.4" cy="1076.1" rx="12.0" ry="5.9" transform="rotate(-60 266.4 1076.1)" fill="rgb(58,58,58)"/>
<ellipse cx="706.7" cy="1091.3" rx="5.6" ry="2.2" transform="rotate(-70 706.7 1091.3)" fill="rgb(209,209,209)"/>
<ellipse cx="724.6" cy="1052.5" rx="11.1" ry="3.6" transform="rotate(-61 724.6 1052.5)" fill="rgb(70,70,70)"/>
<ellipse cx="258.2" cy="1069.3" rx="9.1" ry="3.0" transform="rotate(23 258.2 1069.3)" fill="rgb(226,226,226)"/>
<ellipse cx="420.9" cy="1048.3" rx="8.8" ry="4.3" transform="rotate(52 420.9 1048.3)" fill="rgb(46,46,46)"/>
<ellipse cx="666.7" cy="1075.1" rx="6.8" ry="2.7" transform="rotate(-40 666.7 1075.1)" fill="rgb(203,203,203)"/>
<ellipse cx="416.3" cy="1043.8" rx="11.1" ry="4.7" transform="rotate(-43 416.3 1043.8)" fill="rgb(87,87,87)"/>
<ellipse cx="296.1" cy="1058.0" rx="5.3" ry="2.0" transform="rotate(-42 296.1 1058.0)" fill="rgb(220,220,220)"/>
<ellipse cx="553.3" cy="1037.7" rx="5.8" ry="1.8" transform="rotate(-32 553.3 1037.7)" fill="rgb(58,58,58)"/>
<ellipse cx="903.8" cy="1130.4" rx="10.8" ry="3.7" transform="rotate(45 903.8 1130.4)" fill="rgb(224,224,224)"/>
<ellipse cx="947.2" cy="1098.4" rx="5.2" ry="1.9" transform="rotate(-59 947.2 1098.4)" fill="rgb(156,156,156)"/>
<ellipse cx="900.5" cy="1104.5" rx="10.1" ry="4.9" transform="rotate(-10 900.5 1104.5)" fill="rgb(214,214,214)"/>
<ellipse cx="772.4" cy="1100.7" rx="10.3" ry="3.2" transform="rotate(-39 772.4 1100.7)" fill="rgb(145,145,145)"/>
<ellipse cx="1023.8" cy="1088.5" rx="8.2" ry="3.9" transform="rotate(-55 1023.8 1088.5)" fill="rgb(230,230,230)"/>
<ellipse cx="776.0" cy="1108.7" rx="7.8" ry="3.9" transform="rotate(-22 776.0 1108.7)" fill="rgb(110,110,110)"/>
<ellipse cx="993.3" cy="1134.2" rx="5.1" ry="1.8" transform="rotate(-26 993.3 1134.2)" fill="rgb(220,220,220)"/>
<ellipse cx="850.7" cy="1132.2" rx="7.2" ry="3.3" transform="rotate(22 850.7 1132.2)" fill="rgb(93,93,93)"/>
<ellipse cx="913.0" cy="1139.2" rx="8.2" ry="2.9" transform="rotate(-24 913.0 1139.2)" fill="rgb(224,224,224)"/>
<ellipse cx="811.5" cy="1101.1" rx="8.3" ry="3.3" transform="rotate(-32 811.5 1101.1)" fill="rgb(156,156,156)"/>
<ellipse cx="1014.4" cy="1096.7" rx="7.0" ry="3.4" transform="rotate(-57 1014.4 1096.7)" fill="rgb(214,214,214)"/>
<ellipse cx="758.9" cy="1093.4" rx="7.1" ry="2.7" transform="rotate(-34 758.9 1093.4)" fill="rgb(145,145,145)"/>
<ellipse cx="962.0" cy="1109.3" rx="5.5" ry="2.7" transform="rotate(11 962.0 1109.3)" fill="rgb(230,230,230)"/>
<ellipse cx="916.5" cy="1125.4" rx="7.4" ry="3.3" transform="rotate(40 916.5 1125.4)" fill="rgb(110,110,110)"/>
<ellipse cx="869.7" cy="1095.1" rx="6.5" ry="2.0" transform="rotate(-61 869.7 1095.1)" fill="rgb(220,220,220)"/>
<ellipse cx="996.4" cy="1112.9" rx="9.8" ry="4.7" transform="rotate(12 996.4 1112.9)" fill="rgb(93,93,93)"/>
<ellipse cx="1014.2" cy="1084.6" rx="9.6" ry="4.5" transform="rotate(-49 1014.2 1084.6)" fill="rgb(224,224,224)"/>
<ellipse cx="786.8" cy="1065.5" rx="8.8" ry="2.9" transform="rotate(-58 786.8 1065.5)" fill="rgb(156,156,156)"/>
<ellipse cx="808.0" cy="1083.3" rx="9.3" ry="3.6" transform="rotate(-43 808.0 1083.3)" fill="rgb(214,214,214)"/>
<ellipse cx="914.4" cy="1116.3" rx="7.7" ry="3.8" transform="rotate(21 914.4 1116.3)" fill="rgb(145,145,145)"/>
<ellipse cx="852.2" cy="1090.8" rx="7.2" ry="2.1" transform="rotate(-38 852.2 1090.8)" fill="rgb(230,230,230)"/>
<ellipse cx="874.9" cy="1132.1" rx="7.0" ry="2.8" transform="rotate(38 874.9 1132.1)" fill="rgb(110,110,110)"/>
<ellipse cx="932.1" cy="1110.3" rx="11.0" ry="4.9" transform="rotate(-52 932.1 1110.3)" fill="rgb(220,220,220)"/>
<ellipse cx="925.2" cy="1117.5" rx="8.1" ry="2.6" transform="rotate(-29 925.2 1117.5)" fill="rgb(93,93,93)"/>
<ellipse cx="973.8" cy="1113.8" rx="7.7" ry="3.0" transform="rotate(-44 973.8 1113.8)" fill="rgb(224,224,224)"/>
<ellipse cx="766.9" cy="1069.2" rx="10.9" ry="5.0" transform="rotate(-26 766.9 1069.2)" fill="rgb(156,156,156)"/>
<ellipse cx="821.6" cy="1085.8" rx="8.1" ry="3.5" transform="rotate(-44 821.6 1085.8)" fill="rgb(214,214,214)"/>
<ellipse cx="1015.2" cy="1112.2" rx="11.0" ry="3.3" transform="rotate(52 1015.2 1112.2)" fill="rgb(145,145,145)"/>
<ellipse cx="766.7" cy="1084.0" rx="9.6" ry="3.1" transform="rotate(-20 766.7 1084.0)" fill="rgb(230,230,230)"/>
<ellipse cx="981.6" cy="1110.7" rx="5.4" ry="2.1" transform="rotate(-40 981.6 1110.7)" fill="rgb(110,110,110)"/>
<ellipse cx="836.4" cy="1094.6" rx="8.3" ry="3.8" transform="rotate(30 836.4 1094.6)" fill="rgb(220,220,220)"/>
<ellipse cx="758.3" cy="1093.1" rx="7.0" ry="3.1" transform="rotate(12 758.3 1093.1)" fill="rgb(93,93,93)"/>
<ellipse cx="962.2" cy="1107.9" rx="6.9" ry="2.4" transform="rotate(-59 962.2 1107.9)" fill="rgb(224,224,224)"/>
<ellipse cx="898.6" cy="1102.5" rx="5.7" ry="1.9" transform="rotate(-55 898.6 1102.5)" fill="rgb(156,156,156)"/>
<ellipse cx="817.1" cy="1089.8" rx="6.3" ry="3.1" transform="rotate(18 817.1 1089.8)" fill="rgb(214,214,214)"/>
<ellipse cx="841.8" cy="1101.1" rx="8.2" ry="3.0" transform="rotate(-26 841.8 1101.1)" fill="rgb(145,145,145)"/>
<ellipse cx="801.5" cy="1095.7" rx="6.0" ry="2.4" transform="rotate(-23 801.5 1095.7)" fill="rgb(230,230,230)"/>
<ellipse cx="1012.6" cy="1131.3" rx="7.4" ry="3.1" transform="rotate(-29 1012.6 1131.3)" fill="rgb(110,110,110)"/>
<ellipse cx="977.2" cy="1111.8" rx="6.9" ry="3.1" transform="rotate(50 977.2 1111.8)" fill="rgb(220,220,220)"/>
<ellipse cx="843.3" cy="1091.0" rx="6.5" ry="2.1" transform="rotate(-67 843.3 1091.0)" fill="rgb(93,93,93)"/>
<ellipse cx="897.4" cy="1110.1" rx="10.3" ry="3.8" transform="rotate(-14 897.4 1110.1)" fill="rgb(224,224,224)"/>
<ellipse cx="782.4" cy="1078.0" rx="9.6" ry="3.4" transform="rotate(47 782.4 1078.0)" fill="rgb(156,156,156)"/>
<ellipse cx="839.4" cy="1123.6" rx="10.5" ry="4.1" transform="rotate(-68 839.4 1123.6)" fill="rgb(214,214,214)"/>
<ellipse cx="994.1" cy="1132.3" rx="8.9" ry="4.0" transform="rotate(22 994.1 1132.3)" fill="rgb(145,145,145)"/>
<ellipse cx="813.2" cy="1115.9" rx="10.0" ry="3.8" transform="rotate(-70 813.2 1115.9)" fill="rgb(230,230,230)"/>
<ellipse cx="869.6" cy="1132.3" rx="6.2" ry="2.2" transform="rotate(-38 869.6 1132.3)" fill="rgb(110,110,110)"/>
<ellipse cx="773.9" cy="1093.7" rx="8.0" ry="3.0" transform="rotate(-55 773.9 1093.7)" fill="rgb(220,220,220)"/>
<ellipse cx="1015.7" cy="1129.7" rx="9.5" ry="3.1" transform="rotate(-51 1015.7 1129.7)" fill="rgb(93,93,93)"/>
<ellipse cx="1011.0" cy="1131.0" rx="6.4" ry="2.7" transform="rotate(-45 1011.0 1131.0)" fill="rgb(224,224,224)"/>
<ellipse cx="811.1" cy="1107.4" rx="9.7" ry="4.7" transform="rotate(-46 811.1 1107.4)" fill="rgb(156,156,156)"/>
<ellipse cx="942.8" cy="1099.0" rx="10.3" ry="4.6" transform="rotate(-49 942.8 1099.0)" fill="rgb(214,214,214)"/>
<ellipse cx="893.3" cy="1131.7" rx="9.2" ry="3.0" transform="rotate(56 893.3 1131.7)" fill="rgb(145,145,145)"/>
<ellipse cx="1000.3" cy="1109.5" rx="7.8" ry="2.9" transform="rotate(34 1000.3 1109.5)" fill="rgb(230,230,230)"/>
<ellipse cx="1024.7" cy="1086.9" rx="5.2" ry="2.0" transform="rotate(-58 1024.7 1086.9)" fill="rgb(110,110,110)"/>
<ellipse cx="775.5" cy="1064.3" rx="7.6" ry="2.3" transform="rotate(-35 775.5 1064.3)" fill="rgb(220,220,220)"/>
<ellipse cx="834.4" cy="1092.1" rx="7.3" ry="2.5" transform="rotate(-25 834.4 1092.1)" fill="rgb(93,93,93)"/>
<ellipse cx="768.0" cy="1084.4" rx="8.2" ry="4.0" transform="rotate(-57 768.0 1084.4)" fill="rgb(224,224,224)"/>
<ellipse cx="930.2" cy="1138.0" rx="10.7" ry="4.8" transform="rotate(-51 930.2 1138.0)" fill="rgb(156,156,156)"/>
<ellipse cx="893.9" cy="1104.5" rx="9.6" ry="3.7" transform="rotate(10 893.9 1104.5)" fill="rgb(214,214,214)"/>
<ellipse cx="981.6" cy="1093.9" rx="8.1" ry="2.5" transform="rotate(-35 981.6 1093.9)" fill="rgb(145,145,145)"/>
<ellipse cx="1353.3" cy="1074.9" rx="7.0" ry="2.3" transform="rotate(-43 1353.3 1074.9)" fill="rgb(64,64,64)"/>
<ellipse cx="1397.7" cy="1071.9" rx="6.6" ry="2.2" transform="rotate(-54 1397.7 1071.9)" fill="rgb(185,185,185)"/>
<ellipse cx="1420.9" cy="1097.1" rx="10.2" ry="5.0" transform="rotate(-60 1420.9 1097.1)" fill="rgb(58,58,58)"/>
<ellipse cx="1431.9" cy="1086.5" rx="6.2" ry="2.7" transform="rotate(52 1431.9 1086.5)" fill="rgb(197,197,197)"/>
<ellipse cx="1362.8" cy="1054.7" rx="5.0" ry="2.5" transform="rotate(-28 1362.8 1054.7)" fill="rgb(75,75,75)"/>
<ellipse cx="1404.1" cy="1081.6" rx="8.2" ry="3.8" transform="rotate(-55 1404.1 1081.6)" fill="rgb(52,52,52)"/>
<ellipse cx="1346.4" cy="1062.1" rx="10.5" ry="3.3" transform="rotate(-34 1346.4 1062.1)" fill="rgb(64,64,64)"/>
<ellipse cx="1356.1" cy="1047.6" rx="9.1" ry="3.4" transform="rotate(-44 1356.1 1047.6)" fill="rgb(185,185,185)"/>
<ellipse cx="1341.6" cy="1075.0" rx="8.5" ry="3.4" transform="rotate(-22 1341.6 1075.0)" fill="rgb(58,58,58)"/>
<ellipse cx="1444.8" cy="1087.4" rx="5.5" ry="1.7" transform="rotate(-70 1444.8 1087.4)" fill="rgb(197,197,197)"/>
<ellipse cx="1420.2" cy="1082.0" rx="6.2" ry="3.0" transform="rotate(-24 1420.2 1082.0)" fill="rgb(75,75,75)"/>
<ellipse cx="1442.2" cy="1095.2" rx="8.2" ry="4.1" transform="rotate(-30 1442.2 1095.2)" fill="rgb(52,52,52)"/>
<ellipse cx="1454.1" cy="1085.3" rx="9.9" ry="3.2" transform="rotate(-57 1454.1 1085.3)" fill="rgb(64,64,64)"/>
<ellipse cx="1383.0" cy="1083.8" rx="5.9" ry="2.1" transform="rotate(25 1383.0 1083.8)" fill="rgb(185,185,185)"/>
<ellipse cx="1341.4" cy="1092.8" rx="8.2" ry="2.3" transform="rotate(-66 1341.4 1092.8)" fill="rgb(58,58,58)"/>
<ellipse cx="1349.8" cy="1078.9" rx="8.9" ry="3.3" transform="rotate(-39 1349.8 1078.9)" fill="rgb(197,197,197)"/>
<ellipse cx="1399.3" cy="1050.4" rx="9.6" ry="4.3" transform="rotate(-49 1399.3 1050.4)" fill="rgb(75,75,75)"/>
<ellipse cx="1415.8" cy="1076.7" rx="7.5" ry="3.5" transform="rotate(18 1415.8 1076.7)" fill="rgb(52,52,52)"/>
<ellipse cx="1350.5" cy="1081.9" rx="10.7" ry="4.7" transform="rotate(-71 1350.5 1081.9)" fill="rgb(64,64,64)"/>
<ellipse cx="1440.4" cy="1110.1" rx="9.6" ry="4.2" transform="rotate(36 1440.4 1110.1)" fill="rgb(185,185,185)"/>
<ellipse cx="1463.2" cy="1074.0" rx="5.5" ry="2.5" transform="rotate(-23 1463.2 1074.0)" fill="rgb(58,58,58)"/>
<ellipse cx="1350.8" cy="1052.2" rx="8.5" ry="2.5" transform="rotate(-36 1350.8 1052.2)" fill="rgb(197,197,197)"/>
<ellipse cx="1458.4" cy="1101.0" rx="7.4" ry="2.7" transform="rotate(-27 1458.4 1101.0)" fill="rgb(75,75,75)"/>
<ellipse cx="1475.5" cy="1061.2" rx="10.6" ry="4.8" transform="rotate(-58 1475.5 1061.2)" fill="rgb(52,52,52)"/>
</g>
</g>
<g filter="url(#iceblur)" fill="#f7fafb">
<polygon points="400,336 455,324 500,308 540,298 572,293 584,286 540,283 500,289 470,299 436,315 425,300 600,232 1800,236 1880,290 1866,286 1845,283 1822,293 1806,302 1794,290 1768,273 1722,268 1700,275 1686,291 1678,316 1662,333 1636,347 1614,357 1600,352 1600,330 1566,336 1545,345 1528,356 1519,372 1522,388 1535,403 1556,418 1572,432 1576,440 1560,442 1530,420 1500,400 1480,395 1300,345 1100,345 1045,352 1040,358 1037,384 1027,389 1000,385 969,378 962,362 930,350 900,340 800,330 700,322 600,314 520,318"/>
<polygon points="1355,350 1480,345 1485,400 1472,448 1432,448 1398,412 1360,398"/>
<polygon points="729,421 745,405 766,395 824,384 860,376 900,368 900,380 838,397 824,400 790,409 768,412 764,422 762,440 764,470 746,480 738,445"/>
<polygon points="1534,1207 1563,1220 1588,1235 1601,1247 1596,1264 1563,1275 1534,1284 1515,1282 1478,1270 1490,1249 1505,1225 1515,1213"/>
<polygon points="666,1222 760,1222 860,1226 920,1236 920,1252 666,1240"/>
<polygon points="1017,1258 1080,1250 1139,1256 1139,1285 1017,1285"/>
</g>
<path d="M526.2,1241.7 L531.1,1240.6 L536.0,1239.4 L537.8,1234.3 L541.4,1232.0 L545.0,1229.7 L551.0,1227.4 L557.0,1225.0 L566.2,1225.3 L575.4,1225.6 L582.6,1224.2 L589.8,1222.7 L597.1,1221.2 L604.4,1219.8 L613.1,1219.5 L621.7,1219.2 L632.5,1220.9 L643.3,1222.7 L652.8,1223.3 L662.2,1223.9 L669.1,1221.8 L676.1,1219.8 L687.8,1222.7 L699.4,1225.6 L707.5,1224.7 L715.6,1223.9 L723.9,1223.3 L732.3,1222.7 L742.5,1224.2 L752.6,1225.6 L759.8,1223.6 L767.0,1221.5 L776.4,1222.1 L785.8,1222.7 L795.6,1223.9 L805.3,1225.0 L814.8,1225.9 L824.3,1226.8 L835.8,1230.5 L847.1,1234.3 L856.0,1234.6 L864.9,1234.9 L875.1,1237.1 L885.2,1239.4 L895.8,1242.5 L906.3,1245.6 L915.5,1246.7 L924.7,1247.9 L934.1,1249.5 L943.5,1251.2 L951.0,1253.4 L949.0,1260.5 L945.4,1264.5 L942.0,1268.5 L937.8,1273.8 L941.9,1281.5 L948.4,1283.6 L954.8,1285.6 L962.5,1285.6 L970.1,1285.6 L976.9,1286.0 L983.6,1286.5 L990.3,1287.0 L996.8,1287.2 L1003.3,1287.4 L1009.7,1287.5 L1017.5,1287.8 L1025.3,1288.1 L1033.0,1288.4 L1040.8,1288.7 L1048.5,1289.0 L1055.0,1288.7 L1061.5,1288.5 L1068.1,1288.3 L1074.6,1288.0 L1080.2,1286.2 L1085.9,1284.4 L1091.7,1282.5 L1098.0,1282.2 L1104.4,1281.9 L1110.7,1281.5 L1116.8,1279.8 L1122.9,1278.1 L1129.0,1276.4 L1135.4,1275.2 L1141.8,1274.0 L1148.2,1272.7 L1156.0,1271.7 L1163.9,1270.6 L1171.9,1269.6 L1178.9,1269.1 L1185.9,1268.5 L1192.9,1268.0 L1200.0,1267.5 L1206.8,1266.4 L1213.5,1265.3 L1220.4,1264.3 L1227.5,1264.7 L1234.6,1265.1 L1241.7,1265.5 L1248.7,1265.9 L1255.4,1266.4 L1262.1,1266.9 L1268.7,1267.5 L1275.2,1268.7 L1281.6,1269.9 L1288.0,1271.2 L1294.8,1270.8 L1301.6,1270.5 L1308.4,1270.1 L1318.5,1263.2 L1316.7,1255.0 L1323.7,1255.0 L1330.6,1255.0 L1337.6,1255.0 L1344.0,1256.5 L1350.4,1258.0 L1356.8,1259.4 L1364.8,1259.9 L1372.8,1260.5 L1380.8,1261.0 L1388.8,1261.6 L1396.7,1262.1 L1403.8,1261.6 L1410.9,1261.0 L1418.1,1260.5 L1425.0,1259.1 L1431.9,1257.8 L1444.8,1249.5 L1453.4,1245.3 L1462.1,1241.1 L1473.2,1232.6 L1482.2,1223.9 L1490.1,1219.5 L1498.1,1215.0 L1505.3,1212.1 L1512.6,1209.1 L1520.6,1207.0 L1528.6,1204.9 L1537.5,1205.5 L1527.5,1210.9 L1520.2,1213.8 L1512.9,1216.8 L1502.2,1223.9 L1490.7,1232.6 L1490.0,1241.1 L1489.1,1249.5 L1487.9,1257.8 L1480.1,1265.9 L1472.1,1271.2 L1478.5,1273.3 L1484.7,1275.4 L1490.8,1277.4 L1496.8,1279.5 L1502.7,1281.5 L1509.1,1282.9 L1515.5,1284.2 L1521.8,1285.6 L1529.1,1285.9 L1536.4,1286.2 L1543.6,1286.5 L1550.4,1286.2 L1557.2,1285.9 L1563.9,1285.6 L1572.7,1283.6 L1581.6,1281.5 L1590.5,1279.5 L1600.9,1277.4 L1611.2,1275.4 L1623.3,1272.0 L1635.3,1268.5 L1648.1,1264.5 L1660.8,1260.5 L1672.2,1257.8 L1683.5,1255.0 L1694.4,1252.8 L1705.2,1250.6 L1715.2,1249.3 L1725.3,1247.9 L1735.4,1246.5 L1745.5,1245.1 L1754.7,1244.5 L1763.9,1243.9 L1772.4,1243.9 L1780.9,1243.9 L1789.5,1243.9 L1798.0,1243.9 L1807.3,1243.4 L1816.6,1242.8 L1825.1,1242.8 L1833.7,1242.8 L1840.8,1243.9 L1847.8,1245.1 L1857.1,1244.5 L1866.4,1243.9 L1876.9,1242.5 L1887.5,1241.1 L1898.9,1239.1 L1910.4,1237.1 L1916.2,1239.1 L1921.9,1241.1 L1936.4,1237.1 L1949.3,1234.3 L1962.3,1231.4 L1974.5,1229.1 L1986.8,1226.8 L2000.0,1223.9 L1982.8,1235.2 L1965.1,1246.3 L1946.7,1257.1 L1927.3,1267.6 L1906.4,1277.9 L1884.5,1287.8 L1862.5,1297.0 L1841.2,1305.5 L1820.9,1313.0 L1802.0,1319.5 L1784.7,1324.9 L1769.5,1329.0 L1763.1,1329.0 L1756.8,1329.0 L1750.5,1329.0 L1744.1,1329.0 L1737.8,1329.0 L1731.5,1329.0 L1725.2,1329.0 L1718.8,1329.0 L1712.5,1329.0 L1706.2,1329.0 L1699.9,1329.0 L1693.5,1329.0 L1687.2,1329.0 L1680.9,1329.0 L1674.5,1329.0 L1668.2,1329.0 L1661.9,1329.0 L1655.6,1329.0 L1649.2,1329.0 L1642.9,1329.0 L1636.6,1329.0 L1630.3,1329.0 L1623.9,1329.0 L1617.6,1329.0 L1611.3,1329.0 L1604.9,1329.0 L1598.6,1329.0 L1592.3,1329.0 L1586.0,1329.0 L1579.6,1329.0 L1573.3,1329.0 L1567.0,1329.0 L1560.7,1329.0 L1554.3,1329.0 L1548.0,1329.0 L1541.7,1329.0 L1535.3,1329.0 L1529.0,1329.0 L1522.7,1329.0 L1516.4,1329.0 L1510.0,1329.0 L1503.7,1329.0 L1497.4,1329.0 L1491.1,1329.0 L1484.7,1329.0 L1478.4,1329.0 L1472.1,1329.0 L1465.7,1329.0 L1459.4,1329.0 L1453.1,1329.0 L1446.8,1329.0 L1440.4,1329.0 L1434.1,1329.0 L1427.8,1329.0 L1421.5,1329.0 L1415.1,1329.0 L1408.8,1329.0 L1402.5,1329.0 L1396.1,1329.0 L1389.8,1329.0 L1383.5,1329.0 L1377.2,1329.0 L1370.8,1329.0 L1364.5,1329.0 L1358.2,1329.0 L1351.9,1329.0 L1345.5,1329.0 L1339.2,1329.0 L1332.9,1329.0 L1326.5,1329.0 L1320.2,1329.0 L1313.9,1329.0 L1307.6,1329.0 L1301.2,1329.0 L1294.9,1329.0 L1288.6,1329.0 L1282.3,1329.0 L1275.9,1329.0 L1269.6,1329.0 L1263.3,1329.0 L1256.9,1329.0 L1250.6,1329.0 L1244.3,1329.0 L1238.0,1329.0 L1231.6,1329.0 L1225.3,1329.0 L1219.0,1329.0 L1212.7,1329.0 L1206.3,1329.0 L1200.0,1329.0 L1193.7,1329.0 L1187.3,1329.0 L1181.0,1329.0 L1174.7,1329.0 L1168.4,1329.0 L1162.0,1329.0 L1155.7,1329.0 L1149.4,1329.0 L1143.1,1329.0 L1136.7,1329.0 L1130.4,1329.0 L1124.1,1329.0 L1117.7,1329.0 L1111.4,1329.0 L1105.1,1329.0 L1098.8,1329.0 L1092.4,1329.0 L1086.1,1329.0 L1079.8,1329.0 L1073.5,1329.0 L1067.1,1329.0 L1060.8,1329.0 L1054.5,1329.0 L1048.1,1329.0 L1041.8,1329.0 L1035.5,1329.0 L1029.2,1329.0 L1022.8,1329.0 L1016.5,1329.0 L1010.2,1329.0 L1003.9,1329.0 L997.5,1329.0 L991.2,1329.0 L984.9,1329.0 L978.5,1329.0 L972.2,1329.0 L965.9,1329.0 L959.6,1329.0 L953.2,1329.0 L946.9,1329.0 L940.6,1329.0 L934.3,1329.0 L927.9,1329.0 L921.6,1329.0 L915.3,1329.0 L908.9,1329.0 L902.6,1329.0 L896.3,1329.0 L890.0,1329.0 L883.6,1329.0 L877.3,1329.0 L871.0,1329.0 L864.7,1329.0 L858.3,1329.0 L852.0,1329.0 L845.7,1329.0 L839.3,1329.0 L833.0,1329.0 L826.7,1329.0 L820.4,1329.0 L814.0,1329.0 L807.7,1329.0 L801.4,1329.0 L795.1,1329.0 L788.7,1329.0 L782.4,1329.0 L776.1,1329.0 L769.7,1329.0 L763.4,1329.0 L757.1,1329.0 L750.8,1329.0 L744.4,1329.0 L738.1,1329.0 L731.8,1329.0 L725.5,1329.0 L719.1,1329.0 L712.8,1329.0 L706.5,1329.0 L700.1,1329.0 L693.8,1329.0 L687.5,1329.0 L681.2,1329.0 L674.8,1329.0 L668.5,1329.0 L662.2,1329.0 L655.9,1329.0 L649.5,1329.0 L643.2,1329.0 L636.9,1329.0 L630.5,1329.0 L615.3,1324.9 L598.0,1319.5 L579.1,1313.0 L558.8,1305.5 L537.5,1297.0 L515.5,1287.8 L493.6,1277.9 L472.7,1267.6 L453.3,1257.1 L434.9,1246.3 L417.2,1235.2 L400.0,1223.9 L404.6,1220.9 L413.6,1220.9 L422.5,1220.9 L433.4,1223.9 L444.2,1226.8 L452.8,1228.2 L461.5,1229.7 L470.7,1230.0 L479.9,1230.3 L487.3,1230.8 L494.6,1231.4 L506.1,1236.6 L516.2,1239.1 L526.2,1241.7Z M362.6,1115.3 L371.0,1115.3 L373.8,1119.2 L366.0,1118.6 L362.6,1115.3Z M138.3,874.2 L139.9,876.5 L144.4,890.0 L142.9,896.2 L140.4,885.2 L138.3,874.2Z M551.8,848.9 L553.9,853.6 L546.2,852.9 L542.9,849.5 L551.8,848.9Z M581.0,844.1 L591.0,842.1 L587.2,847.5 L578.7,852.2 L573.0,855.6 L570.0,854.9 L575.3,847.5 L581.0,844.1Z M551.5,845.5 L542.6,844.8 L530.8,846.2 L521.8,844.8 L515.6,840.8 L524.6,841.4 L533.4,840.8 L542.3,841.4 L548.3,841.4 L557.2,842.8 L566.0,840.8 L565.1,844.8 L558.3,845.1 L551.5,845.5Z M482.8,837.4 L475.3,836.4 L467.8,835.4 L459.9,831.3 L467.2,825.9 L479.3,830.0 L485.8,829.3 L492.3,828.6 L503.8,832.0 L515.4,837.4 L515.3,844.1 L508.1,842.8 L500.9,841.4 L491.8,839.4 L482.8,837.4Z M582.2,807.1 L589.3,807.1 L589.5,811.1 L583.5,811.1 L582.2,807.1Z M594.2,809.1 L594.1,805.7 L601.5,805.7 L608.9,805.7 L610.8,810.4 L600.1,809.1 L594.2,809.1Z M565.8,790.9 L563.0,797.6 L555.2,797.6 L560.3,807.7 L564.7,815.8 L561.4,821.9 L556.4,817.2 L552.0,809.1 L548.9,805.7 L549.2,814.1 L549.6,822.6 L544.2,822.6 L543.1,809.1 L539.4,804.4 L543.2,792.2 L544.3,786.8 L544.4,780.8 L551.0,776.7 L558.4,778.1 L565.8,779.4 L576.0,774.7 L572.9,782.8 L561.0,782.1 L552.1,782.8 L547.4,790.9 L555.1,791.6 L565.8,790.9Z M463.4,807.1 L463.2,815.8 L463.0,824.6 L455.3,823.9 L449.0,818.5 L441.6,812.5 L435.4,803.7 L430.4,795.6 L424.3,787.5 L420.2,777.4 L412.7,768.7 L404.2,759.9 L400.6,747.8 L407.1,749.1 L413.5,750.5 L420.2,759.9 L430.5,770.0 L436.4,773.4 L445.1,782.1 L449.3,792.2 L454.2,799.0 L463.4,807.1Z M593.9,770.7 L598.0,776.7 L594.9,782.1 L596.7,788.9 L592.5,787.5 L591.4,780.1 L590.9,773.4 L593.9,770.7Z M533.8,743.0 L542.3,750.5 L535.0,756.5 L532.9,765.3 L534.5,772.0 L540.3,778.8 L533.1,782.1 L531.4,792.2 L525.6,799.0 L525.3,809.1 L523.0,812.5 L514.7,812.5 L508.0,807.7 L497.9,808.4 L488.3,805.0 L486.8,795.6 L480.7,787.5 L480.9,775.4 L484.5,772.0 L494.0,775.4 L494.7,768.7 L505.0,763.3 L511.3,755.2 L520.5,748.4 L528.1,738.3 L533.8,743.0Z M579.3,747.1 L574.1,743.7 L571.4,738.3 L567.5,735.0 L559.6,738.3 L562.9,731.6 L569.1,727.5 L576.2,727.5 L581.5,720.1 L585.8,726.2 L586.4,735.0 L584.9,741.7 L580.8,741.0 L579.3,747.1Z M321.2,738.3 L316.0,743.7 L311.2,745.1 L309.3,738.3 L310.1,729.6 L312.3,719.5 L319.1,728.2 L321.2,738.3Z M541.7,714.7 L545.8,708.7 L546.6,712.7 L539.9,722.8 L531.7,728.9 L534.5,722.8 L541.7,714.7Z M143.9,705.3 L141.9,714.7 L137.2,723.5 L133.6,729.2 L134.9,717.9 L136.6,706.6 L139.8,705.3 L143.9,705.3Z M562.0,706.0 L568.3,708.0 L570.3,712.7 L572.9,716.8 L568.9,722.8 L564.2,721.5 L564.2,714.7 L561.2,714.7 L562.0,706.0Z M580.0,716.8 L577.6,716.8 L576.5,709.3 L576.1,701.3 L582.0,701.3 L583.5,710.0 L580.0,716.8Z M559.6,695.2 L559.5,701.9 L556.4,703.3 L553.7,695.2 L559.6,695.2Z M571.7,697.9 L568.0,693.8 L561.6,693.2 L555.8,692.5 L556.4,687.1 L553.1,681.0 L555.8,674.3 L557.4,667.6 L559.0,660.8 L569.0,660.8 L567.9,672.3 L562.7,679.7 L561.6,687.8 L566.7,689.8 L572.4,691.8 L575.1,699.2 L571.7,697.9Z M504.8,652.7 L499.3,660.8 L493.1,662.8 L489.5,660.1 L490.8,656.1 L499.5,650.0 L504.8,652.7Z M183.6,621.1 L190.7,613.6 L197.5,608.9 L196.5,613.6 L196.0,620.4 L199.7,625.1 L206.7,627.1 L210.6,633.9 L205.9,640.6 L199.5,647.3 L194.3,649.4 L193.4,655.4 L187.9,658.8 L180.5,664.9 L173.3,670.3 L163.9,673.0 L155.0,678.3 L147.0,682.4 L140.6,685.1 L143.6,671.8 L147.0,658.6 L150.5,645.3 L154.2,632.1 L158.3,618.8 L163.1,605.6 L161.8,613.6 L163.5,617.0 L168.5,609.6 L170.0,611.6 L166.7,619.7 L167.1,623.8 L174.3,623.1 L183.6,621.1Z M564.6,637.2 L561.7,630.5 L564.4,622.4 L569.8,615.7 L575.3,617.0 L570.5,627.1 L564.6,637.2Z M496.4,336.7 L501.8,329.9 L507.0,324.3 L518.4,318.7 L539.6,310.5 L541.3,312.4 L543.1,314.3 L529.9,324.3 L515.0,332.7 L505.5,341.3 L491.1,347.1 L503.9,342.5 L519.7,335.6 L523.2,329.9 L536.5,321.5 L550.2,311.6 L558.5,311.6 L546.0,317.1 L551.9,318.7 L560.4,316.5 L568.8,314.3 L574.0,314.3 L579.2,314.3 L589.0,307.8 L594.9,307.3 L600.8,306.7 L608.3,306.5 L615.9,306.2 L627.7,299.8 L635.8,298.5 L643.9,297.2 L651.9,296.3 L659.9,295.5 L667.8,294.6 L676.0,293.6 L684.2,292.5 L692.3,291.5 L700.8,289.6 L709.3,287.8 L717.7,285.9 L721.1,287.7 L724.6,289.5 L729.9,290.5 L735.3,291.5 L735.3,297.2 L721.0,305.1 L723.2,308.4 L729.3,307.5 L735.3,306.7 L741.3,308.6 L747.4,310.5 L755.2,309.6 L763.0,308.7 L770.8,307.8 L774.5,312.1 L779.0,316.0 L777.9,321.5 L787.4,320.4 L794.7,319.3 L802.0,318.2 L808.0,318.4 L814.1,318.7 L827.7,312.7 L833.7,313.0 L839.7,313.2 L847.5,313.8 L855.3,314.3 L860.1,316.2 L864.8,318.2 L869.9,319.8 L875.0,321.5 L883.5,321.5 L891.9,321.5 L896.5,323.4 L901.2,325.4 L903.9,329.3 L910.5,329.0 L917.1,328.7 L923.5,328.7 L929.9,328.7 L936.8,327.9 L943.7,327.1 L942.8,332.7 L949.4,330.4 L955.9,328.2 L962.4,328.2 L968.8,328.2 L974.2,330.4 L979.6,332.7 L984.4,334.1 L989.2,335.6 L993.5,338.4 L997.8,341.3 L1002.9,342.5 L1007.9,343.6 L1015.6,347.1 L1022.4,349.5 L1012.6,356.0 L1004.4,360.1 L999.1,358.9 L993.9,357.8 L991.1,353.0 L985.3,353.6 L979.4,354.2 L971.8,356.3 L964.2,358.3 L967.3,361.9 L966.7,369.1 L956.8,371.0 L950.1,373.1 L943.4,375.2 L936.5,377.6 L929.6,380.1 L917.5,386.2 L911.8,383.2 L905.5,384.1 L899.1,385.0 L888.5,387.5 L877.5,395.5 L876.0,401.8 L868.4,410.0 L862.5,417.6 L853.6,420.8 L844.3,430.4 L833.4,438.1 L824.5,443.3 L826.1,431.7 L829.7,420.8 L834.3,411.3 L841.4,404.9 L849.4,398.7 L862.2,392.4 L872.4,386.2 L880.0,381.6 L887.4,377.0 L896.5,371.0 L891.3,372.2 L880.3,380.1 L869.3,383.2 L874.2,378.3 L866.4,375.2 L854.4,380.1 L845.0,388.7 L836.8,390.6 L826.2,392.4 L818.8,388.7 L810.9,390.0 L804.9,390.0 L799.0,390.0 L792.8,390.3 L786.7,390.6 L777.5,393.7 L766.4,399.9 L752.8,406.2 L741.5,412.5 L729.8,419.5 L736.6,418.9 L737.1,424.0 L747.8,422.7 L752.1,428.5 L750.8,433.6 L742.1,443.3 L735.6,453.1 L726.8,462.9 L716.5,471.5 L704.4,480.7 L693.6,489.4 L679.3,497.3 L672.4,494.7 L661.6,500.7 L653.9,509.3 L644.8,514.0 L637.1,519.4 L639.8,526.1 L641.7,532.8 L640.3,539.5 L634.5,548.3 L624.9,551.6 L617.7,553.0 L621.2,546.3 L623.6,539.5 L626.7,532.8 L618.6,530.8 L621.6,526.1 L623.3,519.4 L620.9,516.0 L609.6,519.4 L601.5,522.7 L609.9,512.7 L605.3,510.7 L594.0,517.4 L586.7,521.4 L581.7,524.1 L583.2,529.4 L584.0,534.1 L593.5,531.5 L598.4,532.8 L602.9,535.5 L596.6,537.5 L587.8,542.9 L579.7,549.6 L582.8,556.4 L582.8,564.4 L586.3,571.2 L585.1,576.6 L581.2,582.0 L581.2,588.0 L576.5,594.8 L570.2,601.5 L564.5,608.3 L558.4,615.0 L551.4,621.1 L543.0,628.5 L534.8,631.8 L527.3,634.5 L520.7,635.9 L511.9,639.3 L503.7,642.6 L500.9,648.7 L498.9,646.7 L498.4,639.9 L491.4,639.9 L486.2,642.6 L480.0,648.0 L474.5,652.7 L473.4,658.8 L476.3,665.5 L478.5,669.6 L483.4,675.6 L486.6,681.0 L488.3,689.8 L487.9,697.9 L486.3,706.6 L479.9,712.0 L473.6,715.4 L469.6,720.1 L462.8,723.5 L459.6,726.9 L457.7,715.4 L449.2,711.4 L446.0,703.3 L438.7,699.9 L438.8,694.5 L435.3,694.5 L432.8,699.9 L430.3,706.0 L426.4,714.7 L426.2,722.8 L429.9,727.5 L432.2,736.3 L435.0,739.0 L440.7,743.0 L445.1,747.8 L448.4,754.5 L448.1,761.2 L451.4,768.7 L452.4,776.1 L448.2,776.1 L442.4,772.0 L436.6,767.3 L433.8,761.9 L430.6,753.2 L430.5,745.1 L427.2,740.3 L423.4,735.0 L419.6,730.2 L421.0,721.5 L423.2,711.4 L424.2,702.6 L422.6,692.5 L421.4,684.4 L422.2,676.3 L419.6,670.9 L414.8,675.0 L408.2,679.0 L402.7,677.0 L406.2,664.2 L403.2,655.4 L399.2,649.4 L395.9,642.6 L396.1,633.9 L388.6,635.9 L382.2,638.6 L374.5,639.3 L367.2,640.6 L362.4,649.4 L352.4,655.4 L341.5,665.5 L332.9,673.0 L324.4,677.7 L318.5,681.0 L317.2,687.8 L316.2,697.9 L314.3,705.3 L312.5,712.7 L308.5,716.1 L306.0,722.8 L301.0,725.5 L296.3,730.9 L291.5,725.5 L290.0,718.1 L288.1,709.3 L285.0,701.3 L283.5,692.5 L281.4,684.4 L280.1,675.6 L280.3,664.2 L281.4,654.1 L283.7,644.0 L283.3,638.6 L279.4,642.6 L272.8,646.0 L267.4,644.0 L263.8,635.2 L270.6,631.2 L264.2,629.1 L260.6,625.1 L258.3,619.0 L254.8,613.6 L243.4,615.0 L234.5,615.7 L225.8,615.7 L217.4,615.0 L209.2,613.6 L202.9,611.6 L204.2,603.5 L198.4,603.5 L190.5,606.2 L183.5,604.9 L179.3,600.8 L173.8,597.5 L174.3,588.7 L173.1,582.6 L179.3,570.6 L186.0,558.6 L193.2,546.6 L200.8,534.6 L204.1,538.2 L212.8,537.5 L224.2,532.8 L229.4,522.7 L229.2,516.0 L238.1,510.7 L239.5,502.7 L239.0,494.7 L238.7,487.4 L245.2,486.0 L258.7,480.7 L266.8,471.5 L257.4,470.2 L250.9,471.5 L262.7,458.7 L275.1,446.1 L288.4,433.6 L302.4,421.1 L317.0,408.8 L332.1,396.7 L347.6,384.7 L363.5,372.8 L379.7,361.2 L396.3,349.7 L413.2,338.4 L426.3,335.6 L430.8,336.1 L435.4,336.7 L441.7,336.1 L448.0,335.6 L459.3,333.9 L466.6,332.7 L476.4,328.2 L480.7,329.6 L485.1,331.0 L489.6,333.9 L493.0,335.3 L496.4,336.7Z M523.2,298.0 L511.9,300.8 L500.7,303.5 L482.0,310.5 L466.0,318.2 L465.9,322.6 L459.8,323.1 L453.6,323.7 L450.5,322.3 L447.5,320.9 L453.1,317.6 L476.7,308.9 L489.1,304.9 L501.7,300.9 L515.2,298.0 L528.8,295.1 L538.1,293.7 L547.4,292.4 L556.6,291.0 L564.7,290.4 L572.8,289.7 L569.3,291.5 L560.7,292.4 L552.1,293.3 L542.5,294.9 L532.9,296.4 L523.2,298.0Z M738.5,272.7 L734.3,279.6 L725.4,281.2 L716.5,282.8 L707.4,284.5 L700.6,284.0 L693.8,283.5 L693.0,279.6 L706.9,274.9 L720.6,270.5 L726.5,271.2 L732.5,271.9 L738.5,272.7Z M886.6,1091.6 L885.8,1094.2 L880.8,1098.9 L875.5,1098.9 L869.4,1096.2 L863.3,1093.6 L866.6,1087.0 L870.4,1081.6 L877.0,1076.3 L881.1,1071.7 L883.5,1066.3 L884.5,1059.7 L886.9,1058.3 L890.8,1063.0 L897.6,1066.3 L897.0,1070.3 L893.1,1076.3 L894.4,1081.0 L889.2,1081.6 L886.3,1085.0 L886.6,1091.6Z M745.2,1062.3 L754.5,1061.0 L757.1,1068.3 L756.9,1075.0 L754.2,1079.0 L748.5,1078.3 L742.2,1071.7 L734.6,1060.3 L745.2,1062.3Z M914.8,1045.6 L911.2,1049.6 L908.8,1050.9 L909.6,1055.0 L907.3,1061.7 L902.8,1065.7 L899.1,1063.7 L899.7,1057.0 L895.5,1053.0 L891.2,1050.9 L894.0,1046.3 L893.8,1040.2 L891.3,1033.5 L884.4,1026.8 L880.6,1021.4 L878.1,1017.3 L883.4,1021.4 L888.6,1025.4 L893.7,1031.5 L896.8,1032.8 L900.7,1038.9 L906.7,1040.9 L911.8,1038.9 L914.9,1040.2 L914.8,1045.6Z M568.1,900.1 L575.4,902.1 L575.6,895.4 L579.6,890.0 L584.6,883.2 L590.1,879.9 L598.2,883.2 L601.5,886.6 L608.5,885.9 L609.3,877.8 L612.7,870.4 L615.4,867.7 L624.2,867.0 L623.8,862.3 L629.9,865.0 L639.0,867.7 L644.9,867.7 L649.7,867.7 L647.4,875.1 L645.5,879.9 L643.9,886.6 L650.4,892.0 L656.6,894.7 L666.2,901.4 L672.5,904.8 L677.0,903.4 L679.3,893.3 L679.4,883.2 L678.5,873.1 L679.1,866.4 L680.9,859.0 L684.7,863.0 L688.3,871.1 L691.7,881.9 L697.7,883.2 L701.7,887.9 L703.8,896.7 L707.5,903.4 L709.6,911.5 L714.8,915.6 L722.4,920.3 L727.7,925.7 L733.0,935.1 L739.1,937.8 L741.9,945.9 L750.4,952.6 L756.0,959.4 L758.2,968.8 L761.2,976.2 L761.7,987.7 L761.6,997.8 L760.5,1005.2 L757.5,1011.3 L756.2,1019.4 L754.8,1026.8 L755.5,1034.8 L755.6,1038.9 L748.8,1040.2 L743.0,1042.9 L739.4,1048.9 L733.7,1044.9 L728.6,1042.9 L723.3,1046.9 L715.8,1044.2 L707.9,1042.2 L700.6,1036.9 L697.1,1031.5 L691.3,1025.4 L686.8,1025.4 L686.6,1019.4 L682.8,1016.0 L678.7,1005.9 L678.0,1011.3 L676.8,1014.6 L681.1,1021.4 L676.7,1023.4 L671.9,1020.7 L667.5,1017.3 L664.5,1011.3 L657.4,1006.6 L650.4,1001.8 L640.7,997.8 L632.4,998.5 L624.7,1001.2 L616.6,1002.5 L608.7,1004.5 L602.5,1007.9 L600.6,1014.0 L592.4,1014.6 L583.7,1014.0 L578.2,1017.3 L572.4,1021.4 L565.6,1021.4 L558.8,1018.0 L553.5,1016.0 L551.7,1011.3 L554.5,1007.9 L551.7,999.8 L545.9,991.1 L540.6,980.9 L534.8,972.9 L529.7,964.1 L526.0,956.0 L526.8,948.6 L524.4,941.2 L522.2,933.8 L526.0,932.4 L532.6,927.0 L539.7,924.3 L546.4,922.3 L554.8,920.3 L563.2,917.6 L568.7,908.2 L568.1,900.1Z M833.6,935.8 L830.8,936.5 L821.5,930.4 L815.0,923.7 L814.7,921.0 L824.1,927.0 L833.6,935.8Z M891.0,903.4 L898.6,903.4 L898.4,908.2 L891.4,908.2 L891.0,903.4Z M906.3,894.7 L905.4,899.4 L899.6,900.1 L899.3,896.7 L906.3,894.7Z M790.5,851.5 L787.5,852.2 L782.7,850.2 L782.6,848.2 L790.5,851.5Z M752.5,822.6 L759.9,829.3 L758.2,832.0 L752.6,825.9 L752.5,822.6Z M671.2,803.0 L682.0,807.7 L692.2,811.1 L700.2,819.2 L707.5,825.3 L712.3,827.3 L709.0,832.7 L714.1,839.4 L722.1,846.2 L731.5,854.9 L720.8,854.9 L711.8,852.9 L705.5,845.5 L699.2,838.7 L693.2,837.4 L687.5,841.4 L684.8,846.8 L673.0,846.8 L663.7,840.1 L654.9,841.4 L657.9,831.3 L654.0,822.6 L641.9,816.5 L632.9,812.5 L624.0,812.5 L622.0,805.7 L628.4,801.7 L617.7,799.0 L611.6,790.9 L620.4,788.2 L629.4,790.9 L630.7,799.0 L635.7,807.7 L644.4,801.0 L650.3,796.3 L659.3,799.0 L671.2,803.0Z M728.2,821.9 L738.0,813.8 L738.8,821.2 L731.3,825.9 L725.4,828.0 L716.4,824.6 L716.3,822.6 L728.2,821.9Z M741.1,816.5 L733.7,807.7 L729.5,804.4 L729.4,803.0 L736.7,807.7 L742.8,815.8 L741.1,816.5Z M1048.8,650.0 L1052.9,649.4 L1053.9,654.8 L1047.9,657.5 L1048.8,650.0Z M639.0,558.4 L642.2,557.0 L645.2,561.7 L643.8,568.5 L639.4,573.9 L635.2,576.6 L633.9,571.2 L636.3,565.1 L634.0,561.7 L639.0,558.4Z M657.3,555.7 L663.1,555.0 L663.4,557.7 L659.6,561.1 L651.8,564.4 L649.4,561.1 L651.0,557.7 L657.3,555.7Z M698.7,528.1 L705.2,519.4 L708.2,512.7 L711.7,508.0 L717.6,506.7 L715.9,514.0 L716.7,519.4 L711.1,527.4 L707.7,529.4 L705.0,537.5 L701.0,544.9 L695.7,549.6 L695.0,546.3 L688.3,551.6 L681.0,551.6 L677.0,553.7 L672.6,557.0 L669.0,559.7 L667.1,555.0 L664.2,551.6 L657.9,553.7 L650.3,556.4 L642.8,557.0 L642.4,556.4 L650.4,551.0 L657.5,546.3 L668.9,545.6 L675.4,542.9 L682.3,534.1 L683.9,537.5 L692.2,534.1 L698.7,528.1Z M1187.1,329.9 L1194.3,328.6 L1201.4,327.2 L1208.5,325.9 L1215.0,327.9 L1221.5,329.9 L1230.0,329.3 L1238.6,328.7 L1247.4,331.6 L1256.4,334.4 L1265.4,337.3 L1272.4,340.2 L1278.9,340.0 L1285.5,339.8 L1292.0,339.6 L1295.6,335.6 L1302.4,337.0 L1309.3,338.4 L1316.0,339.0 L1322.7,339.6 L1330.2,339.0 L1337.7,338.4 L1342.8,337.0 L1347.8,335.6 L1348.1,332.0 L1343.3,335.0 L1337.5,333.9 L1331.8,332.7 L1332.7,328.2 L1341.0,327.1 L1348.1,331.2 L1348.2,329.9 L1341.4,321.5 L1348.0,316.0 L1356.2,321.5 L1362.3,327.1 L1368.6,332.7 L1373.9,335.6 L1383.6,338.4 L1389.4,342.5 L1392.3,338.4 L1391.0,329.3 L1398.5,329.3 L1406.0,329.3 L1410.8,335.6 L1412.2,344.2 L1406.4,346.6 L1400.6,348.9 L1395.4,353.0 L1392.9,358.9 L1387.7,360.4 L1382.5,361.9 L1375.5,369.1 L1370.8,377.0 L1367.6,386.2 L1370.4,393.7 L1381.2,403.7 L1388.2,404.3 L1395.2,404.9 L1405.8,408.1 L1414.3,411.9 L1422.8,415.7 L1429.7,416.3 L1436.6,417.0 L1438.9,423.7 L1441.1,430.4 L1449.5,438.1 L1455.5,441.4 L1460.3,440.1 L1458.7,431.7 L1454.2,424.0 L1457.9,418.6 L1461.5,413.2 L1460.1,404.9 L1452.7,395.5 L1446.6,389.3 L1446.9,380.1 L1441.2,371.6 L1447.1,371.9 L1453.0,372.2 L1462.6,372.8 L1469.6,375.5 L1476.6,378.3 L1483.6,381.3 L1489.9,392.4 L1498.7,396.2 L1507.2,393.7 L1509.1,384.4 L1522.5,395.5 L1532.2,403.7 L1543.5,414.4 L1551.2,417.6 L1558.9,420.8 L1567.4,428.5 L1576.4,434.9 L1572.5,440.1 L1565.0,446.6 L1559.0,447.6 L1552.9,448.5 L1546.3,448.2 L1539.8,447.9 L1533.5,448.2 L1527.1,448.5 L1519.5,456.4 L1514.8,466.2 L1510.7,470.2 L1519.0,462.9 L1527.3,456.4 L1532.9,456.0 L1538.5,455.7 L1542.9,461.0 L1537.7,464.2 L1543.6,470.8 L1552.1,476.1 L1563.2,477.4 L1568.8,470.8 L1571.1,477.4 L1564.5,481.4 L1555.3,486.0 L1546.7,492.7 L1541.5,488.0 L1545.7,480.7 L1538.1,482.1 L1531.5,486.7 L1522.1,491.3 L1520.0,499.3 L1524.7,504.7 L1518.1,506.7 L1508.3,510.7 L1505.6,513.4 L1506.5,519.4 L1502.4,526.1 L1500.3,534.8 L1495.7,522.7 L1495.7,530.8 L1500.2,536.8 L1504.5,547.6 L1498.6,552.3 L1492.7,557.0 L1486.8,562.4 L1478.9,569.8 L1476.6,577.9 L1478.9,586.7 L1484.2,596.8 L1487.6,606.9 L1486.8,615.7 L1482.1,615.0 L1477.9,608.3 L1471.1,598.1 L1470.8,590.1 L1463.6,583.3 L1455.9,585.3 L1447.9,580.6 L1439.4,581.3 L1431.0,582.0 L1433.5,589.4 L1426.0,588.7 L1417.1,586.0 L1406.8,585.3 L1400.2,588.7 L1390.5,595.5 L1387.7,603.5 L1389.4,611.6 L1387.2,623.8 L1387.2,633.9 L1391.2,645.3 L1397.6,655.4 L1404.8,660.1 L1409.1,662.8 L1419.5,660.1 L1428.1,657.5 L1430.4,647.3 L1431.9,643.3 L1441.7,640.6 L1450.4,640.6 L1448.2,652.1 L1447.1,662.2 L1444.5,667.6 L1442.7,677.7 L1449.8,679.0 L1458.6,678.3 L1467.5,679.0 L1474.8,684.4 L1473.7,697.9 L1473.7,711.4 L1478.1,718.1 L1483.1,724.8 L1490.2,726.2 L1496.0,722.8 L1501.9,721.5 L1509.2,726.9 L1512.2,727.5 L1515.7,726.2 L1521.4,720.8 L1522.3,713.4 L1528.1,710.7 L1536.8,708.0 L1542.5,703.3 L1546.8,706.0 L1544.1,712.7 L1546.3,721.5 L1548.9,712.7 L1554.5,707.3 L1554.3,704.0 L1563.5,710.0 L1566.7,714.7 L1578.5,714.1 L1587.5,716.8 L1596.2,713.4 L1602.2,714.1 L1603.6,719.5 L1609.9,726.2 L1615.9,729.6 L1624.0,738.3 L1631.3,745.1 L1642.0,745.7 L1651.0,746.4 L1660.0,751.8 L1666.1,756.5 L1670.6,768.7 L1675.4,774.0 L1674.3,783.5 L1682.7,786.8 L1687.4,790.9 L1696.3,792.2 L1706.3,797.6 L1709.2,803.7 L1719.8,804.4 L1728.7,805.0 L1737.6,807.1 L1746.3,812.5 L1752.1,818.5 L1762.1,820.5 L1764.1,829.3 L1764.2,838.1 L1761.3,848.2 L1754.2,856.3 L1748.4,863.0 L1741.7,871.8 L1736.4,877.8 L1735.2,890.0 L1734.0,900.1 L1728.6,910.2 L1726.8,918.9 L1719.6,929.0 L1717.6,935.1 L1711.2,939.8 L1702.4,940.5 L1695.1,942.5 L1685.1,947.2 L1675.4,954.0 L1670.3,960.7 L1667.9,970.8 L1665.4,978.2 L1658.4,984.3 L1652.2,994.4 L1643.3,1001.2 L1637.2,1009.9 L1630.2,1015.3 L1621.6,1020.7 L1613.7,1020.7 L1605.6,1017.3 L1602.8,1014.6 L1602.1,1020.0 L1607.1,1024.7 L1608.2,1031.5 L1601.4,1040.2 L1594.6,1044.9 L1582.8,1047.6 L1573.5,1047.6 L1570.9,1055.0 L1567.9,1061.7 L1557.2,1061.0 L1552.2,1067.0 L1558.2,1070.3 L1553.1,1075.0 L1546.1,1083.6 L1537.9,1089.6 L1531.0,1094.9 L1534.2,1101.5 L1536.1,1106.8 L1525.7,1114.6 L1517.9,1122.5 L1511.8,1129.6 L1512.5,1136.1 L1506.9,1136.1 L1510.3,1140.6 L1512.8,1147.0 L1517.6,1149.2 L1522.4,1151.5 L1514.9,1154.0 L1504.2,1155.9 L1496.8,1155.9 L1491.6,1150.2 L1485.7,1145.7 L1483.0,1139.3 L1480.7,1130.9 L1482.2,1121.2 L1484.1,1111.4 L1486.8,1101.5 L1494.8,1091.6 L1501.2,1081.6 L1508.1,1071.7 L1505.5,1065.0 L1509.5,1055.0 L1512.9,1044.9 L1513.1,1036.2 L1517.4,1031.5 L1521.0,1024.7 L1527.4,1014.6 L1531.0,1004.5 L1532.7,991.1 L1535.4,980.9 L1539.2,970.8 L1542.8,960.7 L1544.5,950.6 L1546.7,940.5 L1548.6,927.0 L1548.9,916.9 L1548.9,909.5 L1544.2,903.4 L1537.5,898.7 L1529.1,892.7 L1521.8,887.9 L1516.5,879.2 L1513.9,871.8 L1511.8,866.4 L1508.7,858.3 L1504.9,849.5 L1501.0,840.8 L1497.1,832.7 L1491.9,828.0 L1489.6,822.6 L1489.2,815.8 L1494.0,810.4 L1497.0,807.1 L1497.7,801.7 L1491.8,800.3 L1492.4,792.2 L1496.0,785.5 L1497.2,780.1 L1503.1,777.4 L1504.8,772.0 L1510.1,768.0 L1513.0,759.9 L1511.6,751.8 L1512.6,743.0 L1508.9,737.7 L1511.9,737.0 L1506.4,731.6 L1499.1,726.2 L1494.5,730.2 L1494.7,736.3 L1487.5,735.0 L1479.7,730.2 L1474.9,727.5 L1467.5,720.1 L1461.5,716.1 L1461.3,710.0 L1451.9,698.6 L1444.8,696.5 L1435.8,693.8 L1426.9,691.1 L1417.7,684.4 L1410.4,677.0 L1402.8,679.0 L1395.2,679.7 L1385.0,675.6 L1376.0,670.9 L1365.3,665.5 L1355.2,662.2 L1346.1,654.1 L1342.3,647.3 L1343.8,640.6 L1339.4,631.8 L1330.3,621.1 L1321.3,613.6 L1318.1,605.6 L1312.1,600.2 L1306.1,593.4 L1299.9,584.7 L1296.7,576.6 L1290.8,572.5 L1286.2,571.9 L1287.2,579.9 L1293.2,588.7 L1298.7,596.8 L1303.7,604.9 L1308.0,613.6 L1313.0,621.7 L1319.0,629.1 L1316.2,631.2 L1310.1,623.8 L1303.0,618.4 L1302.7,610.3 L1295.0,604.9 L1287.3,598.1 L1290.6,593.4 L1282.8,585.3 L1279.7,577.9 L1274.8,569.8 L1271.7,563.1 L1265.3,557.7 L1260.2,555.0 L1252.8,552.3 L1251.4,546.3 L1245.1,538.9 L1241.5,531.5 L1238.7,527.4 L1234.1,519.4 L1231.2,513.4 L1232.0,502.7 L1230.2,496.0 L1232.0,484.0 L1231.7,474.1 L1228.3,464.2 L1227.6,460.3 L1236.6,461.6 L1239.3,466.2 L1239.0,457.7 L1235.3,454.4 L1228.4,451.1 L1220.5,445.9 L1212.8,443.3 L1210.2,436.9 L1202.5,427.2 L1198.5,420.8 L1192.6,414.4 L1187.8,406.2 L1182.1,399.9 L1173.5,394.9 L1166.3,395.5 L1159.4,390.0 L1152.4,387.5 L1143.0,386.2 L1137.2,385.6 L1131.3,385.0 L1122.3,381.3 L1113.5,383.2 L1107.3,387.5 L1097.3,390.6 L1098.4,383.2 L1106.1,378.9 L1096.4,381.3 L1087.9,389.3 L1083.5,395.5 L1073.7,401.8 L1062.8,408.1 L1052.0,413.2 L1041.2,417.6 L1033.9,419.2 L1026.5,420.8 L1036.6,415.7 L1047.4,411.3 L1058.5,404.9 L1067.0,398.7 L1069.4,393.7 L1060.5,394.9 L1051.0,394.3 L1047.1,390.6 L1048.1,386.2 L1039.4,383.2 L1034.3,378.9 L1032.4,374.0 L1039.2,369.1 L1045.9,366.7 L1055.5,364.9 L1059.3,358.9 L1052.5,358.9 L1043.2,359.5 L1034.6,357.8 L1029.5,352.4 L1035.3,344.5 L1041.0,336.7 L1049.5,333.9 L1057.9,331.0 L1068.0,325.4 L1074.9,323.5 L1081.8,321.7 L1088.6,319.8 L1094.7,320.7 L1100.8,321.7 L1106.9,322.6 L1115.1,324.0 L1123.4,325.4 L1130.7,326.4 L1138.0,327.3 L1145.4,328.3 L1152.8,329.3 L1159.8,330.6 L1166.9,332.0 L1174.0,333.3 L1180.6,331.6 L1187.1,329.9Z M745.3,494.0 L738.9,496.7 L729.5,502.7 L721.6,499.3 L717.0,504.0 L710.8,506.0 L711.9,500.7 L717.6,494.7 L722.4,494.7 L727.1,487.4 L731.5,479.4 L733.9,482.7 L737.0,488.0 L746.1,488.0 L745.3,494.0Z M1227.1,459.0 L1218.1,453.1 L1208.7,445.3 L1212.8,444.0 L1223.2,448.5 L1232.2,455.1 L1234.4,460.3 L1227.1,459.0Z M739.2,471.5 L734.0,476.1 L737.3,466.2 L743.4,456.4 L747.6,446.6 L751.6,436.9 L756.4,427.8 L760.7,422.1 L762.1,428.5 L759.2,436.9 L754.3,446.6 L754.2,454.4 L748.7,455.1 L744.0,462.9 L744.2,470.8 L739.2,471.5Z M1191.5,424.0 L1191.4,430.4 L1194.9,436.9 L1187.4,430.4 L1185.0,423.3 L1191.5,424.0Z M1088.8,398.7 L1093.4,399.9 L1087.8,404.9 L1080.5,404.9 L1088.8,398.7Z M1316.8,324.3 L1322.7,331.0 L1316.9,333.6 L1311.0,336.1 L1305.3,335.0 L1299.6,333.9 L1293.2,334.4 L1286.8,335.0 L1279.3,335.3 L1271.7,335.6 L1262.8,334.1 L1254.0,332.7 L1255.2,324.3 L1246.1,318.2 L1251.4,310.5 L1258.5,309.7 L1265.6,308.9 L1272.0,310.2 L1278.4,311.6 L1284.4,310.5 L1290.3,309.4 L1296.7,310.5 L1303.1,311.6 L1307.6,321.5 L1316.8,324.3Z M982.6,321.5 L988.6,320.1 L994.5,318.7 L999.8,320.9 L994.1,321.7 L988.5,322.6 L982.6,321.5Z M1227.4,320.4 L1218.8,316.0 L1224.7,310.5 L1222.3,304.1 L1229.3,303.3 L1236.3,302.5 L1243.4,303.0 L1250.5,303.5 L1257.0,306.2 L1251.3,309.4 L1245.6,314.0 L1239.8,318.7 L1233.6,319.5 L1227.4,320.4Z M858.9,300.9 L852.2,300.9 L845.5,300.9 L838.8,300.9 L834.6,299.0 L830.6,297.2 L838.1,296.3 L845.6,295.5 L853.1,294.6 L859.8,295.8 L866.5,297.0 L873.3,298.3 L866.1,299.6 L858.9,300.9Z M1251.9,298.8 L1249.0,293.0 L1255.9,293.0 L1262.8,293.0 L1269.0,294.6 L1275.2,296.2 L1282.4,293.0 L1288.5,293.8 L1294.6,294.6 L1297.8,298.8 L1293.0,299.6 L1288.2,300.4 L1280.4,301.4 L1272.6,302.5 L1265.6,301.2 L1258.7,300.0 L1251.9,298.8Z M1560.1,1136.1 L1551.3,1135.4 L1550.3,1132.9 L1556.6,1131.2 L1562.9,1129.6 L1568.2,1131.6 L1560.1,1136.1Z M2223.8,954.0 L2213.7,958.0 L2208.1,954.0 L2206.6,943.9 L2208.3,933.8 L2215.1,923.7 L2219.7,916.9 L2219.3,906.8 L2221.3,898.7 L2228.4,893.3 L2236.5,891.3 L2244.9,885.2 L2249.4,877.2 L2255.4,869.7 L2259.0,866.4 L2261.7,874.2 L2259.6,885.2 L2257.1,896.2 L2255.3,898.7 L2251.6,906.8 L2243.9,920.3 L2235.7,933.8 L2228.8,947.2 L2223.8,954.0Z M1963.7,535.5 L1974.1,534.1 L1978.9,534.8 L1983.5,536.2 L1983.1,540.9 L1988.5,546.3 L1989.2,552.3 L1987.0,555.0 L1990.3,558.4 L1996.9,561.7 L2005.1,563.8 L2014.2,565.1 L2022.7,567.8 L2026.8,573.2 L2039.3,577.3 L2049.5,581.3 L2053.5,577.3 L2050.2,569.8 L2052.6,565.1 L2058.8,563.8 L2067.5,567.8 L2079.5,571.9 L2092.1,574.6 L2104.7,577.3 L2111.7,573.9 L2117.0,573.2 L2123.7,575.2 L2131.7,574.6 L2134.1,573.2 L2133.7,567.8 L2132.5,561.1 L2131.0,553.0 L2127.2,544.2 L2123.2,537.5 L2118.1,538.2 L2113.3,541.5 L2106.5,542.2 L2099.0,538.9 L2093.6,538.2 L2089.4,541.5 L2081.9,538.2 L2075.9,537.5 L2072.1,532.8 L2064.8,526.1 L2061.2,519.4 L2055.3,515.4 L2051.1,510.7 L2042.5,510.0 L2043.9,514.7 L2040.1,514.7 L2034.8,513.4 L2038.8,518.7 L2042.8,523.4 L2051.1,528.1 L2053.0,531.5 L2048.7,533.5 L2053.1,539.5 L2049.2,539.5 L2043.7,537.5 L2037.7,530.8 L2031.0,524.1 L2023.0,518.0 L2016.4,512.7 L2010.7,504.0 L2003.2,500.0 L1994.0,496.0 L1984.3,492.0 L1974.8,486.0 L1967.4,480.7 L1964.6,481.4 L1960.2,478.1 L1957.2,481.4 L1962.8,488.0 L1970.8,492.0 L1977.1,497.3 L1986.0,502.7 L1991.8,503.3 L1993.1,505.3 L2004.3,510.0 L2012.3,514.0 L2012.9,516.7 L2003.3,512.7 L2004.3,518.0 L2009.9,522.7 L2009.3,527.4 L2006.0,529.4 L2003.8,522.7 L1997.7,516.0 L1989.2,512.0 L1982.9,508.0 L1974.5,506.0 L1966.3,500.7 L1957.7,496.7 L1951.8,490.0 L1942.1,486.7 L1938.8,490.7 L1936.1,494.0 L1929.5,494.7 L1921.3,492.7 L1917.0,495.3 L1921.2,501.3 L1918.9,506.7 L1913.2,510.0 L1912.3,519.4 L1916.8,524.7 L1916.6,532.1 L1911.9,537.5 L1906.6,538.2 L1898.3,538.2 L1894.2,542.9 L1887.4,537.5 L1880.4,535.5 L1872.9,536.2 L1870.4,529.4 L1865.2,525.4 L1863.0,520.7 L1861.2,510.7 L1857.0,502.7 L1850.8,495.3 L1857.6,491.3 L1868.8,492.0 L1879.9,492.7 L1889.4,493.3 L1888.5,487.4 L1884.1,479.4 L1879.2,474.1 L1871.7,468.2 L1866.2,466.2 L1856.7,463.6 L1853.1,459.6 L1860.6,457.7 L1868.3,458.3 L1862.8,451.8 L1867.3,453.8 L1873.6,452.4 L1878.0,449.2 L1875.1,444.6 L1878.2,442.7 L1881.3,440.7 L1881.3,436.9 L1880.6,431.7 L1881.4,427.8 L1888.4,427.2 L1894.8,425.9 L1890.8,420.8 L1884.2,415.7 L1879.7,411.3 L1875.2,404.3 L1879.4,401.2 L1882.5,401.8 L1890.5,411.3 L1892.8,416.3 L1897.8,420.8 L1904.7,424.0 L1908.2,424.0 L1913.3,421.4 L1922.3,424.6 L1927.0,422.7 L1931.5,419.5 L1938.9,419.5 L1945.8,421.4 L1946.4,419.5 L1948.2,416.3 L1943.2,411.3 L1936.3,403.1 L1939.5,400.5 L1946.5,404.9 L1950.9,403.1 L1944.1,396.8 L1936.9,393.7 L1935.2,390.0 L1943.4,388.7 L1952.9,388.7 L1959.6,386.2 L1948.1,382.6 L1941.8,383.2 L1934.4,385.0 L1927.0,386.9 L1918.8,383.8 L1911.4,380.1 L1901.0,371.0 L1900.8,364.9 L1901.4,358.9 L1899.9,354.8 L1889.6,351.2 L1882.1,352.4 L1886.9,358.9 L1886.6,363.7 L1882.3,367.9 L1885.4,374.0 L1893.9,381.3 L1906.4,386.2 L1907.2,390.6 L1906.7,395.5 L1912.1,401.8 L1916.7,409.4 L1911.1,410.6 L1913.3,415.1 L1906.4,415.1 L1902.8,411.3 L1895.5,406.2 L1885.5,399.9 L1877.9,393.7 L1870.8,390.0 L1869.1,393.1 L1867.6,397.4 L1862.5,398.7 L1853.7,395.5 L1846.5,390.6 L1837.8,383.2 L1830.8,375.2 L1832.4,371.0 L1836.5,366.1 L1838.9,361.9 L1840.4,357.2 L1838.1,351.2 L1835.7,345.4 L1833.1,339.6 L1834.6,335.6 L1836.0,331.6 L1838.0,328.2 L1844.3,326.5 L1849.7,324.3 L1854.2,321.5 L1861.8,320.9 L1871.9,322.0 L1884.4,325.4 L1889.4,328.2 L1900.4,329.9 L1910.6,331.0 L1921.8,332.7 L1932.4,335.6 L1943.1,338.4 L1955.5,343.1 L1958.6,347.7 L1954.2,348.6 L1949.9,349.5 L1941.6,348.3 L1933.3,347.1 L1922.8,346.0 L1936.6,351.2 L1947.4,358.3 L1956.7,361.3 L1965.0,363.1 L1963.3,357.8 L1973.2,358.3 L1961.2,351.2 L1965.2,347.7 L1970.8,348.0 L1976.3,348.3 L1962.7,341.3 L1958.5,335.6 L1971.5,338.4 L1979.6,345.4 L1984.6,344.2 L1985.8,341.3 L1986.8,338.4 L2003.7,349.7 L2020.3,361.2 L2036.5,372.8 L2052.4,384.7 L2067.9,396.7 L2083.0,408.8 L2097.6,421.1 L2111.6,433.6 L2124.9,446.1 L2137.3,458.7 L2149.1,471.5 L2145.0,472.8 L2141.4,474.8 L2143.0,482.7 L2150.2,489.4 L2158.9,497.3 L2169.7,504.0 L2182.5,512.7 L2182.3,516.0 L2187.9,526.1 L2195.2,532.8 L2199.2,534.6 L2206.8,546.6 L2214.0,558.6 L2220.7,570.6 L2226.9,582.6 L2219.6,580.6 L2215.8,583.3 L2217.4,586.7 L2224.1,594.1 L2230.7,600.2 L2236.9,605.6 L2241.7,618.8 L2245.8,632.1 L2249.5,645.3 L2253.0,658.6 L2256.4,671.8 L2259.4,685.1 L2256.8,686.4 L2248.9,691.1 L2240.8,695.2 L2232.7,699.2 L2223.9,699.9 L2221.2,694.5 L2216.9,684.4 L2213.0,674.3 L2206.8,665.5 L2200.1,657.5 L2192.6,650.7 L2186.2,644.0 L2182.9,635.9 L2176.5,627.1 L2168.7,620.4 L2162.4,611.6 L2154.4,603.5 L2146.7,595.5 L2142.5,586.7 L2143.7,598.1 L2138.4,594.8 L2128.2,584.0 L2127.9,586.0 L2136.4,595.5 L2143.4,603.5 L2149.7,611.6 L2159.3,623.8 L2162.3,630.5 L2170.5,637.2 L2174.5,644.0 L2177.1,654.1 L2180.5,660.8 L2187.4,665.5 L2194.3,677.7 L2198.9,682.4 L2206.9,687.1 L2216.2,695.9 L2222.9,700.6 L2223.3,707.3 L2229.1,714.7 L2235.0,714.7 L2243.6,712.7 L2249.2,710.0 L2257.9,709.3 L2263.4,706.6 L2265.1,717.9 L2266.4,729.2 L2264.1,735.0 L2261.0,746.4 L2256.9,755.2 L2251.4,763.9 L2245.8,770.0 L2237.1,776.7 L2229.6,785.5 L2222.3,792.2 L2216.1,799.0 L2211.1,805.7 L2206.4,815.8 L2202.8,824.6 L2204.1,831.3 L2203.3,839.4 L2205.1,849.5 L2208.3,856.9 L2206.5,869.7 L2205.2,883.2 L2202.3,892.0 L2195.0,898.0 L2185.3,902.1 L2177.2,906.8 L2167.9,913.5 L2162.4,919.6 L2160.9,930.4 L2162.1,937.1 L2159.3,947.2 L2151.9,952.6 L2141.7,957.4 L2138.3,964.1 L2134.0,974.2 L2127.3,980.9 L2118.8,987.7 L2109.2,996.4 L2100.3,1003.2 L2090.5,1009.3 L2081.2,1013.3 L2074.9,1014.6 L2066.1,1015.3 L2057.7,1015.3 L2051.0,1017.3 L2041.3,1020.0 L2037.0,1017.3 L2034.3,1016.0 L2037.6,1007.9 L2038.0,1003.2 L2042.1,997.8 L2040.6,987.7 L2040.2,978.2 L2036.4,970.8 L2036.1,962.7 L2037.5,954.0 L2039.2,940.5 L2039.9,935.1 L2036.7,925.7 L2033.4,913.5 L2031.0,905.5 L2033.1,894.7 L2038.0,883.2 L2045.6,871.8 L2049.7,863.0 L2049.1,852.9 L2047.0,844.8 L2046.5,836.0 L2044.3,825.9 L2044.1,819.2 L2039.1,812.5 L2031.7,804.4 L2027.9,795.6 L2025.0,789.5 L2028.6,783.5 L2029.7,777.4 L2030.6,768.7 L2030.4,761.9 L2025.5,758.5 L2022.3,754.5 L2015.2,755.8 L2008.7,756.5 L2003.7,750.5 L1997.9,743.7 L1988.9,742.4 L1980.1,743.7 L1974.4,747.1 L1966.9,750.5 L1959.9,753.2 L1952.1,751.1 L1944.9,750.5 L1936.1,753.2 L1927.4,755.8 L1921.2,751.8 L1915.0,746.4 L1907.6,741.0 L1901.4,736.3 L1894.5,731.6 L1891.1,724.8 L1887.7,719.5 L1881.2,712.7 L1876.6,708.0 L1870.1,702.6 L1867.6,695.9 L1864.4,689.1 L1862.3,686.4 L1865.7,681.0 L1866.7,675.6 L1866.3,665.5 L1865.6,657.5 L1863.0,652.7 L1858.6,644.0 L1858.6,637.2 L1860.9,630.5 L1861.9,623.8 L1866.0,615.7 L1866.2,608.9 L1870.6,603.5 L1872.0,598.1 L1879.5,594.1 L1884.8,588.7 L1886.5,583.3 L1883.0,574.6 L1883.2,567.1 L1885.4,561.1 L1890.6,557.0 L1893.5,553.0 L1893.1,544.2 L1896.2,543.6 L1905.5,548.3 L1915.9,548.9 L1920.8,544.9 L1927.7,541.5 L1934.4,538.2 L1944.9,536.8 L1956.0,536.8 L1963.7,535.5Z M2070.5,512.7 L2068.1,510.0 L2062.4,511.7 L2056.7,513.4 L2058.8,514.0 L2064.6,513.4 L2070.5,512.7Z M2049.5,488.0 L2051.6,496.0 L2057.4,504.0 L2065.6,508.0 L2077.0,508.7 L2083.5,502.7 L2094.4,502.7 L2106.0,507.3 L2115.6,509.3 L2126.5,509.3 L2132.2,505.3 L2126.5,498.7 L2113.7,492.7 L2100.9,486.7 L2090.2,481.4 L2091.2,474.8 L2088.3,468.2 L2081.5,469.5 L2073.7,472.8 L2075.9,478.7 L2085.4,481.4 L2081.1,483.4 L2075.2,486.7 L2065.2,480.7 L2064.2,475.4 L2055.2,472.8 L2048.9,472.8 L2049.3,480.7 L2049.5,488.0Z M1514.5,662.8 L1514.6,664.9 L1505.9,665.5 L1502.7,661.5 L1514.5,662.8Z M1567.6,660.8 L1577.0,661.5 L1576.7,664.2 L1567.9,664.2 L1567.6,660.8Z M1551.3,662.2 L1544.6,666.2 L1536.7,662.8 L1525.5,660.8 L1533.6,660.1 L1534.8,654.1 L1531.1,651.4 L1540.5,651.4 L1550.5,652.7 L1556.6,656.1 L1560.5,660.1 L1551.3,662.2Z M1521.2,651.4 L1513.6,651.6 L1506.0,651.7 L1508.0,646.7 L1501.4,645.3 L1497.0,640.6 L1485.1,637.2 L1479.1,634.5 L1470.5,635.9 L1462.5,637.9 L1467.3,632.5 L1475.8,629.8 L1487.4,629.8 L1496.5,633.9 L1505.6,638.6 L1516.0,645.3 L1525.7,649.4 L1521.2,651.4Z M1605.3,465.6 L1606.0,471.5 L1600.5,470.8 L1589.4,469.5 L1580.1,465.6 L1570.4,464.9 L1571.4,459.0 L1573.0,451.1 L1574.4,442.0 L1579.9,439.4 L1579.6,444.6 L1584.6,450.5 L1593.7,453.8 L1598.5,459.0 L1605.3,465.6Z M1538.2,450.5 L1545.3,452.4 L1552.5,454.4 L1554.0,455.7 L1547.7,454.1 L1541.5,452.4 L1538.2,450.5Z M1823.1,427.2 L1828.0,435.6 L1823.8,437.5 L1819.6,439.4 L1811.0,438.1 L1809.3,432.3 L1806.5,428.5 L1799.6,422.7 L1806.1,421.4 L1803.6,416.3 L1812.0,416.3 L1819.5,420.2 L1823.1,427.2Z M1838.7,427.8 L1834.1,423.3 L1828.4,418.2 L1821.5,418.9 L1815.4,414.4 L1809.7,409.4 L1806.0,404.9 L1804.1,399.9 L1801.2,394.9 L1809.8,394.9 L1811.5,401.2 L1813.4,400.5 L1821.2,401.2 L1824.3,407.5 L1824.0,410.0 L1829.0,411.3 L1834.7,414.4 L1841.4,420.2 L1849.6,424.0 L1854.2,427.2 L1857.4,430.4 L1866.0,432.3 L1867.5,440.1 L1872.1,442.0 L1868.4,444.6 L1862.2,445.3 L1855.0,445.9 L1851.3,447.9 L1846.1,447.9 L1840.8,449.2 L1842.8,443.3 L1847.0,442.0 L1848.6,440.7 L1842.5,439.4 L1835.5,438.1 L1837.1,433.6 L1831.6,428.5 L1838.7,427.8Z M1396.2,361.9 L1398.7,356.0 L1399.1,350.7 L1408.2,351.2 L1417.0,356.6 L1424.7,358.9 L1426.8,364.3 L1417.2,363.1 L1412.0,364.6 L1406.8,366.1 L1396.2,361.9Z M1717.2,363.7 L1711.9,365.5 L1701.7,364.3 L1695.9,363.4 L1690.1,362.5 L1690.3,358.9 L1679.2,356.6 L1686.7,354.8 L1680.8,353.9 L1674.8,353.0 L1678.3,347.7 L1689.7,353.0 L1693.1,351.8 L1699.4,348.9 L1706.6,347.1 L1715.6,350.1 L1725.7,356.0 L1723.1,360.1 L1717.2,363.7Z M1446.1,356.0 L1453.8,353.0 L1452.5,345.4 L1444.8,338.4 L1439.1,335.6 L1429.1,332.7 L1420.5,328.2 L1414.1,328.2 L1407.4,327.6 L1400.8,327.1 L1395.3,326.8 L1389.9,326.5 L1380.9,325.4 L1373.5,322.6 L1366.7,316.0 L1366.2,309.4 L1371.7,307.8 L1377.1,306.2 L1382.3,306.5 L1387.5,306.7 L1394.6,306.7 L1401.8,306.7 L1412.2,311.1 L1418.1,312.4 L1423.9,313.8 L1430.3,316.0 L1436.7,318.2 L1443.9,319.8 L1451.1,321.5 L1458.6,323.4 L1466.0,325.4 L1466.4,329.9 L1477.0,337.3 L1484.6,339.3 L1492.3,341.3 L1503.4,345.4 L1503.8,350.1 L1500.3,356.0 L1494.3,361.9 L1501.6,369.1 L1500.9,375.2 L1489.6,371.0 L1480.3,371.0 L1469.7,367.9 L1460.6,363.1 L1449.9,359.5 L1444.4,359.8 L1438.8,360.1 L1434.8,356.0 L1440.5,356.0 L1446.1,356.0Z M1559.5,260.7 L1567.1,261.8 L1574.8,263.0 L1582.6,264.2 L1591.2,265.1 L1599.8,266.1 L1608.5,267.1 L1617.4,268.1 L1626.4,269.2 L1623.5,271.1 L1620.4,273.0 L1617.3,274.9 L1622.2,282.0 L1632.2,292.0 L1642.2,299.8 L1645.5,307.8 L1644.3,314.3 L1656.9,322.6 L1657.6,327.6 L1654.6,331.3 L1651.5,335.0 L1643.9,336.1 L1636.2,337.3 L1632.5,340.7 L1628.8,344.2 L1624.9,347.7 L1620.9,351.2 L1614.9,352.1 L1608.8,353.0 L1606.3,358.9 L1608.0,367.9 L1608.0,377.0 L1611.6,386.2 L1603.5,386.2 L1591.0,381.3 L1581.2,378.3 L1570.7,371.0 L1559.9,363.1 L1552.2,356.0 L1540.0,347.1 L1533.1,338.4 L1536.2,335.6 L1539.3,332.7 L1537.5,327.1 L1530.1,325.7 L1522.7,324.3 L1513.5,316.0 L1503.3,307.8 L1490.1,299.8 L1483.0,297.2 L1475.9,294.6 L1467.6,294.1 L1459.4,293.6 L1451.9,294.1 L1444.4,294.6 L1436.7,292.0 L1429.0,289.5 L1429.9,285.4 L1423.4,284.5 L1416.9,283.5 L1422.0,281.9 L1427.1,280.2 L1432.1,278.7 L1435.2,273.6 L1440.5,271.3 L1445.7,269.2 L1451.1,267.3 L1456.3,265.4 L1463.1,265.1 L1469.9,264.8 L1476.6,264.5 L1483.4,264.2 L1489.7,263.5 L1495.9,262.9 L1502.1,262.2 L1508.4,261.7 L1514.6,261.1 L1520.8,260.5 L1527.0,259.9 L1533.5,260.1 L1540.0,260.2 L1546.5,260.4 L1553.0,260.5 L1559.5,260.7Z M1334.5,306.7 L1338.7,313.2 L1334.6,319.8 L1326.0,319.3 L1317.5,318.7 L1315.5,311.6 L1320.1,306.2 L1327.3,306.5 L1334.5,306.7Z M1358.3,305.1 L1362.5,310.5 L1357.4,313.2 L1352.1,316.0 L1348.0,316.0 L1343.8,316.0 L1339.9,310.5 L1342.1,305.1 L1350.2,305.1 L1358.3,305.1Z M1377.4,302.5 L1369.1,302.1 L1360.9,301.8 L1352.7,301.4 L1343.9,299.3 L1335.1,297.2 L1331.4,293.0 L1336.3,290.5 L1343.2,291.5 L1350.2,292.5 L1357.2,293.6 L1363.8,295.1 L1370.5,296.7 L1377.0,296.3 L1383.4,296.0 L1389.8,295.6 L1395.2,296.4 L1400.6,297.2 L1401.3,301.9 L1393.3,302.1 L1385.3,302.3 L1377.4,302.5Z M1327.1,292.0 L1328.1,299.8 L1319.9,299.5 L1311.8,299.1 L1303.7,298.8 L1300.2,293.6 L1306.7,292.3 L1313.1,291.0 L1320.1,291.5 L1327.1,292.0Z M1771.7,286.9 L1772.1,291.5 L1763.2,289.2 L1754.3,286.9 L1741.9,283.2 L1729.5,279.6 L1729.9,275.9 L1734.6,275.4 L1739.2,274.9 L1744.3,273.8 L1749.4,272.7 L1757.2,272.9 L1765.0,273.1 L1772.4,274.0 L1779.8,274.9 L1776.3,276.8 L1772.7,278.7 L1771.8,282.0 L1771.8,284.5 L1771.7,286.9Z M1333.7,269.2 L1335.7,269.6 L1339.8,267.1 L1345.3,266.2 L1350.7,265.4 L1356.1,264.6 L1362.7,263.9 L1369.3,263.2 L1375.9,262.5 L1382.4,261.8 L1389.4,261.8 L1396.4,261.8 L1403.4,261.8 L1410.4,261.8 L1416.9,262.1 L1423.3,262.4 L1429.7,262.7 L1436.2,263.0 L1441.1,266.2 L1436.8,268.3 L1432.4,270.5 L1427.1,272.7 L1421.6,274.9 L1417.3,276.5 L1412.9,278.0 L1408.4,279.6 L1406.2,284.5 L1402.4,290.5 L1398.5,292.0 L1394.5,293.6 L1388.5,293.4 L1382.6,293.2 L1376.6,293.0 L1369.9,292.7 L1363.2,292.4 L1356.5,292.0 L1355.9,286.9 L1359.7,285.0 L1363.4,283.0 L1363.9,277.2 L1356.2,275.6 L1357.8,276.3 L1354.5,280.6 L1349.5,281.8 L1344.4,283.0 L1334.9,278.9 L1325.6,274.9 L1329.7,272.0 L1333.7,269.2Z" fill="#1b1c1e" stroke="#fff" stroke-width="2.8" stroke-linejoin="round" paint-order="stroke"/>
<path d="M954.8,1285.6 L962.5,1285.6 L970.1,1285.6 L976.9,1286.0 L983.6,1286.5 L990.3,1287.0 L996.8,1287.2 L1003.3,1287.4 L1009.7,1287.5 L1017.5,1287.8 L1025.3,1288.1 L1033.0,1288.4 L1040.8,1288.7 L1048.5,1289.0 L1055.0,1288.7 L1061.5,1288.5 L1068.1,1288.3 L1074.6,1288.0 L1080.2,1286.2 L1085.9,1284.4 L1091.7,1282.5 L1098.6,1285.8 L1105.3,1289.0 L1112.9,1293.0 L1120.2,1296.8 L1127.4,1300.5 L1120.9,1303.1 L1114.6,1305.6 L1108.4,1308.0 L1102.3,1310.3 L1096.3,1312.5 L1090.1,1313.0 L1083.8,1313.4 L1077.6,1313.9 L1071.4,1314.3 L1065.3,1314.7 L1059.1,1315.2 L1053.0,1315.6 L1046.9,1316.0 L1040.2,1315.6 L1033.5,1315.2 L1026.8,1314.7 L1020.0,1314.3 L1013.2,1313.9 L1006.4,1313.4 L999.5,1313.0 L992.6,1312.5 L984.3,1311.1 L975.9,1309.5 L967.4,1308.0 L958.7,1306.4 L950.0,1304.8 L934.1,1296.1 L934.9,1289.0 L941.5,1287.9 L948.1,1286.7 L954.8,1285.6Z M1408.7,1270.1 L1416.6,1270.4 L1424.4,1270.6 L1432.3,1270.9 L1440.1,1271.2 L1448.1,1271.2 L1456.1,1271.2 L1464.1,1271.2 L1472.1,1271.2 L1478.5,1273.3 L1484.7,1275.4 L1490.8,1277.4 L1496.8,1279.5 L1502.7,1281.5 L1509.1,1282.9 L1515.5,1284.2 L1521.8,1285.6 L1529.1,1285.9 L1536.4,1286.2 L1543.6,1286.5 L1550.4,1286.2 L1557.2,1285.9 L1563.9,1285.6 L1567.9,1287.5 L1571.8,1289.5 L1575.6,1291.4 L1565.2,1294.5 L1555.0,1297.6 L1545.0,1300.5 L1537.2,1301.3 L1529.3,1302.1 L1521.6,1302.9 L1513.8,1303.7 L1506.2,1304.5 L1498.5,1305.3 L1490.9,1306.0 L1483.4,1306.8 L1476.5,1307.0 L1469.5,1307.3 L1462.6,1307.5 L1455.8,1307.8 L1448.9,1308.0 L1442.0,1308.3 L1435.2,1308.5 L1428.4,1308.8 L1422.9,1307.7 L1417.4,1306.5 L1411.8,1305.4 L1406.1,1304.2 L1400.4,1303.0 L1394.7,1301.8 L1388.9,1300.5 L1384.1,1296.8 L1379.3,1293.0 L1374.2,1289.0 L1379.7,1282.8 L1385.3,1276.4 L1393.0,1274.3 L1400.8,1272.2 L1408.7,1270.1Z M1510.2,1223.9 L1503.8,1232.6 L1496.5,1241.1 L1490.0,1241.1 L1490.7,1232.6 L1500.0,1223.9 L1510.6,1216.8 L1510.2,1223.9Z M506.1,1236.6 L516.2,1239.1 L526.2,1241.7 L537.2,1252.3 L533.0,1253.7 L528.9,1255.0 L512.1,1246.7 L506.1,1236.6Z" fill="#8a8a8a" stroke="#fff" stroke-width="1.2"/>
</g>
<path d="M1769.5,1329.0 L1781.1,1325.9 L1793.9,1322.1 L1807.8,1317.5 L1822.7,1312.3 L1838.3,1306.5 L1854.6,1300.2 L1871.4,1293.3 L1888.4,1286.0 L1905.3,1278.4 L1921.7,1270.5 L1937.1,1262.4 L1951.7,1254.2 L1965.8,1245.8 L1979.5,1237.3 L1992.9,1228.6 L2006.0,1219.7 L2019.0,1210.8 L2031.7,1201.7 L2044.2,1192.5 L2056.5,1183.2 L2068.6,1173.8 L2080.4,1164.3 L2091.9,1154.7 L2103.1,1145.1 L2113.9,1135.3 L2124.2,1125.5 L2134.0,1115.7 L2143.4,1105.8 L2152.4,1095.8 L2161.1,1085.8 L2169.6,1075.7 L2177.9,1065.6 L2185.7,1055.5 L2193.0,1045.4 L2199.9,1035.2 L2206.4,1025.1 L2212.6,1014.9 L2218.4,1004.7 L2223.8,994.5 L2228.8,984.3 L2233.4,974.1 L2237.5,963.9 L2241.2,953.7 L2244.5,943.5 L2247.4,933.3 L2250.2,923.1 L2252.9,912.9 L2255.5,902.7 L2258.0,892.5 L2260.2,882.3 L2262.1,872.1 L2263.8,862.0 L2265.2,851.8 L2266.5,841.6 L2267.5,831.4 L2268.4,821.2 L2269.0,811.0 L2269.5,800.8 L2269.9,790.6 L2269.9,780.4 L2269.5,770.2 L2269.0,760.0 L2268.4,749.8 L2267.5,739.6 L2266.5,729.4 L2265.2,719.2 L2263.8,709.0 L2262.1,698.9 L2260.2,688.7 L2258.0,678.5 L2255.5,668.3 L2252.9,658.1 L2250.2,647.9 L2247.4,637.7 L2244.5,627.5 L2241.2,617.3 L2237.5,607.1 L2233.4,596.9 L2228.8,586.7 L2223.8,576.5 L2218.4,566.3 L2212.6,556.1 L2206.4,545.9 L2199.9,535.8 L2193.0,525.6 L2185.7,515.5 L2177.9,505.4 L2169.6,495.3 L2161.1,485.2 L2152.4,475.2 L2143.4,465.2 L2134.0,455.3 L2124.2,445.5 L2113.9,435.7 L2103.1,425.9 L2091.9,416.3 L2080.4,406.7 L2068.6,397.2 L2056.5,387.8 L2044.2,378.5 L2031.7,369.3 L2019.0,360.2 L2006.0,351.3 L1992.9,342.4 L1979.5,333.7 L1965.8,325.2 L1951.7,316.8 L1937.1,308.6 L1921.7,300.5 L1905.3,292.6 L1888.4,285.0 L1871.4,277.7 L1854.6,270.8 L1838.3,264.5 L1822.7,258.7 L1807.8,253.5 L1793.9,248.9 L1781.1,245.1 L1769.5,242.0 L630.5,242.0 L618.9,245.1 L606.1,248.9 L592.2,253.5 L577.3,258.7 L561.7,264.5 L545.4,270.8 L528.6,277.7 L511.6,285.0 L494.7,292.6 L478.3,300.5 L462.9,308.6 L448.3,316.8 L434.2,325.2 L420.5,333.7 L407.1,342.4 L394.0,351.3 L381.0,360.2 L368.3,369.3 L355.8,378.5 L343.5,387.8 L331.4,397.2 L319.6,406.7 L308.1,416.3 L296.9,425.9 L286.1,435.7 L275.8,445.5 L266.0,455.3 L256.6,465.2 L247.6,475.2 L238.9,485.2 L230.4,495.3 L222.1,505.4 L214.3,515.5 L207.0,525.6 L200.1,535.8 L193.6,545.9 L187.4,556.1 L181.6,566.3 L176.2,576.5 L171.2,586.7 L166.6,596.9 L162.5,607.1 L158.8,617.3 L155.5,627.5 L152.6,637.7 L149.8,647.9 L147.1,658.1 L144.5,668.3 L142.0,678.5 L139.8,688.7 L137.9,698.9 L136.2,709.0 L134.8,719.2 L133.5,729.4 L132.5,739.6 L131.6,749.8 L131.0,760.0 L130.5,770.2 L130.1,780.4 L130.1,790.6 L130.5,800.8 L131.0,811.0 L131.6,821.2 L132.5,831.4 L133.5,841.6 L134.8,851.8 L136.2,862.0 L137.9,872.1 L139.8,882.3 L142.0,892.5 L144.5,902.7 L147.1,912.9 L149.8,923.1 L152.6,933.3 L155.5,943.5 L158.8,953.7 L162.5,963.9 L166.6,974.1 L171.2,984.3 L176.2,994.5 L181.6,1004.7 L187.4,1014.9 L193.6,1025.1 L200.1,1035.2 L207.0,1045.4 L214.3,1055.5 L222.1,1065.6 L230.4,1075.7 L238.9,1085.8 L247.6,1095.8 L256.6,1105.8 L266.0,1115.7 L275.8,1125.5 L286.1,1135.3 L296.9,1145.1 L308.1,1154.7 L319.6,1164.3 L331.4,1173.8 L343.5,1183.2 L355.8,1192.5 L368.3,1201.7 L381.0,1210.8 L394.0,1219.7 L407.1,1228.6 L420.5,1237.3 L434.2,1245.8 L448.3,1254.2 L462.9,1262.4 L478.3,1270.5 L494.7,1278.4 L511.6,1286.0 L528.6,1293.3 L545.4,1300.2 L561.7,1306.5 L577.3,1312.3 L592.2,1317.5 L606.1,1322.1 L618.9,1325.9 L630.5,1329.0Z" fill="none" stroke="#000" stroke-width="1.6"/>
<text x="455" y="118.8" font-family="Liberation Sans, sans-serif" font-weight="700" font-size="54.5" textLength="1061" lengthAdjust="spacingAndGlyphs" fill="#000" stroke="#000" stroke-width="1.1">SEA SURFACE TEMPERATURE ANOMALY</text>
<circle cx="1536" cy="100.5" r="7.6" fill="#000"/>
<text x="1582" y="118.8" font-family="Liberation Sans, sans-serif" font-weight="700" font-size="54.5" textLength="364" lengthAdjust="spacingAndGlyphs" fill="#000" stroke="#000" stroke-width="1.1">02 MAR 2025</text>
<text x="641.6" y="190" font-family="Liberation Sans, sans-serif" font-size="39.5" textLength="185" lengthAdjust="spacingAndGlyphs" fill="#111">Data: ERA5</text>
<circle cx="854" cy="176.5" r="5.4" fill="#111"/>
<text x="878.4" y="190" font-family="Liberation Sans, sans-serif" font-size="39.5" textLength="507" lengthAdjust="spacingAndGlyphs" fill="#111">Reference period: 1991–2020</text>
<circle cx="1411.6" cy="176.5" r="5.4" fill="#111"/>
<text x="1438" y="190" font-family="Liberation Sans, sans-serif" font-size="39.5" textLength="322" lengthAdjust="spacingAndGlyphs" fill="#111">Credit: C3S/ECMWF</text>
<path d="M2321.23,135.68 A82.60,82.60 0 1 0 2297.76,203.66 A74.70,74.70 0 1 1 2321.23,135.68Z" fill="#8f1838"/>
<path d="M2188.35,150.75 A18.07,18.07 0 0 1 2204.14,134.29 A22.08,22.08 0 0 1 2239.87,119.84 A30.11,30.11 0 0 1 2291.39,133.89 A18.07,18.07 0 0 1 2309.45,150.75" fill="none" stroke="#8f1838" stroke-width="3.80" stroke-linejoin="miter"/>
<path d="M2256.49,161.01 L2256.49,130.52 A8.00,8.00 0 0 1 2272.49,130.52 L2272.49,161.01 A13.40,13.40 0 1 1 2256.49,161.01Z" fill="#fff" stroke="#8f1838" stroke-width="3.40"/>
<circle cx="2264.49" cy="171.76" r="7.80" fill="#8f1838"/>
<rect x="2261.89" y="130.95" width="5.20" height="40.81" fill="#8f1838"/>
<text x="976.7" y="1402.4" font-family="Liberation Sans, sans-serif" font-size="38.5" textLength="447.6" lengthAdjust="spacingAndGlyphs" fill="#111">Temperature anomaly (°C)</text>
<polygon points="709.0,1429.0 663.5,1451.5 709.0,1474.0" fill="#1c2a5e"/>
<polygon points="1690.5,1429.0 1736.5,1451.5 1690.5,1474.0" fill="#8a1519"/>
<rect x="708.50" y="1429.0" width="49.73" height="45.0" fill="#223d80"/>
<rect x="757.62" y="1429.0" width="49.73" height="45.0" fill="#2654a0"/>
<rect x="806.75" y="1429.0" width="49.73" height="45.0" fill="#3b78be"/>
<rect x="855.88" y="1429.0" width="49.73" height="45.0" fill="#5499d4"/>
<rect x="905.00" y="1429.0" width="49.73" height="45.0" fill="#72b5e3"/>
<rect x="954.12" y="1429.0" width="49.73" height="45.0" fill="#90d0f0"/>
<rect x="1003.25" y="1429.0" width="49.73" height="45.0" fill="#b0def5"/>
<rect x="1052.38" y="1429.0" width="49.73" height="45.0" fill="#cbe9f7"/>
<rect x="1101.50" y="1429.0" width="49.73" height="45.0" fill="#e3f2fa"/>
<rect x="1150.62" y="1429.0" width="49.73" height="45.0" fill="#f6fafc"/>
<rect x="1199.75" y="1429.0" width="49.73" height="45.0" fill="#fffbe8"/>
<rect x="1248.88" y="1429.0" width="49.73" height="45.0" fill="#fef0bd"/>
<rect x="1298.00" y="1429.0" width="49.73" height="45.0" fill="#fbdc8c"/>
<rect x="1347.12" y="1429.0" width="49.73" height="45.0" fill="#fac45e"/>
<rect x="1396.25" y="1429.0" width="49.73" height="45.0" fill="#fba632"/>
<rect x="1445.38" y="1429.0" width="49.73" height="45.0" fill="#f8872e"/>
<rect x="1494.50" y="1429.0" width="49.73" height="45.0" fill="#f1662d"/>
<rect x="1543.62" y="1429.0" width="49.73" height="45.0" fill="#e2432a"/>
<rect x="1592.75" y="1429.0" width="49.73" height="45.0" fill="#d02027"/>
<rect x="1641.88" y="1429.0" width="49.73" height="45.0" fill="#ad1a24"/>
<text x="708.5" y="1514.6" font-family="Liberation Sans, sans-serif" font-size="29.5" text-anchor="middle" fill="#111">-3</text>
<text x="806.8" y="1514.6" font-family="Liberation Sans, sans-serif" font-size="29.5" text-anchor="middle" fill="#111">-2</text>
<text x="905.0" y="1514.6" font-family="Liberation Sans, sans-serif" font-size="29.5" text-anchor="middle" fill="#111">-1</text>
<text x="1003.2" y="1514.6" font-family="Liberation Sans, sans-serif" font-size="29.5" text-anchor="middle" fill="#111">-0.5</text>
<text x="1101.5" y="1514.6" font-family="Liberation Sans, sans-serif" font-size="29.5" text-anchor="middle" fill="#111">-0.2</text>
<text x="1199.8" y="1514.6" font-family="Liberation Sans, sans-serif" font-size="29.5" text-anchor="middle" fill="#111">0</text>
<text x="1298.0" y="1514.6" font-family="Liberation Sans, sans-serif" font-size="29.5" text-anchor="middle" fill="#111">0.2</text>
<text x="1396.2" y="1514.6" font-family="Liberation Sans, sans-serif" font-size="29.5" text-anchor="middle" fill="#111">0.5</text>
<text x="1494.5" y="1514.6" font-family="Liberation Sans, sans-serif" font-size="29.5" text-anchor="middle" fill="#111">1</text>
<text x="1592.8" y="1514.6" font-family="Liberation Sans, sans-serif" font-size="29.5" text-anchor="middle" fill="#111">2</text>
<text x="1691.0" y="1514.6" font-family="Liberation Sans, sans-serif" font-size="29.5" text-anchor="middle" fill="#111">3</text>
<rect x="404" y="1602" width="136" height="91" fill="#0b4aa0"/>
<polygon points="472.00,1612.30 473.17,1615.89 476.95,1615.89 473.89,1618.11 475.06,1621.71 472.00,1619.49 468.94,1621.71 470.11,1618.11 467.05,1615.89 470.83,1615.89" fill="#ffd617"/>
<polygon points="486.90,1616.29 488.07,1619.89 491.85,1619.89 488.79,1622.11 489.96,1625.70 486.90,1623.48 483.84,1625.70 485.01,1622.11 481.95,1619.89 485.73,1619.89" fill="#ffd617"/>
<polygon points="497.81,1627.20 498.98,1630.79 502.75,1630.79 499.70,1633.01 500.86,1636.61 497.81,1634.39 494.75,1636.61 495.92,1633.01 492.86,1630.79 496.64,1630.79" fill="#ffd617"/>
<polygon points="501.80,1642.10 502.97,1645.69 506.75,1645.69 503.69,1647.91 504.86,1651.51 501.80,1649.29 498.74,1651.51 499.91,1647.91 496.85,1645.69 500.63,1645.69" fill="#ffd617"/>
<polygon points="497.81,1657.00 498.98,1660.59 502.75,1660.59 499.70,1662.81 500.86,1666.41 497.81,1664.19 494.75,1666.41 495.92,1662.81 492.86,1660.59 496.64,1660.59" fill="#ffd617"/>
<polygon points="486.90,1667.91 488.07,1671.50 491.85,1671.50 488.79,1673.72 489.96,1677.31 486.90,1675.09 483.84,1677.31 485.01,1673.72 481.95,1671.50 485.73,1671.50" fill="#ffd617"/>
<polygon points="472.00,1671.90 473.17,1675.49 476.95,1675.49 473.89,1677.71 475.06,1681.31 472.00,1679.09 468.94,1681.31 470.11,1677.71 467.05,1675.49 470.83,1675.49" fill="#ffd617"/>
<polygon points="457.10,1667.91 458.27,1671.50 462.05,1671.50 458.99,1673.72 460.16,1677.31 457.10,1675.09 454.04,1677.31 455.21,1673.72 452.15,1671.50 455.93,1671.50" fill="#ffd617"/>
<polygon points="446.19,1657.00 447.36,1660.59 451.14,1660.59 448.08,1662.81 449.25,1666.41 446.19,1664.19 443.14,1666.41 444.30,1662.81 441.25,1660.59 445.02,1660.59" fill="#ffd617"/>
<polygon points="442.20,1642.10 443.37,1645.69 447.15,1645.69 444.09,1647.91 445.26,1651.51 442.20,1649.29 439.14,1651.51 440.31,1647.91 437.25,1645.69 441.03,1645.69" fill="#ffd617"/>
<polygon points="446.19,1627.20 447.36,1630.79 451.14,1630.79 448.08,1633.01 449.25,1636.61 446.19,1634.39 443.14,1636.61 444.30,1633.01 441.25,1630.79 445.02,1630.79" fill="#ffd617"/>
<polygon points="457.10,1616.29 458.27,1619.89 462.05,1619.89 458.99,1622.11 460.16,1625.70 457.10,1623.48 454.04,1625.70 455.21,1622.11 452.15,1619.89 455.93,1619.89" fill="#ffd617"/>
<text x="581" y="1642" font-family="Liberation Sans, sans-serif" font-weight="700" font-size="26.6" textLength="235.5" lengthAdjust="spacingAndGlyphs" fill="#8c8c8c">PROGRAMME OF</text>
<text x="581" y="1673" font-family="Liberation Sans, sans-serif" font-weight="700" font-size="26.6" textLength="320" lengthAdjust="spacingAndGlyphs" fill="#8c8c8c">THE EUROPEAN UNION</text>
<defs><linearGradient id="copg" x1="0" y1="0" x2="0" y2="1"><stop offset="0" stop-color="#8fc3ea"/><stop offset="0.5" stop-color="#3f86c8"/><stop offset="1" stop-color="#1b3f78"/></linearGradient></defs>
<path d="M1030.60,1621.70 A44.0,44.0 0 1 0 1022.35,1681.15 A39.0,39.0 0 1 1 1030.60,1621.70Z" fill="url(#copg)"/>
<text x="987" y="1673" font-family="Liberation Sans, sans-serif" font-size="46.5" textLength="220" lengthAdjust="spacingAndGlyphs" fill="#1b3566" letter-spacing="-1">opernicus</text>
<circle cx="1109.5" cy="1656.5" r="5.6" fill="#f6d21b"/>
<text x="1056.6" y="1691.5" font-family="Liberation Sans, sans-serif" font-size="15.2" textLength="150.5" lengthAdjust="spacingAndGlyphs" fill="#2a66ad">Europe’s eyes on Earth</text>
<text x="1287.5" y="1614.8" font-family="Liberation Sans, sans-serif" font-size="14.8" textLength="134.5" lengthAdjust="spacingAndGlyphs" fill="#1a70b4">IMPLEMENTED BY</text>
<mask id="ecm"><rect x="1280" y="1620" width="100" height="80" fill="#fff"/><circle cx="1318.1" cy="1660.3" r="13.2" fill="#000"/><circle cx="1343.2" cy="1660.3" r="13.2" fill="#000"/><rect x="1280" y="1655" width="100" height="11" fill="#000"/><rect x="1287" y="1657.3" width="26.2" height="6.5" fill="#fff"/></mask>
<g mask="url(#ecm)" fill="#0a6aad"><circle cx="1318.1" cy="1660.3" r="30.5"/><circle cx="1343.2" cy="1660.3" r="30.5"/></g>
<text x="1384.6" y="1687.4" font-family="Liberation Sans, sans-serif" font-weight="700" font-size="72" textLength="267" lengthAdjust="spacingAndGlyphs" fill="#0a6aad" stroke="#0a6aad" stroke-width="1.2">ECMWF</text>
<path d="M1801.09,1641.56 A43.70,43.70 0 1 0 1788.68,1677.52 A39.52,39.52 0 1 1 1801.09,1641.56Z" fill="#8f1838"/>
<path d="M1730.80,1649.53 A9.56,9.56 0 0 1 1739.15,1640.82 A11.68,11.68 0 0 1 1758.05,1633.18 A15.93,15.93 0 0 1 1785.31,1640.61 A9.56,9.56 0 0 1 1794.86,1649.53" fill="none" stroke="#8f1838" stroke-width="2.31" stroke-linejoin="miter"/>
<path d="M1766.85,1654.96 L1766.85,1638.83 A4.23,4.23 0 0 1 1775.31,1638.83 L1775.31,1654.96 A7.09,7.09 0 1 1 1766.85,1654.96Z" fill="#fff" stroke="#8f1838" stroke-width="2.07"/>
<circle cx="1771.08" cy="1660.65" r="4.13" fill="#8f1838"/>
<rect x="1769.70" y="1639.05" width="2.75" height="21.59" fill="#8f1838"/>
<text x="1806.7" y="1638.3" font-family="Liberation Sans, sans-serif" font-size="21.3" textLength="90" lengthAdjust="spacingAndGlyphs" fill="#8f1838">Climate</text>
<text x="1806.7" y="1666.5" font-family="Liberation Sans, sans-serif" font-size="21.3" textLength="185" lengthAdjust="spacingAndGlyphs" fill="#8f1838">Change Service</text>
<text x="1808.5" y="1689.8" font-family="Liberation Sans, sans-serif" font-size="13.2" textLength="142" lengthAdjust="spacingAndGlyphs" fill="#7a7a7a">climate.copernicus.eu</text>
</svg>

</body></html>
